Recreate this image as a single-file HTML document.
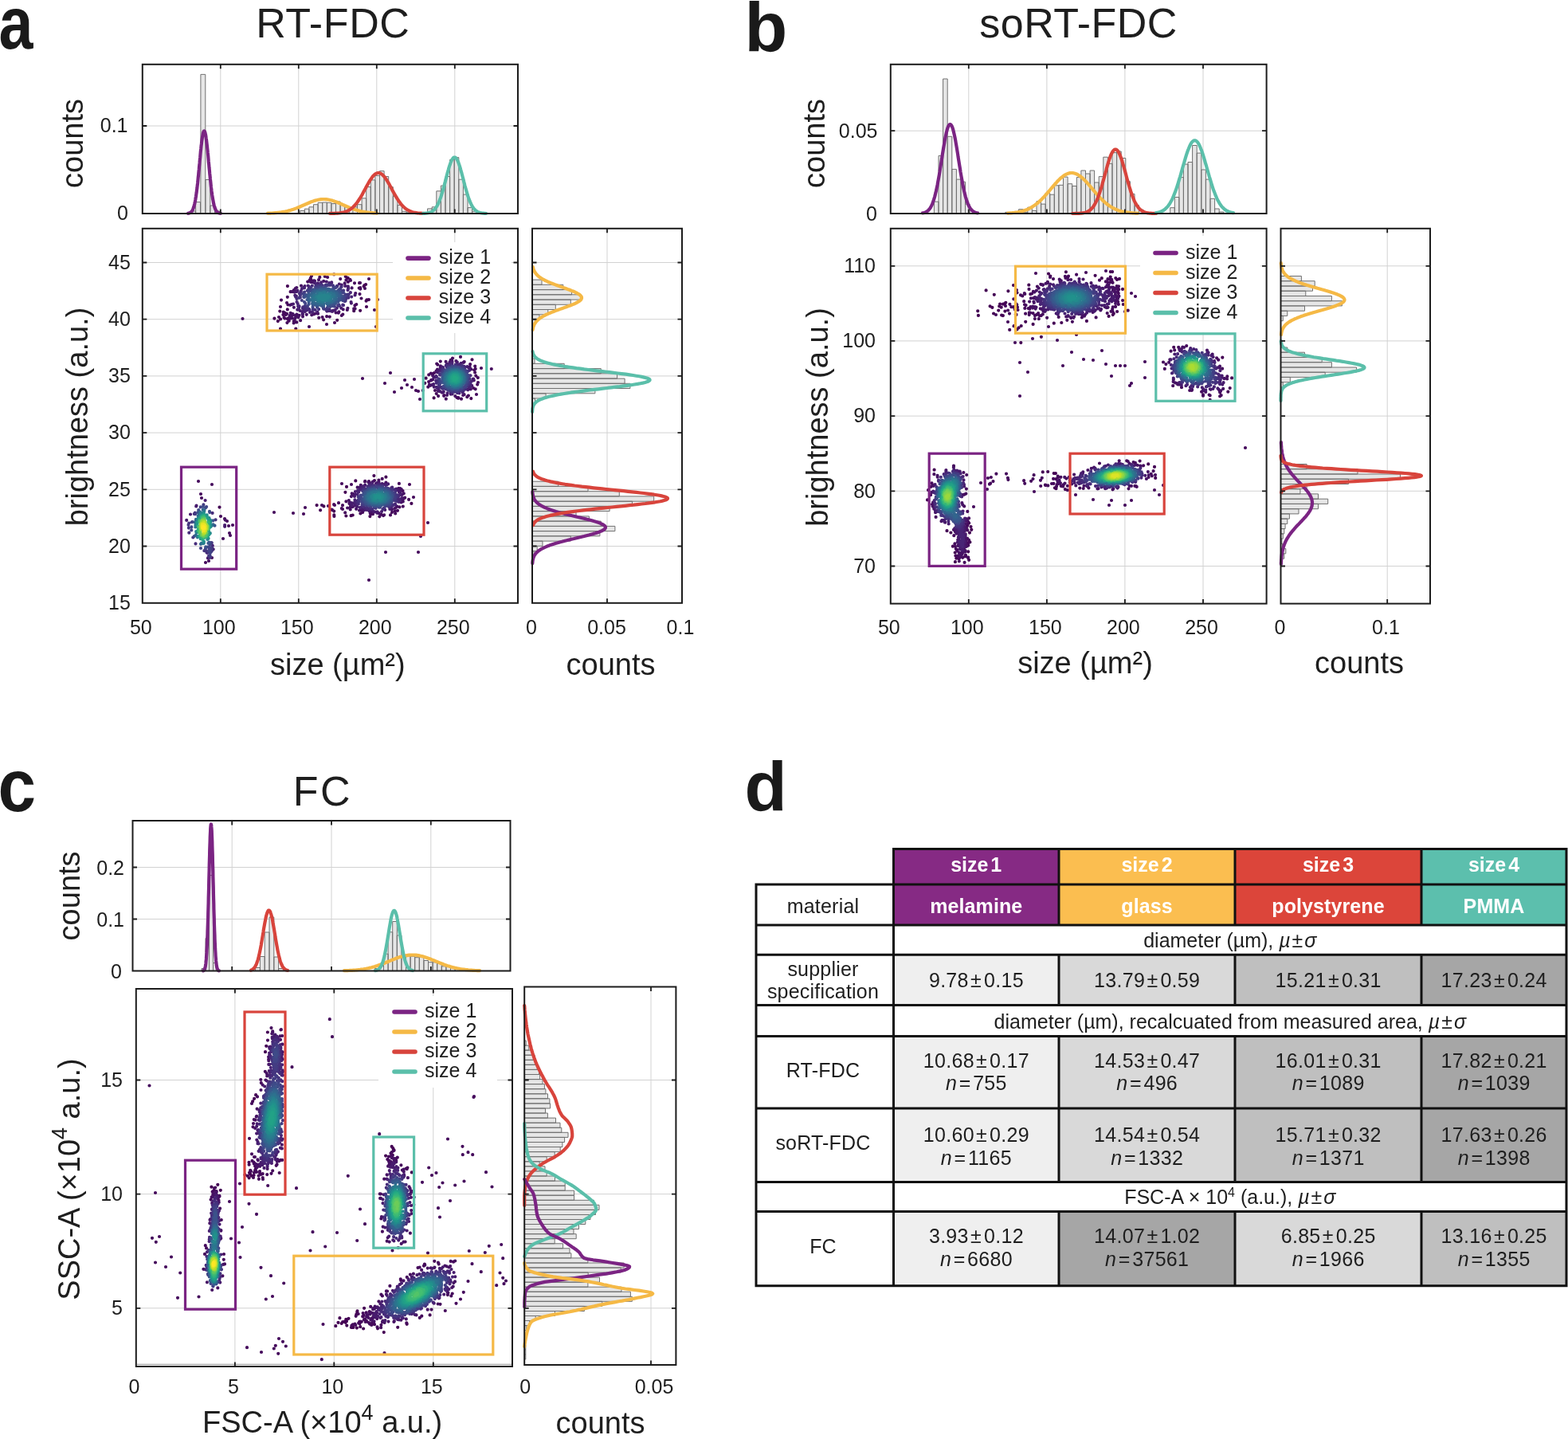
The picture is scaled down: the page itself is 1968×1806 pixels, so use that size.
<!DOCTYPE html>
<html><head><meta charset="utf-8"><title>Figure</title>
<style>html,body{margin:0;padding:0;background:#fff;width:1968px;height:1806px;overflow:hidden}svg{display:block}</style>
</head><body>
<svg width="1968" height="1806" viewBox="0 0 1968 1806" font-family="'Liberation Sans', Arial, Helvetica, sans-serif"><defs><clipPath id="ca1"><rect x="178.8" y="78.8" width="471.2" height="191.8"/></clipPath><clipPath id="ca3"><rect x="665.5" y="286.8" width="190.5" height="470"/></clipPath><clipPath id="ca2"><rect x="178.8" y="286.8" width="471.2" height="470"/></clipPath><clipPath id="cb1"><rect x="1117.8" y="78.8" width="471.8" height="191.8"/></clipPath><clipPath id="cb3"><rect x="1605" y="286.8" width="190" height="470.8"/></clipPath><clipPath id="cb2"><rect x="1117.8" y="286.8" width="471.8" height="470.8"/></clipPath><clipPath id="cc1"><rect x="166.5" y="1028" width="474" height="193"/></clipPath><clipPath id="cc3"><rect x="655.8" y="1238.5" width="192.8" height="474.5"/></clipPath><clipPath id="cc2"><rect x="170.8" y="1241" width="472.2" height="474"/></clipPath></defs><rect width="1968" height="1806" fill="#fff"/><text x="0" y="0" font-size="92" font-weight="bold" fill="#1a1a1a" transform="translate(-1.6 61) scale(0.84 1)">a</text><text x="417.8" y="47.3" font-size="52" text-anchor="middle" fill="#1e1e1e" letter-spacing="0.6">RT-FDC</text><path d="M276.8 80.8V268M374.8 80.8V268M472.8 80.8V268M570.8 80.8V268M178.8 158H650" stroke="#d2d2d2" stroke-width="1.0" fill="none"/><path d="M376.7 268V264.5H382.3V268M382.3 268V262.2H387.9V268M387.9 268V259.8H393.5V268M393.5 268V256.7H399.1V268M399.1 268V254.3H404.7V268M404.7 268V254H410.3V268M410.3 268V254.3H415.9V268M415.9 268V255.6H421.5V268M421.5 268V253H427.1V268M427.1 268V256.7H432.7V268M432.7 268V259.8H438.3V268M438.3 268V261.9H443.9V268" fill="#e6e6e6" stroke="#707070" stroke-width="1"/><path d="M442.9 268V259.8H448.5V268M448.5 268V256.7H454.1V268M454.1 268V248.8H459.7V268M459.7 268V234.6H465.3V268M465.3 268V225.9H470.9V268M470.9 268V220.4H476.5V268M476.5 268V214.6H482.1V268M482.1 268V221.5H487.7V268M487.7 268V234.6H493.3V268M493.3 268V246.4H498.9V268M498.9 268V257.4H504.5V268M504.5 268V265.3H510.1V268M510.1 268V266.8H515.7V268M515.7 268V267H521.3V268M521.3 268V266.5H526.9V268" fill="#e6e6e6" stroke="#707070" stroke-width="1"/><path d="M536.6 268V261.9H542.2V268M542.2 268V259.8H547.8V268M547.8 268V239.8H553.4V268M553.4 268V233H559V268M559 268V221.5H564.6V268M564.6 268V200.4H570.2V268M570.2 268V197.6H575.8V268M575.8 268V225.2H581.4V268M581.4 268V244.1H587V268M587 268V260.6H592.6V268M592.6 268V265.3H598.2V268" fill="#e6e6e6" stroke="#707070" stroke-width="1"/><path d="M239.7 268V265H245.6V268M245.6 268V253.6H251.5V268M251.9 268V93.4H257.8V268M257.9 268V225.5H263.8V268M263.8 268V258H269.7V268M269.6 268V265H275.5V268" fill="#e6e6e6" stroke="#707070" stroke-width="1"/><path d="M236 267.8 236.3 267.7 236.7 267.6 237 267.6 237.4 267.5 237.7 267.4 238.1 267.2 238.4 267.1 238.8 266.9 239.1 266.7 239.4 266.4 239.8 266.2 240.1 265.8 240.5 265.4 240.8 265 241.2 264.5 241.5 263.9 241.9 263.2 242.2 262.5 242.5 261.6 242.9 260.7 243.2 259.6 243.6 258.5 243.9 257.2 244.3 255.7 244.6 254.2 245 252.4 245.3 250.6 245.6 248.5 246 246.3 246.3 244 246.7 241.4 247 238.8 247.4 235.9 247.7 232.9 248.1 229.8 248.4 226.5 248.7 223.1 249.1 219.6 249.4 216 249.8 212.4 250.1 208.7 250.5 204.9 250.8 201.2 251.2 197.5 251.5 193.9 251.8 190.3 252.2 186.9 252.5 183.6 252.9 180.5 253.2 177.6 253.6 174.9 253.9 172.5 254.3 170.3 254.6 168.5 254.9 167 255.3 165.8 255.6 165 256 164.5 256.3 164.4 256.7 164.7 257 165.3 257.4 166.3 257.7 167.6 258.1 169.3 258.4 171.2 258.7 173.5 259.1 176.1 259.4 178.8 259.8 181.9 260.1 185.1 260.5 188.4 260.8 191.9 261.2 195.5 261.5 199.2 261.8 202.9 262.2 206.6 262.5 210.3 262.9 214 263.2 217.7 263.6 221.2 263.9 224.7 264.3 228 264.6 231.2 264.9 234.3 265.3 237.2 265.6 240 266 242.6 266.3 245 266.7 247.3 267 249.5 267.4 251.4 267.7 253.2 268 254.9 268.4 256.4 268.7 257.8 269.1 259 269.4 260.1 269.8 261.1 270.1 262 270.5 262.8 270.8 263.5 271.1 264.2 271.5 264.7 271.8 265.2 272.2 265.6 272.5 266 272.9 266.3 273.2 266.6 273.6 266.8 273.9 267 274.2 267.2 274.6 267.3 274.9 267.4 275.3 267.5 275.6 267.6 276 267.7 276.3 267.7 276.7 267.8 277 267.8" stroke="#7b2483" stroke-width="4.2" fill="none" stroke-linejoin="round" stroke-linecap="round" clip-path="url(#ca1)"/><path d="M336 267.7 337.2 267.7 338.3 267.6 339.5 267.6 340.6 267.5 341.8 267.5 342.9 267.4 344.1 267.3 345.2 267.2 346.4 267.1 347.5 267 348.7 266.9 349.8 266.8 351 266.6 352.1 266.5 353.3 266.3 354.4 266.1 355.6 265.9 356.7 265.7 357.9 265.5 359 265.2 360.2 265 361.3 264.7 362.5 264.4 363.6 264.1 364.8 263.8 365.9 263.4 367.1 263 368.2 262.7 369.4 262.3 370.5 261.8 371.7 261.4 372.8 261 374 260.5 375.1 260 376.3 259.5 377.4 259 378.6 258.5 379.7 258 380.9 257.5 382.1 257 383.2 256.5 384.4 256 385.5 255.5 386.7 255 387.8 254.5 389 254 390.1 253.5 391.3 253.1 392.4 252.7 393.6 252.3 394.7 251.9 395.9 251.6 397 251.2 398.2 251 399.3 250.7 400.5 250.5 401.6 250.3 402.8 250.2 403.9 250.1 405.1 250 406.2 250 407.4 250 408.5 250.1 409.7 250.2 410.8 250.3 412 250.5 413.1 250.7 414.3 251 415.4 251.2 416.6 251.5 417.7 251.9 418.9 252.3 420 252.7 421.2 253.1 422.3 253.5 423.5 254 424.6 254.5 425.8 254.9 426.9 255.4 428.1 255.9 429.3 256.5 430.4 257 431.6 257.5 432.7 258 433.9 258.5 435 259 436.2 259.5 437.3 260 438.5 260.5 439.6 260.9 440.8 261.4 441.9 261.8 443.1 262.2 444.2 262.6 445.4 263 446.5 263.4 447.7 263.7 448.8 264.1 450 264.4 451.1 264.7 452.3 265 453.4 265.2 454.6 265.5 455.7 265.7 456.9 265.9 458 266.1 459.2 266.3 460.3 266.5 461.5 266.6 462.6 266.8 463.8 266.9 464.9 267 466.1 267.1 467.2 267.2 468.4 267.3 469.5 267.4 470.7 267.4 471.8 267.5 473 267.6" stroke="#f5b946" stroke-width="4.2" fill="none" stroke-linejoin="round" stroke-linecap="round" clip-path="url(#ca1)"/><path d="M414 267.9 415 267.9 416 267.9 417 267.9 418 267.9 419 267.8 419.9 267.8 420.9 267.7 421.9 267.7 422.9 267.6 423.9 267.6 424.9 267.5 425.9 267.4 426.9 267.2 427.9 267.1 428.9 266.9 429.9 266.7 430.9 266.5 431.8 266.3 432.8 266 433.8 265.6 434.8 265.3 435.8 264.9 436.8 264.4 437.8 263.9 438.8 263.3 439.8 262.6 440.8 261.9 441.8 261.1 442.8 260.3 443.7 259.3 444.7 258.3 445.7 257.2 446.7 256 447.7 254.8 448.7 253.5 449.7 252 450.7 250.5 451.7 249 452.7 247.4 453.7 245.7 454.7 243.9 455.6 242.2 456.6 240.3 457.6 238.5 458.6 236.7 459.6 234.8 460.6 233 461.6 231.2 462.6 229.4 463.6 227.7 464.6 226.1 465.6 224.6 466.6 223.2 467.5 221.9 468.5 220.7 469.5 219.7 470.5 218.8 471.5 218.1 472.5 217.6 473.5 217.2 474.5 217 475.5 217 476.5 217.2 477.5 217.6 478.5 218.1 479.4 218.8 480.4 219.7 481.4 220.7 482.4 221.8 483.4 223.1 484.4 224.6 485.4 226.1 486.4 227.7 487.4 229.4 488.4 231.1 489.4 232.9 490.4 234.7 491.3 236.6 492.3 238.4 493.3 240.3 494.3 242.1 495.3 243.9 496.3 245.6 497.3 247.3 498.3 248.9 499.3 250.5 500.3 252 501.3 253.4 502.3 254.7 503.2 256 504.2 257.2 505.2 258.3 506.2 259.3 507.2 260.2 508.2 261.1 509.2 261.9 510.2 262.6 511.2 263.3 512.2 263.8 513.2 264.4 514.2 264.8 515.1 265.3 516.1 265.6 517.1 266 518.1 266.3 519.1 266.5 520.1 266.7 521.1 266.9 522.1 267.1 523.1 267.2 524.1 267.4 525.1 267.5 526.1 267.5 527 267.6 528 267.7 529 267.7 530 267.8 531 267.8 532 267.9" stroke="#d8443c" stroke-width="4.2" fill="none" stroke-linejoin="round" stroke-linecap="round" clip-path="url(#ca1)"/><path d="M531 267.9 531.7 267.9 532.3 267.8 533 267.8 533.7 267.7 534.3 267.7 535 267.6 535.6 267.5 536.3 267.4 537 267.3 537.6 267.2 538.3 267 539 266.8 539.6 266.6 540.3 266.4 541 266.1 541.6 265.8 542.3 265.4 542.9 264.9 543.6 264.4 544.3 263.9 544.9 263.3 545.6 262.6 546.3 261.8 546.9 260.9 547.6 259.9 548.3 258.9 548.9 257.7 549.6 256.4 550.3 255 550.9 253.5 551.6 251.9 552.2 250.2 552.9 248.4 553.6 246.4 554.2 244.4 554.9 242.2 555.6 240 556.2 237.6 556.9 235.2 557.6 232.7 558.2 230.2 558.9 227.6 559.5 225.1 560.2 222.5 560.9 219.9 561.5 217.4 562.2 215 562.9 212.6 563.5 210.3 564.2 208.2 564.9 206.2 565.5 204.4 566.2 202.7 566.8 201.3 567.5 200.1 568.2 199.1 568.8 198.3 569.5 197.8 570.2 197.5 570.8 197.5 571.5 197.8 572.2 198.3 572.8 199.1 573.5 200.1 574.2 201.3 574.8 202.7 575.5 204.4 576.1 206.2 576.8 208.2 577.5 210.3 578.1 212.6 578.8 215 579.5 217.4 580.1 219.9 580.8 222.5 581.5 225.1 582.1 227.6 582.8 230.2 583.4 232.7 584.1 235.2 584.8 237.6 585.4 240 586.1 242.2 586.8 244.4 587.4 246.4 588.1 248.4 588.8 250.2 589.4 251.9 590.1 253.5 590.7 255 591.4 256.4 592.1 257.7 592.7 258.9 593.4 259.9 594.1 260.9 594.7 261.8 595.4 262.6 596.1 263.3 596.7 263.9 597.4 264.4 598.1 264.9 598.7 265.4 599.4 265.8 600 266.1 600.7 266.4 601.4 266.6 602 266.8 602.7 267 603.4 267.2 604 267.3 604.7 267.4 605.4 267.5 606 267.6 606.7 267.7 607.3 267.7 608 267.8 608.7 267.8 609.3 267.9 610 267.9" stroke="#5bbfaa" stroke-width="4.2" fill="none" stroke-linejoin="round" stroke-linecap="round" clip-path="url(#ca1)"/><path d="M276.8 268v-5.5M276.8 80.8v5.5M374.8 268v-5.5M374.8 80.8v5.5M472.8 268v-5.5M472.8 80.8v5.5M570.8 268v-5.5M570.8 80.8v5.5M178.8 158h5.5M650 158h-5.5" stroke="#1c1c1c" stroke-width="1.8" fill="none"/><rect x="178.8" y="80.8" width="471.2" height="187.2" fill="none" stroke="#1c1c1c" stroke-width="2"/><text x="160.5" y="166.3" font-size="25" text-anchor="end" fill="#1e1e1e">0.1</text><text x="161" y="276.3" font-size="25" text-anchor="end" fill="#1e1e1e">0</text><text x="0" y="0" font-size="38" text-anchor="middle" fill="#1e1e1e" transform="translate(103.8 180) rotate(-90)">counts</text><path d="M276.8 286.8V756.8M374.8 286.8V756.8M472.8 286.8V756.8M570.8 286.8V756.8M178.8 685.5H650M178.8 614.3H650M178.8 543.1H650M178.8 471.9H650M178.8 400.7H650M178.8 329.5H650" stroke="#d2d2d2" stroke-width="1.0" fill="none"/><g clip-path="url(#ca2)"><path d="M397.6 634.1h0M402.1 640.3h0M419.4 648.0h0M419.3 646.4h0M352.0 412.5h0M344.4 399.7h0M406.4 635.4h0M530.7 490.0h0M371.3 412.5h0M460.0 385.0h0M423.2 401.8h0M591.3 500.1h0M434.4 647.5h0M452.1 389.8h0M592.5 451.3h0M469.4 597.1h0M459.1 357.0h0M435.0 610.9h0M348.8 403.1h0M516.4 631.9h0M462.9 376.1h0M440.6 647.2h0M446.3 603.4h0M544.6 499.4h0M351.3 390.6h0M484.4 598.7h0M419.2 344.4h0M391.0 346.2h0M457.4 358.1h0M419.2 641.6h0M406.1 401.3h0M416.4 639.7h0M442.7 646.5h0M433.7 347.0h0M460.4 376.4h0M459.6 377.7h0M360.9 359.1h0M275.5 636.6h0M456.6 359.4h0M433.4 617.8h0M352.1 400.5h0M451.1 355.2h0M436.7 348.9h0M444.2 390.2h0M436.0 348.9h0M464.4 648.1h0M533.3 480.8h0M534.6 474.7h0" stroke="#440154" stroke-width="4.2" stroke-linecap="round" fill="none"/><path d="M496.2 644.5h0M578.0 447.9h0M490.0 646.4h0M596.2 459.5h0M476.3 648.3h0M548.2 456.5h0M428.8 396.0h0M353.0 376.6h0M439.3 350.8h0M559.8 500.7h0M355.7 391.7h0M390.0 348.8h0M433.2 643.4h0M419.1 633.2h0M552.8 453.6h0M586.3 498.2h0M513.1 626.9h0M596.7 488.3h0M538.2 470.3h0M407.8 347.0h0M355.4 395.1h0M500.9 606.9h0M481.1 647.1h0M430.3 394.5h0M599.2 482.6h0M445.6 387.4h0M579.0 500.7h0M479.7 600.9h0M587.9 496.5h0M550.1 497.1h0M400.2 398.8h0M401.3 347.9h0M596.7 462.9h0M413.8 397.6h0M599.8 474.1h0M360.4 405.1h0M444.2 387.4h0M549.2 457.7h0M357.7 392.9h0M482.1 646.3h0M356.5 398.6h0M304.5 400.0h0M472.0 410.0h0M474.0 376.0h0M470.0 389.0h0M455.0 475.0h0M490.0 468.0h0M483.0 481.0h0M495.0 492.0h0M504.0 487.0h0M508.0 477.0h0M511.0 483.0h0M517.0 486.0h0M522.0 490.0h0M520.0 476.0h0M525.0 491.0h0M527.0 501.0h0M616.8 463.0h0M344.0 643.0h0M368.0 644.0h0M381.0 645.0h0M383.0 637.0h0M404.0 634.0h0M412.0 635.0h0M417.0 640.0h0M420.0 634.0h0M430.0 639.0h0M429.0 607.0h0M441.0 608.0h0M514.0 608.0h0M519.0 624.0h0M537.0 656.0h0M528.0 673.0h0M484.0 693.0h0M525.0 693.0h0M463.0 728.0h0M249.0 604.0h0M266.0 608.0h0M252.0 620.0h0M253.0 625.0h0M277.0 648.0h0M282.0 651.0h0M285.0 654.0h0M287.0 660.0h0M289.0 672.0h0M280.0 676.0h0M288.0 669.0h0M292.0 659.0h0M262.0 704.0h0M258.0 706.0h0M266.0 700.0h0M350.0 398.0h0M356.0 392.0h0M360.0 380.0h0M352.0 385.0h0M452.0 355.0h0M458.0 362.0h0M463.0 350.0h0M440.0 352.0h0M545.0 468.0h0M548.0 480.0h0M546.0 490.0h0M600.0 480.0h0M604.0 462.0h0M598.0 495.0h0M388.0 410.0h0M410.0 407.0h0M420.0 405.0h0M445.0 355.3h0M452.1 361.2h0M404.6 398.0h0M452.4 644.5h0M411.1 348.0h0M540.9 468.6h0M425.0 631.2h0M499.0 640.8h0M357.4 399.6h0M452.4 362.6h0M434.4 351.4h0M368.7 405.4h0M568.0 449.6h0M358.2 394.8h0M458.2 603.8h0M505.8 635.6h0M410.1 397.2h0M427.2 350.1h0M450.7 361.6h0M358.9 394.9h0M537.3 485.7h0M372.3 404.4h0M453.5 374.5h0M495.8 641.7h0M388.8 351.4h0M360.8 388.4h0M575.1 499.8h0M478.4 645.7h0M492.0 642.9h0M590.1 457.2h0M458.0 604.6h0M360.0 393.9h0M428.8 638.0h0M362.7 402.7h0M377.1 402.2h0M465.5 645.1h0M447.3 382.0h0M475.4 602.6h0M360.6 400.1h0M436.9 353.8h0M362.1 401.7h0M390.5 351.7h0M547.7 494.0h0M595.1 464.3h0M468.0 645.2h0M557.1 496.8h0M445.4 383.3h0M575.3 499.0h0M361.4 382.5h0M368.8 403.0h0M470.0 603.1h0M435.8 389.0h0M538.1 479.1h0M594.1 487.0h0M573.5 499.0h0M597.3 471.6h0M542.9 469.4h0M463.0 604.1h0M596.1 467.4h0M451.5 369.1h0M360.8 372.8h0M369.7 402.4h0M386.2 353.6h0M362.5 399.0h0M424.8 392.7h0M430.0 634.2h0M455.2 642.9h0M364.6 366.2h0M557.3 496.1h0M434.4 629.3h0M464.7 644.2h0M501.4 636.4h0M363.9 400.0h0M508.2 624.7h0M565.7 451.9h0M582.7 454.0h0M505.5 616.1h0" stroke="#450a5c" stroke-width="4.2" stroke-linecap="round" fill="none"/><path d="M559.6 453.9h0M538.9 482.8h0M503.8 614.2h0M400.0 351.2h0M439.7 639.4h0M363.6 396.0h0M393.1 352.5h0M506.8 619.3h0M462.3 605.1h0M502.3 613.1h0M364.5 398.2h0M475.6 644.2h0M394.1 352.4h0M364.7 392.8h0M436.1 637.5h0M372.2 361.0h0M364.1 382.8h0M366.3 366.1h0M370.7 362.0h0M540.0 483.9h0M421.6 392.5h0M366.7 399.4h0M581.2 496.0h0M505.8 629.5h0M365.3 397.2h0M441.7 619.3h0M452.8 608.8h0M436.4 386.8h0M543.2 471.6h0M437.9 628.0h0M391.2 395.3h0M425.4 391.3h0M582.6 495.2h0M567.1 452.5h0M395.0 352.7h0M368.9 364.1h0M370.4 399.6h0M467.8 604.7h0M552.9 459.4h0M473.2 643.7h0M549.0 463.6h0M547.5 465.6h0M390.0 354.0h0M366.1 394.2h0M448.6 611.7h0M380.0 397.3h0M561.0 496.0h0M366.4 396.1h0M366.4 393.8h0M451.0 640.6h0M541.0 477.0h0M506.3 625.9h0M500.4 612.8h0M590.7 488.4h0M505.5 628.5h0M581.8 454.9h0M378.0 358.6h0M366.8 395.6h0M567.3 452.9h0M541.0 477.6h0M440.9 623.1h0M484.4 605.7h0M367.1 393.9h0M453.2 640.8h0M541.3 477.2h0M374.4 398.2h0M432.7 355.4h0M589.6 460.7h0M463.9 605.8h0M367.6 394.2h0M393.9 394.3h0M571.3 497.1h0M439.7 636.5h0M366.0 382.2h0M391.7 354.2h0M495.5 638.0h0M505.7 625.3h0M572.5 453.1h0M438.4 631.3h0M430.7 388.3h0M282.7 652.6h0M447.1 638.8h0M371.8 396.9h0M497.2 636.8h0M384.8 394.8h0M442.5 621.3h0M475.5 605.2h0M370.4 396.1h0M491.9 639.5h0M438.5 632.1h0M503.5 630.4h0M594.8 477.3h0M370.4 364.8h0M501.8 615.4h0M591.2 463.4h0M399.0 393.7h0M549.3 465.0h0M439.5 630.8h0M498.3 635.7h0M446.2 368.0h0M441.6 361.4h0M443.4 620.1h0M440.1 635.0h0M564.5 454.3h0M395.5 393.6h0M375.6 395.8h0M450.6 611.8h0M550.0 490.8h0M504.5 620.9h0M368.9 385.8h0M552.7 461.3h0M592.3 484.1h0M442.2 636.1h0M555.0 492.7h0M464.8 642.0h0M542.3 483.1h0M369.4 366.6h0M372.4 394.6h0M594.4 477.1h0M406.2 352.9h0M456.4 640.4h0M379.9 394.6h0M466.8 642.1h0M442.9 636.0h0M543.1 476.4h0" stroke="#461264" stroke-width="4.2" stroke-linecap="round" fill="none"/><path d="M487.1 607.4h0M239.0 645.5h0M473.7 642.4h0M440.7 631.0h0M470.3 642.3h0M440.9 380.6h0M552.6 491.4h0M445.9 617.0h0M441.3 633.9h0M479.0 642.0h0M544.6 473.7h0M445.5 370.5h0M504.2 625.0h0M594.2 475.6h0M542.9 483.0h0M368.0 381.5h0M467.1 606.3h0M473.9 605.9h0M463.6 641.4h0M502.2 617.9h0M545.1 473.2h0M370.6 366.5h0M436.8 359.3h0M379.6 393.4h0M502.5 618.7h0M458.2 608.8h0M544.8 485.7h0M593.8 475.5h0M567.5 454.5h0M549.7 466.1h0M548.9 467.3h0M453.2 611.2h0M588.1 461.3h0M544.9 485.6h0M453.2 611.3h0M457.3 639.9h0M409.8 353.5h0M573.9 454.5h0M416.9 391.0h0M588.2 461.5h0M502.0 629.6h0M452.7 611.7h0M499.9 615.6h0M587.2 489.3h0M442.6 631.5h0M554.9 460.5h0M394.9 355.2h0M564.7 455.3h0M382.6 359.1h0M373.3 388.7h0M578.8 455.8h0M437.0 360.2h0M489.3 639.0h0M440.6 379.1h0M586.4 460.2h0M246.5 634.6h0M550.5 489.4h0M502.7 621.0h0M373.4 364.9h0M590.0 485.8h0M497.4 613.6h0M544.1 482.2h0M257.6 628.0h0M590.8 484.3h0M501.0 617.7h0M468.0 641.3h0M560.9 457.0h0M565.7 494.7h0M456.0 610.4h0M479.7 607.0h0M445.4 634.5h0M372.6 366.0h0M502.4 626.9h0M403.1 354.4h0M551.4 464.9h0M556.8 491.8h0M389.0 391.9h0M416.2 354.4h0M246.2 635.5h0M472.0 606.8h0M374.6 388.5h0M553.1 463.0h0M460.3 639.9h0M392.0 391.8h0M449.2 615.5h0M380.0 391.2h0M573.5 455.1h0M376.8 390.1h0M381.5 360.3h0M417.4 390.1h0M448.4 636.0h0M260.9 700.4h0M445.0 623.0h0M433.2 358.9h0M282.1 659.1h0M587.4 488.3h0M475.4 606.9h0M561.6 493.3h0M419.3 389.6h0M446.0 620.6h0M428.2 386.7h0M482.9 607.8h0M453.9 638.0h0M267.7 689.3h0M282.1 660.8h0M561.5 457.1h0M448.0 635.5h0M437.1 361.5h0M547.3 472.1h0M382.8 391.1h0M425.8 356.5h0M370.3 370.8h0M497.3 614.5h0M420.8 389.0h0M567.6 494.5h0M234.2 652.9h0M399.0 355.4h0M398.3 391.5h0M445.0 631.3h0M483.2 639.9h0M428.8 357.5h0M546.8 473.7h0M548.7 486.9h0" stroke="#471b6d" stroke-width="4.2" stroke-linecap="round" fill="none"/><path d="M501.0 628.4h0M391.7 391.3h0M500.2 629.8h0M463.4 608.5h0M379.0 362.2h0M590.0 484.2h0M451.9 636.9h0M466.3 607.9h0M414.6 390.2h0M580.7 492.4h0M386.7 358.6h0M456.4 611.0h0M547.9 485.9h0M485.2 608.7h0M450.0 615.5h0M588.9 485.7h0M437.2 362.3h0M501.3 621.0h0M375.1 386.3h0M492.2 611.5h0M461.5 639.4h0M445.5 630.1h0M381.0 389.8h0M410.3 390.6h0M445.4 627.4h0M591.9 478.6h0M556.1 461.2h0M501.2 626.6h0M374.2 384.6h0M589.0 464.9h0M453.1 636.8h0M547.9 472.8h0M559.8 458.7h0M413.2 355.2h0M412.6 390.1h0M396.7 356.4h0M441.2 372.5h0M547.9 473.1h0M374.3 384.1h0M371.1 372.6h0M590.5 481.9h0M491.5 636.4h0M576.4 493.4h0M415.9 355.6h0M382.0 361.5h0M496.2 633.2h0M449.3 617.4h0M495.7 614.4h0M550.8 487.0h0M382.4 389.2h0M452.2 614.6h0M439.9 367.2h0M484.3 609.1h0M567.3 456.4h0M447.5 632.0h0M453.9 613.4h0M371.9 371.7h0M446.5 628.7h0M565.1 457.0h0M375.6 384.6h0M456.8 611.8h0M371.7 372.6h0M477.5 608.2h0M459.2 638.1h0M375.4 384.0h0M565.7 457.0h0M454.8 613.1h0M385.3 389.3h0M591.1 478.4h0M457.7 637.6h0M372.5 379.0h0M454.1 613.6h0M590.0 482.0h0M266.8 684.9h0M373.7 381.1h0M547.2 477.9h0M583.6 460.5h0M431.0 383.1h0M436.5 364.1h0M496.0 632.5h0M450.2 617.6h0M387.8 359.7h0M500.0 623.0h0M499.7 626.7h0M381.9 388.0h0M489.3 636.7h0M582.4 459.8h0M422.9 386.7h0M377.9 365.1h0M576.8 457.4h0M474.9 608.4h0M553.6 465.2h0M448.6 620.5h0M574.0 493.1h0M379.9 386.9h0M491.2 612.4h0" stroke="#482475" stroke-width="4.2" stroke-linecap="round" fill="none"/><path d="M372.4 375.1h0M560.9 459.2h0M480.4 639.1h0M547.8 480.8h0M498.3 629.1h0M493.7 633.9h0M590.5 471.3h0M461.3 610.6h0M496.5 616.6h0M391.8 358.7h0M581.7 490.2h0M383.0 387.7h0M449.9 632.5h0M555.2 463.9h0M467.2 639.0h0M580.3 459.1h0M584.2 488.4h0M428.6 359.9h0M499.4 623.6h0M388.5 388.7h0M377.1 366.9h0M409.5 389.1h0M574.6 492.6h0M448.9 630.2h0M498.9 621.5h0M430.2 382.7h0M375.9 368.3h0M474.2 608.9h0M561.7 459.3h0M492.8 614.0h0M259.5 693.6h0M555.5 463.9h0M464.9 610.0h0M551.9 469.0h0M413.3 388.4h0M266.4 688.6h0M456.5 636.0h0M548.6 477.9h0M589.3 481.1h0M567.5 492.4h0M469.3 609.4h0M402.7 357.2h0M263.0 699.9h0M548.8 478.2h0M490.9 634.9h0M565.1 458.2h0M380.4 385.4h0M551.4 484.7h0M437.7 369.7h0M395.7 389.0h0M454.9 635.1h0M589.8 471.3h0M428.1 360.3h0M555.9 487.9h0M460.3 637.1h0M554.6 487.1h0M260.2 694.0h0M409.5 388.6h0M463.7 637.8h0M237.3 668.7h0M384.9 387.1h0M387.3 387.7h0M583.4 461.7h0M437.2 373.7h0M464.7 638.0h0M243.8 645.0h0M245.5 682.4h0M582.2 489.0h0M488.1 635.9h0M467.9 609.9h0M574.4 458.0h0M423.0 358.9h0M266.6 643.9h0M552.0 469.8h0M553.2 485.7h0M560.7 460.5h0M553.5 485.9h0M426.0 384.0h0M491.6 634.0h0M498.2 623.6h0M393.5 388.3h0M449.7 628.5h0M555.1 486.9h0M565.4 491.5h0" stroke="#462c7a" stroke-width="4.2" stroke-linecap="round" fill="none"/><path d="M437.0 370.6h0M571.5 457.9h0M237.2 656.5h0M481.9 637.6h0M581.7 489.1h0M550.9 483.0h0M409.1 388.3h0M411.8 357.5h0M497.5 621.0h0M400.9 358.0h0M449.7 623.4h0M588.5 481.2h0M495.8 618.0h0M496.8 628.4h0M397.6 358.6h0M587.7 482.7h0M492.3 614.8h0M456.3 614.4h0M423.3 359.3h0M263.9 699.3h0M412.5 357.6h0M436.5 369.6h0M409.5 357.5h0M497.4 621.3h0M587.0 466.2h0M497.8 623.4h0M579.4 459.8h0M480.3 610.2h0M477.5 609.9h0M375.4 373.8h0M236.5 658.8h0M244.8 643.7h0M574.8 491.6h0M409.1 357.6h0M265.6 687.5h0M266.1 690.9h0M552.2 470.5h0M555.8 486.9h0M589.6 475.3h0M262.1 697.5h0M450.5 628.9h0M414.2 357.9h0M450.0 626.4h0M575.8 491.3h0M450.7 629.4h0M418.0 358.4h0M392.8 387.8h0M433.6 377.7h0M488.8 635.0h0M259.0 691.4h0M454.5 633.5h0M410.4 387.7h0M496.1 628.6h0M568.7 491.6h0M550.6 475.4h0M450.2 624.3h0M376.9 370.9h0M581.6 488.6h0M432.9 378.2h0M404.3 358.1h0M389.9 361.2h0M450.5 627.7h0M570.7 491.7h0M578.1 490.3h0M555.7 465.5h0M400.1 388.1h0M408.3 358.0h0M385.4 385.8h0M265.8 681.3h0M396.2 359.4h0M256.4 691.2h0M585.6 484.9h0M418.0 358.8h0M575.9 490.9h0M236.9 662.6h0M468.1 610.6h0M270.6 652.3h0M490.4 614.4h0M550.9 479.7h0M242.3 674.5h0M458.6 613.8h0M382.8 384.2h0M584.7 485.7h0M455.2 616.2h0M552.7 470.7h0M550.8 478.5h0M471.6 637.8h0M496.5 621.7h0M406.4 387.7h0M558.8 488.0h0M435.0 373.2h0M376.8 373.4h0M434.2 375.2h0M464.2 611.7h0M387.3 362.8h0M410.4 358.3h0M553.5 469.5h0M491.6 632.6h0M557.5 464.2h0M551.2 479.1h0M486.6 612.8h0M496.2 626.4h0M562.7 489.6h0M424.2 383.3h0M431.1 364.5h0" stroke="#44347e" stroke-width="4.2" stroke-linecap="round" fill="none"/><path d="M379.7 368.5h0M455.9 633.3h0M451.3 623.6h0M585.2 465.3h0M255.4 633.4h0M263.6 697.6h0M581.1 461.8h0M469.1 610.9h0M489.0 633.9h0M410.2 358.5h0M552.0 481.1h0M451.3 626.0h0M264.8 687.7h0M566.7 490.7h0M487.0 613.1h0M551.5 476.1h0M461.6 612.9h0M552.3 481.5h0M555.3 467.1h0M427.2 362.4h0M489.9 633.3h0M567.1 459.4h0M561.0 488.7h0M472.7 610.7h0M470.0 610.9h0M580.7 461.7h0M563.7 489.7h0M419.9 384.7h0M584.2 485.4h0M382.1 366.6h0M479.9 611.2h0M469.6 637.2h0M456.6 633.4h0M466.5 611.6h0M425.2 382.3h0M573.4 490.7h0M488.5 633.9h0M588.1 472.2h0M489.4 633.4h0M406.0 387.1h0M467.1 611.5h0M399.7 359.6h0M494.6 619.6h0M487.5 634.4h0M245.0 645.2h0M495.8 623.8h0M474.6 610.9h0M433.6 369.6h0M563.3 460.9h0M495.6 625.5h0M420.8 360.5h0M484.2 612.5h0M456.2 616.6h0M578.2 489.2h0M460.1 634.7h0M477.8 611.2h0M483.7 635.6h0M483.7 635.6h0M468.8 611.4h0M465.2 636.2h0M431.6 376.6h0M261.9 692.2h0M378.9 377.0h0M469.4 611.4h0M560.1 487.7h0M586.8 480.8h0M452.8 621.6h0M491.8 616.8h0M583.7 485.3h0M555.0 468.6h0M385.8 364.8h0M421.5 360.9h0M471.4 611.3h0M386.0 384.0h0M263.9 687.5h0M265.0 681.0h0M431.0 377.1h0M265.0 692.6h0M477.0 636.7h0M495.2 624.6h0M556.8 485.4h0M486.3 634.4h0M567.4 490.1h0M410.9 386.1h0M485.3 613.2h0M457.7 633.2h0M495.0 625.9h0M432.5 374.3h0M454.6 630.7h0M587.0 479.8h0M429.3 365.0h0M495.2 623.8h0M587.8 475.9h0M587.3 471.2h0M488.7 633.1h0M467.4 612.0h0M399.5 360.2h0M494.8 621.7h0M240.8 655.3h0M564.7 489.4h0M419.6 383.9h0M493.9 628.0h0M470.2 611.6h0M494.5 626.8h0M585.8 482.1h0M432.8 371.5h0M462.9 613.3h0" stroke="#433c82" stroke-width="4.2" stroke-linecap="round" fill="none"/><path d="M452.9 622.9h0M263.9 683.7h0M430.4 377.2h0M454.3 629.8h0M488.8 632.9h0M475.4 636.6h0M583.4 485.1h0M487.6 614.5h0M462.9 613.4h0M584.8 483.5h0M485.0 613.4h0M552.9 478.6h0M572.0 490.1h0M479.9 612.0h0M492.7 618.5h0M431.1 367.5h0M252.0 688.0h0M556.8 484.8h0M567.9 460.2h0M420.4 361.1h0M576.6 460.8h0M262.4 688.1h0M486.1 613.9h0M392.5 385.4h0M262.7 691.2h0M419.4 360.9h0M263.7 694.3h0M259.1 636.1h0M263.9 690.8h0M583.1 464.7h0M396.1 361.3h0M586.8 470.8h0M414.6 385.0h0M488.0 615.0h0M553.5 479.9h0M431.5 374.5h0M430.5 376.2h0M493.6 620.3h0M251.7 636.4h0M585.8 468.4h0M431.0 375.5h0M381.6 369.7h0M429.8 366.4h0M432.0 372.6h0M403.2 360.2h0M458.3 632.8h0M453.4 626.6h0M553.7 480.0h0M240.2 665.4h0M491.4 630.4h0M587.0 478.2h0M425.5 363.4h0M580.5 487.1h0M383.3 380.9h0M473.2 611.8h0M558.3 465.5h0M579.4 487.7h0M562.3 462.4h0M476.5 611.9h0M491.3 630.4h0M570.0 460.2h0M553.7 479.7h0M483.8 634.7h0M454.0 627.7h0M581.5 486.3h0M417.5 383.9h0M429.4 366.5h0M400.3 360.8h0M583.6 465.7h0M483.1 613.2h0M569.1 460.4h0M396.4 361.6h0M457.6 617.0h0M474.2 611.9h0M382.0 379.0h0M558.9 485.8h0M398.1 385.7h0M584.4 466.7h0M241.7 655.0h0M587.1 473.7h0M587.0 473.0h0M258.0 688.2h0M563.0 488.0h0M575.9 488.9h0M456.3 630.7h0M464.3 613.5h0M586.6 478.4h0M581.9 464.3h0M481.0 612.8h0M429.5 367.1h0M405.5 385.7h0M561.3 463.3h0M458.2 616.7h0M580.3 463.2h0M453.9 625.4h0M571.6 489.6h0M418.5 361.4h0M425.3 363.9h0M570.6 460.5h0M555.7 469.6h0M240.3 661.4h0M261.4 686.3h0M428.8 366.6h0M459.1 632.6h0M585.0 468.1h0M567.4 460.9h0M469.4 612.5h0M381.2 372.6h0M388.3 365.2h0M493.2 621.7h0" stroke="#414487" stroke-width="4.2" stroke-linecap="round" fill="none"/><path d="M572.6 460.7h0M564.3 462.0h0M462.9 634.1h0M586.3 471.6h0M491.0 618.3h0M249.2 640.0h0M555.7 470.2h0M558.8 465.9h0M263.0 641.9h0M489.0 631.4h0M567.6 461.1h0M458.4 617.1h0M463.6 634.2h0M393.0 363.3h0M457.0 618.5h0M571.5 460.8h0M418.4 382.9h0M461.5 615.2h0M243.8 673.0h0M407.2 360.8h0M471.3 635.6h0M254.8 636.0h0M563.0 487.5h0M381.9 372.9h0M390.4 364.5h0M454.8 626.2h0M459.7 632.4h0M581.2 464.4h0M457.6 618.1h0M469.9 612.8h0M405.9 385.1h0M407.0 360.9h0M489.0 616.9h0M463.2 614.6h0M430.0 372.1h0M573.5 461.2h0M566.8 488.6h0M478.6 612.9h0M573.9 488.8h0M456.4 619.7h0M570.0 461.0h0M486.0 632.8h0M455.6 621.1h0M466.4 613.6h0M561.6 463.9h0M488.5 616.8h0M390.3 364.9h0M489.4 617.5h0M585.3 480.0h0M383.8 370.0h0M561.9 463.8h0M492.8 623.8h0M457.0 619.1h0M492.7 623.1h0M398.3 384.7h0M387.7 381.8h0M457.0 619.3h0M458.0 618.2h0M569.1 488.8h0M428.9 374.5h0M585.6 478.8h0M483.0 614.2h0M491.7 620.6h0M555.1 479.0h0M263.2 643.1h0M455.7 627.3h0M462.4 633.1h0M424.7 365.1h0M456.5 628.6h0M405.3 361.4h0M476.0 635.1h0M486.1 615.7h0M474.4 635.1h0M559.8 465.8h0M490.6 628.7h0M258.1 637.3h0M477.7 613.2h0M489.5 618.1h0M490.9 619.8h0" stroke="#3e4b88" stroke-width="4.2" stroke-linecap="round" fill="none"/><path d="M484.4 615.0h0M427.1 376.5h0M402.6 361.8h0M421.0 380.9h0M384.1 370.8h0M491.9 622.1h0M584.9 470.0h0M579.3 486.3h0M581.3 465.2h0M491.5 627.1h0M490.8 628.1h0M481.0 613.9h0M490.3 628.8h0M555.4 473.5h0M478.1 634.7h0M467.8 634.5h0M556.8 470.0h0M424.4 378.7h0M411.8 383.7h0M555.2 475.4h0M383.7 371.9h0M464.1 614.9h0M565.8 462.4h0M458.4 630.3h0M456.3 627.2h0M415.5 382.8h0M426.4 367.0h0M428.6 371.2h0M491.4 621.3h0M563.1 486.7h0M555.4 474.1h0M557.5 469.0h0M488.1 617.3h0M579.9 464.3h0M555.4 474.7h0M557.9 468.5h0M488.5 617.7h0M470.5 634.7h0M561.2 485.5h0M393.1 383.1h0M258.3 686.3h0M456.6 627.4h0M269.5 659.7h0M561.9 464.5h0M488.7 618.0h0M461.8 632.3h0M458.0 619.2h0M474.2 634.8h0M424.3 365.7h0M387.4 367.9h0M490.2 628.3h0M423.8 365.4h0M426.9 368.1h0M560.6 485.0h0M488.0 617.5h0M585.6 474.2h0M467.1 614.2h0M267.5 653.3h0M392.8 382.8h0M556.4 480.4h0M475.6 613.5h0M486.9 631.2h0M426.2 367.6h0M560.4 465.8h0M561.4 485.4h0M419.4 381.1h0M459.9 617.7h0M471.1 634.5h0M577.5 463.2h0M457.3 620.7h0M486.3 616.5h0M489.5 619.1h0M559.6 484.0h0M569.4 488.1h0M489.6 628.7h0M478.6 634.1h0M398.1 363.3h0M579.3 485.7h0M490.0 628.1h0M585.2 476.9h0M248.4 643.2h0M459.7 618.1h0M385.5 370.7h0M477.7 634.2h0M385.7 370.5h0M489.0 618.8h0M585.2 473.4h0M574.7 462.4h0M461.9 631.9h0M408.9 362.2h0M585.0 472.7h0M460.9 631.3h0M490.9 622.0h0M574.8 487.5h0M487.7 617.9h0M488.4 629.6h0M566.7 487.4h0M477.6 613.9h0M387.6 379.6h0M412.5 362.5h0M481.8 633.1h0M488.9 619.0h0M556.5 479.4h0" stroke="#3b528a" stroke-width="4.2" stroke-linecap="round" fill="none"/><path d="M556.0 475.0h0M405.9 383.6h0M426.4 369.2h0M477.8 614.1h0M561.3 484.8h0M403.1 383.6h0M568.4 487.6h0M393.4 365.2h0M562.2 465.0h0M566.0 487.0h0M467.6 633.6h0M426.9 371.7h0M558.7 468.6h0M404.0 362.7h0M490.7 625.1h0M392.5 381.9h0M395.6 364.5h0M478.2 614.3h0M475.1 634.1h0M556.4 474.0h0M462.9 632.0h0M385.5 376.1h0M488.9 619.4h0M396.7 382.9h0M570.2 462.3h0M426.3 373.9h0M476.1 614.1h0M469.2 614.4h0M486.5 617.4h0M558.7 468.8h0M479.6 633.4h0M467.6 614.8h0M457.4 625.9h0M426.3 370.2h0M478.3 633.7h0M486.7 630.4h0M419.8 380.0h0M557.1 471.7h0M404.7 383.4h0M457.3 623.1h0M582.3 467.7h0M405.2 383.4h0M479.1 633.5h0M460.6 618.2h0M482.7 632.4h0M415.3 363.4h0M481.0 615.1h0M459.3 629.1h0M463.2 631.8h0M468.7 633.5h0M570.1 462.5h0M262.4 680.7h0M457.5 624.0h0M566.2 486.8h0M489.9 626.3h0M490.2 622.9h0M461.6 617.6h0M481.7 632.6h0M459.0 620.1h0M418.7 364.5h0M479.1 633.3h0M461.4 617.8h0M467.2 633.1h0M462.8 631.5h0M561.6 484.5h0M386.5 376.4h0M564.9 486.2h0M579.1 484.9h0M469.5 633.5h0M407.1 363.0h0M571.9 487.3h0M386.5 371.9h0M425.7 373.1h0M425.7 370.8h0M392.2 381.0h0M399.5 382.8h0M581.0 466.8h0M584.5 474.8h0M412.8 363.4h0M261.4 681.8h0M386.6 372.5h0M556.8 476.1h0M407.8 363.1h0M485.7 630.5h0M413.7 363.6h0M485.9 630.3h0M463.4 616.9h0M469.9 614.8h0M423.9 368.1h0M420.5 365.7h0M386.6 375.5h0M405.9 382.8h0M558.4 470.2h0M582.3 468.5h0M584.2 476.9h0M484.9 617.1h0M558.9 481.7h0M424.2 375.5h0M465.1 616.2h0M458.4 626.6h0M422.3 377.4h0" stroke="#38588c" stroke-width="4.2" stroke-linecap="round" fill="none"/><path d="M402.4 363.6h0M425.3 371.7h0M388.0 377.6h0M561.6 484.1h0M412.0 363.5h0M466.6 632.6h0M392.5 380.7h0M425.0 370.6h0M388.3 370.2h0M560.0 482.7h0M396.1 365.3h0M410.5 363.4h0M422.0 366.9h0M575.2 486.4h0M395.6 365.5h0M583.0 480.1h0M574.2 463.4h0M566.4 463.8h0M488.6 627.1h0M558.4 470.6h0M477.3 614.9h0M406.4 363.5h0M463.9 617.0h0M557.8 479.1h0M414.7 364.1h0M414.4 364.1h0M410.5 363.6h0M388.1 377.1h0M486.9 629.1h0M570.7 486.9h0M582.7 469.6h0M423.0 368.1h0M564.3 464.8h0M579.3 465.8h0M470.9 615.0h0M583.8 477.1h0M489.3 624.0h0M402.5 382.4h0M391.8 367.7h0M488.2 627.4h0M569.4 463.3h0M465.1 616.6h0M469.9 633.0h0M462.4 618.1h0M387.4 373.2h0M458.8 622.8h0M486.8 619.1h0M558.8 480.7h0M458.7 623.8h0M470.8 615.1h0M573.4 486.6h0M469.8 615.3h0M412.2 381.4h0M400.7 382.2h0M458.7 624.4h0M570.9 463.2h0M463.4 617.5h0M581.4 481.9h0M487.5 628.1h0M558.4 471.2h0M577.6 485.1h0M557.4 475.7h0M583.5 477.9h0M400.8 364.5h0M483.7 617.1h0M461.8 618.7h0M421.0 366.9h0M565.0 464.7h0M416.5 365.0h0M410.9 381.5h0M464.4 631.2h0M462.2 629.9h0M407.0 363.9h0M488.8 623.2h0M483.7 630.7h0M267.5 658.4h0M419.7 378.1h0M583.4 472.3h0M466.5 616.4h0M488.7 623.6h0M565.8 485.7h0M404.4 364.1h0M459.2 624.9h0M560.0 481.8h0M390.7 369.2h0M583.5 473.0h0M403.8 364.3h0M398.0 365.5h0M396.8 381.2h0M417.8 379.0h0M406.2 381.9h0M572.0 463.6h0M396.7 381.1h0M393.6 380.1h0M471.3 632.7h0M477.4 615.5h0M575.8 464.4h0" stroke="#355f8d" stroke-width="4.2" stroke-linecap="round" fill="none"/><path d="M466.3 616.6h0M560.9 468.0h0M479.4 615.9h0M560.3 468.8h0M406.2 381.8h0M415.7 379.8h0M414.9 380.0h0M389.1 376.2h0M418.6 366.3h0M462.2 619.0h0M561.1 482.6h0M479.7 632.0h0M479.1 615.9h0M421.9 368.7h0M573.8 486.0h0M402.5 364.7h0M459.7 622.7h0M398.5 365.6h0M578.2 484.2h0M422.1 375.4h0M485.8 619.1h0M459.6 623.6h0M459.5 624.6h0M565.8 464.7h0M399.9 381.5h0M576.2 485.2h0M460.0 626.5h0M566.9 464.4h0M410.3 381.1h0M583.4 474.6h0M394.4 380.1h0M479.4 631.9h0M473.8 632.6h0M418.2 366.3h0M392.3 368.7h0M484.1 618.0h0M487.7 622.0h0M563.1 483.9h0M401.6 365.0h0M398.0 381.0h0M466.2 631.3h0M580.5 467.9h0M390.2 370.7h0M393.1 379.3h0M250.8 642.3h0M574.8 485.6h0M488.0 624.7h0M465.5 617.3h0M420.6 368.0h0M488.0 623.5h0M558.7 478.7h0M579.5 483.0h0M579.1 483.4h0M484.8 618.7h0M412.6 380.4h0M419.0 367.0h0M580.7 468.2h0M254.7 639.8h0M403.1 381.5h0M579.8 467.3h0M565.9 464.9h0M417.7 366.4h0M252.0 682.8h0M244.7 655.5h0M475.3 615.7h0M559.2 471.4h0M422.6 371.4h0M582.8 477.4h0M558.3 476.2h0M558.3 475.6h0M420.6 368.3h0M572.4 485.9h0M583.1 474.8h0M474.4 615.8h0M473.1 632.3h0M414.6 379.6h0M564.1 466.0h0M391.0 370.5h0M246.0 651.8h0M394.8 367.6h0M484.7 629.1h0M412.9 365.2h0M392.2 369.4h0M421.8 374.1h0M421.6 374.5h0M465.0 630.4h0M582.2 471.0h0M471.0 616.0h0M391.0 370.7h0M467.4 631.3h0M471.5 616.0h0M558.5 474.8h0M461.7 627.9h0M402.6 381.1h0M245.9 671.8h0M392.4 378.2h0M465.1 630.4h0M420.8 369.0h0M393.6 368.5h0M245.8 671.6h0M466.4 617.3h0M481.6 630.7h0M467.6 616.9h0M573.9 485.5h0M400.9 380.9h0M460.6 625.4h0M479.4 616.7h0M578.7 483.2h0M415.5 378.9h0M472.1 632.0h0M486.8 626.2h0M410.1 380.4h0" stroke="#32658d" stroke-width="4.2" stroke-linecap="round" fill="none"/><path d="M577.1 484.2h0M487.2 625.1h0M476.2 631.9h0M417.1 378.0h0M412.0 380.0h0M462.0 620.6h0M483.2 629.8h0M574.0 464.7h0M256.4 640.3h0M558.9 473.7h0M569.8 485.7h0M486.2 621.0h0M569.1 485.6h0M391.1 376.3h0M461.1 626.2h0M461.0 622.5h0M391.2 376.3h0M560.7 469.6h0M487.0 624.9h0M405.4 380.8h0M416.6 378.1h0M462.7 620.0h0M560.9 481.1h0M561.6 468.6h0M419.0 376.4h0M580.3 468.7h0M398.3 366.8h0M485.4 620.3h0M578.4 466.9h0M419.4 368.6h0M582.4 473.3h0M567.3 485.0h0M486.4 626.2h0M484.7 628.3h0M570.3 464.5h0M401.5 380.5h0M581.0 480.2h0M576.1 465.6h0M571.6 485.4h0M420.9 373.2h0M581.9 478.2h0M484.6 619.8h0M577.4 466.3h0M465.4 618.3h0M391.6 371.8h0M483.2 629.3h0M562.4 482.3h0M468.3 617.2h0M560.6 470.3h0M393.3 377.6h0M573.4 464.9h0M574.5 465.1h0M578.6 482.8h0M559.2 474.0h0M420.6 371.3h0M462.6 620.7h0M559.3 477.4h0M468.2 617.3h0M566.9 465.3h0M245.8 653.5h0M570.8 464.7h0M405.4 380.4h0M402.1 380.3h0M393.4 377.4h0M391.8 372.1h0M468.0 630.7h0M559.8 478.4h0M483.9 628.6h0M403.7 366.0h0M574.1 465.1h0M474.7 616.6h0M463.7 628.4h0M580.7 480.2h0M570.8 485.2h0M405.5 365.9h0M572.8 464.9h0M406.7 365.8h0M413.5 378.7h0M393.6 377.2h0M469.7 631.0h0M419.8 370.9h0M470.1 617.1h0M484.8 620.6h0M418.1 368.8h0M580.9 479.6h0M392.8 371.3h0M419.4 374.3h0M464.4 619.5h0M569.1 485.0h0M476.1 631.2h0M559.5 476.1h0M409.3 366.0h0M483.0 628.9h0M582.1 475.2h0M419.6 371.0h0M462.3 622.0h0M485.7 625.6h0M393.7 370.4h0M570.0 485.0h0M570.4 465.0h0" stroke="#306c8e" stroke-width="4.2" stroke-linecap="round" fill="none"/><path d="M559.8 473.1h0M465.8 618.7h0M392.6 375.5h0M581.2 478.9h0M484.2 627.8h0M559.6 476.7h0M581.8 476.7h0M485.1 626.6h0M392.3 374.2h0M415.5 367.6h0M481.9 629.4h0M470.6 631.0h0M577.7 467.1h0M479.0 617.5h0M572.4 465.1h0M563.0 482.2h0M419.1 370.7h0M462.2 623.5h0M568.8 465.3h0M463.3 621.1h0M485.5 625.4h0M580.7 470.7h0M462.5 625.7h0M475.7 617.1h0M570.9 484.9h0M576.1 466.3h0M581.7 473.5h0M581.1 478.6h0M472.6 617.1h0M468.8 617.8h0M465.4 628.9h0M481.0 629.5h0M462.5 624.9h0M266.2 659.4h0M463.7 620.9h0M407.4 366.5h0M395.2 370.1h0M468.4 618.0h0M394.0 371.3h0M563.4 482.2h0M479.3 630.0h0M462.7 623.1h0M580.4 479.6h0M572.9 465.5h0M485.2 624.7h0M249.4 646.2h0M570.4 484.7h0M417.5 369.7h0M418.6 372.5h0M572.2 484.6h0M462.7 624.9h0M248.6 647.6h0M575.0 483.9h0M571.3 484.6h0M462.7 623.8h0M479.3 618.1h0M413.7 377.5h0M398.7 368.4h0M569.0 484.4h0M468.9 630.0h0M400.2 367.9h0M484.4 621.9h0M561.6 470.5h0M570.3 484.5h0M484.9 623.4h0M562.3 480.8h0M253.0 681.7h0M561.8 480.1h0M482.4 628.2h0M570.6 484.4h0M577.5 467.7h0M394.0 373.7h0M466.5 619.3h0M264.6 653.3h0M560.8 478.1h0M567.6 483.9h0M475.9 617.6h0M577.8 468.0h0M484.6 622.9h0M571.8 484.4h0M481.9 628.4h0M401.4 367.8h0M475.2 617.6h0M395.2 376.0h0" stroke="#2d728e" stroke-width="4.2" stroke-linecap="round" fill="none"/><path d="M479.6 618.5h0M251.9 643.3h0M571.4 465.7h0M472.4 630.4h0M577.7 482.0h0M563.8 481.9h0M401.6 378.6h0M401.5 367.9h0M247.9 674.3h0M404.5 378.9h0M463.5 625.4h0M398.7 377.9h0M483.0 620.7h0M578.5 468.7h0M405.2 378.8h0M572.0 484.2h0M414.6 376.3h0M564.7 467.7h0M414.1 376.5h0M404.6 378.7h0M406.2 367.3h0M477.2 629.9h0M471.4 618.0h0M580.7 472.5h0M563.7 481.7h0M403.9 378.6h0M579.9 470.7h0M467.2 619.4h0M484.2 623.3h0M464.9 627.0h0M572.1 484.1h0M574.4 483.6h0M245.4 658.9h0M479.8 619.0h0M483.1 626.7h0M254.1 681.8h0M256.2 642.0h0M567.5 466.5h0M395.2 373.4h0M575.6 467.0h0M416.7 372.7h0M580.6 472.6h0M463.9 625.0h0M479.9 628.9h0M405.0 367.7h0M561.6 471.6h0M479.0 618.8h0M466.9 628.4h0M397.5 376.7h0M413.4 376.4h0M475.7 618.1h0M395.4 373.4h0M562.8 480.6h0M561.6 471.7h0M407.3 367.7h0M478.3 629.4h0M579.0 469.7h0M415.4 374.8h0M245.3 661.4h0M415.5 374.6h0M400.1 377.6h0M478.1 629.4h0M481.8 620.4h0M561.1 473.2h0M255.5 681.9h0M407.0 378.0h0M413.7 369.4h0M482.2 620.9h0M482.3 626.9h0M481.6 627.6h0M567.8 466.7h0M405.8 378.0h0M412.0 368.7h0M396.2 374.4h0M580.2 472.3h0M576.5 482.2h0M483.2 622.7h0M407.1 377.8h0M411.0 376.9h0M467.7 628.4h0M575.5 482.7h0M396.3 373.4h0M576.6 468.0h0M474.9 618.4h0M483.4 623.8h0M472.9 629.7h0M411.9 376.4h0M482.2 621.3h0M401.7 369.0h0M402.4 377.6h0M413.9 370.0h0M578.0 480.9h0M561.2 474.5h0M408.0 368.3h0" stroke="#2a788e" stroke-width="4.2" stroke-linecap="round" fill="none"/><path d="M563.1 480.3h0M571.6 483.6h0M578.6 469.8h0M264.2 653.6h0M482.8 622.4h0M408.3 377.4h0M568.4 483.4h0M402.9 368.8h0M468.8 628.7h0M412.9 375.6h0M480.6 627.8h0M572.5 466.6h0M483.0 624.5h0M409.9 376.8h0M397.9 371.6h0M467.4 627.9h0M397.3 372.8h0M569.9 483.5h0M399.5 376.3h0M411.7 369.4h0M482.3 626.0h0M401.1 369.7h0M573.4 483.2h0M562.1 472.1h0M572.4 466.6h0M579.0 479.3h0M474.5 618.7h0M473.8 629.3h0M476.5 619.0h0M482.7 624.4h0M563.5 470.0h0M482.7 623.4h0M246.5 668.6h0M563.2 479.9h0M578.1 480.3h0M561.6 476.4h0M414.0 373.5h0M465.5 622.9h0M573.4 467.0h0M412.0 375.4h0M572.1 466.7h0M399.4 375.7h0M413.5 371.3h0M569.2 466.9h0M401.4 370.0h0M561.8 477.0h0M576.3 468.3h0M255.7 681.2h0M578.2 480.0h0M465.8 622.9h0M577.9 480.3h0M246.2 667.0h0M413.2 373.6h0M481.5 622.0h0M578.4 479.6h0M465.9 623.2h0M413.1 373.1h0M579.8 476.5h0M407.2 369.4h0M577.6 480.5h0M572.1 467.0h0M472.7 628.8h0M411.3 370.5h0M561.9 475.0h0M261.6 675.8h0M574.6 482.3h0M252.2 644.4h0M404.5 376.4h0M247.9 651.5h0M575.7 481.7h0M403.2 370.1h0M575.0 482.1h0M401.0 375.4h0M562.5 472.4h0M466.2 623.3h0M466.2 624.7h0M467.5 626.7h0" stroke="#287e8e" stroke-width="4.2" stroke-linecap="round" fill="none"/><path d="M399.7 372.7h0M412.4 372.6h0M470.6 628.3h0M411.9 371.5h0M477.6 628.1h0M262.5 650.2h0M405.1 376.2h0M579.3 472.8h0M263.4 652.3h0M468.6 627.3h0M400.3 374.3h0M574.8 482.1h0M400.5 374.6h0M479.2 620.7h0M476.3 619.7h0M466.5 623.5h0M411.5 373.8h0M255.4 643.2h0M401.0 371.7h0M562.1 475.7h0M401.6 375.0h0M468.5 627.1h0M476.3 619.8h0M410.8 374.1h0M467.9 621.5h0M567.3 468.0h0M471.4 628.2h0M579.5 475.2h0M408.8 375.0h0M572.4 482.6h0M478.1 620.5h0M468.2 621.5h0M478.6 627.3h0M564.3 470.2h0M403.3 375.3h0M480.5 622.3h0M264.2 655.2h0M566.6 481.7h0M479.8 621.6h0M579.0 472.6h0M408.8 370.9h0M401.8 374.3h0M480.9 624.4h0M407.4 375.1h0M403.8 371.1h0M467.1 623.5h0M479.9 621.8h0M406.4 370.8h0M568.2 482.2h0M480.8 624.5h0M403.2 374.7h0M403.5 371.5h0M567.2 481.8h0M402.6 372.1h0M407.8 374.6h0M579.1 476.6h0M479.6 621.8h0M574.6 481.7h0M479.2 626.5h0M562.7 473.6h0M470.4 627.5h0M565.1 480.4h0M469.5 627.0h0M476.9 627.6h0M566.1 469.0h0M476.3 627.8h0M467.8 625.5h0M405.2 371.3h0M576.9 469.8h0M568.4 467.9h0M402.8 372.7h0M409.0 373.5h0M478.5 626.8h0M577.9 479.0h0M577.2 470.2h0M473.2 627.9h0M404.9 371.8h0M573.1 467.9h0M263.4 653.2h0M406.9 371.8h0M568.2 468.1h0M470.2 627.2h0M480.1 625.0h0M574.9 468.5h0M404.8 374.0h0M406.4 374.1h0M248.2 651.7h0M568.5 468.0h0M567.3 481.6h0M249.1 649.8h0M404.8 372.4h0M474.5 620.3h0M407.3 373.4h0M470.7 627.2h0M404.8 373.0h0M479.4 622.4h0M260.4 676.9h0M565.7 480.6h0M470.5 621.0h0M476.0 627.4h0M570.3 482.2h0M263.8 669.2h0M248.6 673.2h0" stroke="#26848d" stroke-width="4.2" stroke-linecap="round" fill="none"/><path d="M252.1 645.4h0M469.9 626.7h0M479.8 623.8h0M573.7 468.2h0M566.8 481.2h0M476.5 627.1h0M566.7 481.1h0M568.3 468.3h0M478.1 621.8h0M578.8 474.9h0M478.5 625.8h0M469.8 621.9h0M474.1 620.8h0M247.1 655.8h0M571.9 482.0h0M564.0 478.5h0M475.0 620.9h0M477.3 621.5h0M565.2 470.3h0M259.7 646.4h0M569.7 468.1h0M470.2 621.9h0M478.8 623.2h0M577.9 477.8h0M578.6 475.5h0M563.4 473.6h0M477.7 622.1h0M478.3 622.6h0M469.4 625.1h0M477.5 626.0h0M471.1 626.4h0M578.1 477.3h0M469.5 625.1h0M471.7 621.5h0M478.4 625.0h0M571.1 468.2h0M477.9 625.6h0M469.6 623.0h0M566.5 469.5h0M563.5 476.7h0M469.6 624.7h0M576.9 479.1h0M476.6 621.9h0M566.3 480.3h0M569.9 468.4h0M477.4 625.5h0M577.9 477.1h0M578.2 475.8h0M578.1 473.5h0M576.3 470.5h0M576.9 478.8h0M477.9 624.1h0M473.3 621.8h0M470.2 624.6h0M566.2 470.1h0M246.7 658.9h0M564.0 477.1h0M470.4 623.4h0M476.1 622.3h0M571.2 481.5h0M573.1 468.8h0M264.5 661.1h0M473.0 622.1h0" stroke="#238b8c" stroke-width="4.2" stroke-linecap="round" fill="none"/><path d="M576.4 479.2h0M471.3 622.8h0M565.1 478.9h0M564.2 472.8h0M247.5 655.3h0M475.2 622.3h0M475.7 622.6h0M475.5 622.5h0M472.1 622.7h0M576.4 471.0h0M575.2 480.0h0M471.2 624.0h0M476.6 624.3h0M474.1 622.4h0M476.6 624.1h0M565.5 479.1h0M471.6 624.8h0M476.1 623.1h0M570.4 468.8h0M576.4 478.8h0M476.3 624.4h0M575.0 469.9h0M564.3 473.2h0M255.8 679.4h0M577.7 476.0h0M576.9 471.9h0M569.8 481.1h0M475.7 624.2h0M472.6 623.4h0M577.7 475.2h0M568.1 480.6h0M566.3 479.6h0M472.7 624.0h0M566.0 479.2h0M570.2 481.1h0M564.4 473.4h0M571.8 469.0h0M475.0 624.0h0M565.6 478.8h0M474.3 624.1h0M573.6 480.5h0M255.5 644.8h0M572.9 469.4h0M564.7 473.3h0M263.9 657.9h0M566.9 470.5h0M576.9 472.8h0M564.5 475.4h0M568.4 469.8h0M577.2 474.7h0M568.8 480.4h0M262.9 669.8h0M565.7 471.9h0" stroke="#21918c" stroke-width="4.2" stroke-linecap="round" fill="none"/><path d="M572.8 480.4h0M569.9 469.5h0M564.7 475.5h0M567.7 479.7h0M566.0 478.3h0M566.7 479.0h0M262.4 671.0h0M571.8 469.6h0M574.1 470.4h0M574.4 479.3h0M565.4 473.5h0M576.6 474.1h0M574.9 478.7h0M576.4 476.5h0M575.5 478.1h0M576.6 475.1h0M260.8 649.8h0M565.8 472.9h0M566.8 478.4h0M566.6 471.9h0M568.1 470.7h0M565.9 477.2h0M575.8 477.3h0M566.3 472.5h0M567.7 479.0h0M576.3 474.8h0M251.7 676.2h0M250.0 650.5h0M260.8 673.9h0M565.9 473.7h0" stroke="#21978a" stroke-width="4.2" stroke-linecap="round" fill="none"/><path d="M571.6 479.7h0M260.0 648.8h0M568.6 470.8h0M575.0 477.9h0M262.8 655.4h0M567.2 478.2h0M573.4 471.0h0M572.2 479.5h0M569.6 470.6h0M571.7 479.5h0M569.3 470.8h0M572.1 470.7h0M575.8 475.8h0M575.8 475.6h0M248.1 656.1h0M571.0 479.4h0M574.5 472.0h0M569.9 470.7h0M261.3 651.5h0M262.1 653.3h0M574.3 478.1h0M575.6 475.2h0M573.1 478.7h0M262.0 670.8h0M570.2 470.9h0M570.5 470.9h0M566.6 473.6h0M256.7 646.2h0M570.6 479.1h0M573.2 471.6h0M575.1 473.9h0M567.7 472.5h0M574.9 476.5h0M566.9 473.7h0M574.4 477.0h0M566.8 475.2h0" stroke="#229c88" stroke-width="4.2" stroke-linecap="round" fill="none"/><path d="M261.9 670.5h0M572.1 478.4h0M569.8 471.6h0M567.0 475.1h0M262.9 657.0h0M567.8 473.0h0M573.9 477.2h0M568.6 477.7h0M252.0 648.4h0M256.2 646.6h0M568.9 472.4h0M573.5 477.1h0M571.6 471.9h0M250.1 651.5h0M567.5 475.0h0M571.7 478.0h0M572.0 472.2h0M253.9 677.0h0M574.0 473.9h0M568.2 476.6h0M260.1 674.0h0M568.5 476.9h0M571.1 477.9h0M568.7 476.9h0M573.8 474.5h0M572.5 472.8h0M571.3 472.5h0M250.8 673.5h0M568.5 476.3h0M570.3 472.7h0M568.7 476.2h0M254.5 647.0h0" stroke="#22a286" stroke-width="4.2" stroke-linecap="round" fill="none"/><path d="M570.0 476.9h0M253.9 647.4h0M570.1 473.1h0M248.4 666.5h0M256.1 647.0h0M250.4 672.5h0M573.0 474.7h0M253.6 647.6h0M570.9 476.7h0M569.2 475.3h0M571.0 473.5h0M572.5 475.6h0M569.8 474.0h0M571.6 476.2h0M570.4 476.2h0M569.5 475.1h0M571.8 476.0h0M571.0 476.1h0M571.2 474.2h0M571.0 475.6h0M571.3 475.2h0M570.8 475.4h0M254.4 647.5h0M262.8 662.6h0M248.5 665.5h0" stroke="#22a884" stroke-width="4.2" stroke-linecap="round" fill="none"/><path d="M253.6 675.7h0M261.5 654.9h0M250.1 653.4h0M248.5 660.2h0M253.4 675.4h0M250.8 672.1h0M256.0 648.0h0M253.0 649.1h0M262.4 660.0h0M262.0 666.3h0" stroke="#2bae7f" stroke-width="4.2" stroke-linecap="round" fill="none"/><path d="M255.7 648.3h0M261.5 655.8h0M248.8 663.0h0M249.8 668.6h0M249.3 666.7h0M260.2 671.2h0M256.7 675.0h0" stroke="#33b47a" stroke-width="4.2" stroke-linecap="round" fill="none"/><path d="M250.8 653.2h0M249.1 661.3h0M255.5 649.1h0M254.6 649.3h0M254.6 649.4h0M258.2 673.4h0M261.7 664.0h0" stroke="#3cb975" stroke-width="4.2" stroke-linecap="round" fill="none"/><path d="M249.7 666.4h0M250.9 653.9h0M249.8 666.1h0M253.8 650.3h0M256.1 649.9h0M254.0 650.4h0" stroke="#44bf70" stroke-width="4.2" stroke-linecap="round" fill="none"/><path d="M258.5 672.2h0M250.8 655.4h0M255.5 673.6h0M256.9 650.8h0M251.3 669.5h0M255.3 673.5h0M249.8 661.0h0M255.1 673.4h0M253.0 672.0h0" stroke="#52c468" stroke-width="4.2" stroke-linecap="round" fill="none"/><path d="M253.0 671.7h0M260.8 664.5h0M255.4 672.9h0M260.8 660.2h0" stroke="#5fc860" stroke-width="4.2" stroke-linecap="round" fill="none"/><path d="M260.8 662.2h0M255.7 672.5h0M256.7 651.9h0M256.6 651.8h0M259.4 668.8h0M251.4 667.9h0M255.2 651.7h0M250.5 661.7h0" stroke="#6ccc59" stroke-width="4.2" stroke-linecap="round" fill="none"/><path d="M260.4 660.8h0M252.8 653.9h0M253.5 653.2h0M260.2 663.6h0M255.2 652.6h0" stroke="#7ad151" stroke-width="4.2" stroke-linecap="round" fill="none"/><path d="M254.5 670.9h0M259.9 659.5h0M255.3 671.0h0M251.7 657.8h0M255.1 670.7h0M255.4 670.7h0" stroke="#8bd446" stroke-width="4.2" stroke-linecap="round" fill="none"/><path d="M254.4 653.8h0M257.6 654.7h0M253.1 655.4h0M259.5 660.4h0M252.4 656.9h0M259.0 658.1h0" stroke="#9bd83c" stroke-width="4.2" stroke-linecap="round" fill="none"/><path d="M259.4 661.7h0M256.9 669.2h0M256.0 654.3h0M252.7 657.1h0M255.5 669.6h0M255.2 654.5h0M259.3 662.0h0M255.9 669.5h0M259.2 663.4h0M252.2 664.5h0M258.2 666.6h0" stroke="#acdc31" stroke-width="4.2" stroke-linecap="round" fill="none"/><path d="M252.3 659.4h0M256.6 668.4h0M258.5 664.8h0M252.3 660.5h0M258.8 662.7h0M256.6 656.0h0M252.5 660.1h0M252.4 662.1h0M253.1 658.1h0M253.4 657.6h0" stroke="#bddf26" stroke-width="4.2" stroke-linecap="round" fill="none"/><path d="M253.7 657.2h0M258.3 660.3h0M257.5 666.4h0M255.4 656.2h0M253.4 658.1h0M258.3 662.9h0M258.2 662.4h0M256.5 667.1h0M255.2 667.3h0M253.0 660.7h0M253.3 659.0h0" stroke="#cde126" stroke-width="4.2" stroke-linecap="round" fill="none"/><path d="M253.8 658.2h0M256.7 665.9h0M257.4 660.4h0M257.1 659.3h0" stroke="#dde326" stroke-width="4.2" stroke-linecap="round" fill="none"/><path d="M256.7 658.7h0M254.1 659.4h0M255.5 665.9h0M257.3 663.4h0M254.0 659.7h0M255.1 658.4h0M253.9 661.5h0M254.5 659.3h0M257.1 661.6h0M256.4 659.6h0M256.9 662.6h0M254.3 663.4h0M256.9 661.2h0M254.1 662.5h0M256.6 660.9h0" stroke="#ede525" stroke-width="4.2" stroke-linecap="round" fill="none"/><path d="M254.4 662.7h0M254.7 662.3h0M254.8 661.2h0M255.2 663.5h0M256.1 662.8h0M255.0 663.1h0M255.4 662.9h0M255.8 661.3h0" stroke="#fde725" stroke-width="4.2" stroke-linecap="round" fill="none"/></g><rect x="227.5" y="586.2" width="69.2" height="128" fill="none" stroke="#7b2483" stroke-width="3.2"/><rect x="413.8" y="586.2" width="118.2" height="85" fill="none" stroke="#d8443c" stroke-width="3.2"/><rect x="531.2" y="443.8" width="79.5" height="72" fill="none" stroke="#5bbfaa" stroke-width="3.2"/><rect x="335" y="344.2" width="138.2" height="70.8" fill="none" stroke="#f5b946" stroke-width="3.2"/><rect x="493" y="304" width="149" height="114" fill="#fff"/><path d="M512 324.1H538" stroke="#7b2483" stroke-width="5.6" stroke-linecap="round"/><text x="550.8" y="331.4" font-size="25" text-anchor="start" fill="#1e1e1e">size 1</text><path d="M512 349H538" stroke="#f5b946" stroke-width="5.6" stroke-linecap="round"/><text x="550.8" y="356.3" font-size="25" text-anchor="start" fill="#1e1e1e">size 2</text><path d="M512 374H538" stroke="#d8443c" stroke-width="5.6" stroke-linecap="round"/><text x="550.8" y="381.3" font-size="25" text-anchor="start" fill="#1e1e1e">size 3</text><path d="M512 399H538" stroke="#5bbfaa" stroke-width="5.6" stroke-linecap="round"/><text x="550.8" y="406.3" font-size="25" text-anchor="start" fill="#1e1e1e">size 4</text><path d="M276.8 756.8v-5.5M276.8 286.8v5.5M374.8 756.8v-5.5M374.8 286.8v5.5M472.8 756.8v-5.5M472.8 286.8v5.5M570.8 756.8v-5.5M570.8 286.8v5.5M178.8 685.5h5.5M650 685.5h-5.5M178.8 614.3h5.5M650 614.3h-5.5M178.8 543.1h5.5M650 543.1h-5.5M178.8 471.9h5.5M650 471.9h-5.5M178.8 400.7h5.5M650 400.7h-5.5M178.8 329.5h5.5M650 329.5h-5.5" stroke="#1c1c1c" stroke-width="1.8" fill="none"/><rect x="178.8" y="286.8" width="471.2" height="470" fill="none" stroke="#1c1c1c" stroke-width="2"/><text x="163.8" y="765" font-size="25" text-anchor="end" fill="#1e1e1e">15</text><text x="163.8" y="693.8" font-size="25" text-anchor="end" fill="#1e1e1e">20</text><text x="163.8" y="622.6" font-size="25" text-anchor="end" fill="#1e1e1e">25</text><text x="163.8" y="551.4" font-size="25" text-anchor="end" fill="#1e1e1e">30</text><text x="163.8" y="480.2" font-size="25" text-anchor="end" fill="#1e1e1e">35</text><text x="163.8" y="409" font-size="25" text-anchor="end" fill="#1e1e1e">40</text><text x="163.8" y="337.8" font-size="25" text-anchor="end" fill="#1e1e1e">45</text><text x="176.8" y="796.3" font-size="25" text-anchor="middle" fill="#1e1e1e">50</text><text x="274.8" y="796.3" font-size="25" text-anchor="middle" fill="#1e1e1e">100</text><text x="372.8" y="796.3" font-size="25" text-anchor="middle" fill="#1e1e1e">150</text><text x="470.8" y="796.3" font-size="25" text-anchor="middle" fill="#1e1e1e">200</text><text x="568.8" y="796.3" font-size="25" text-anchor="middle" fill="#1e1e1e">250</text><text x="0" y="0" font-size="38" text-anchor="middle" fill="#1e1e1e" transform="translate(109.8 523) rotate(-90)">brightness (a.u.)</text><text x="423.8" y="846.5" font-size="38" text-anchor="middle" fill="#1e1e1e">size (µm²)</text><path d="M762 286.8V756.8M668 685.5H856M668 614.3H856M668 543.1H856M668 471.9H856M668 400.7H856M668 329.5H856" stroke="#d2d2d2" stroke-width="1.0" fill="none"/><path d="M668 351.1H680V357.3H668M668 357.3H706.8V363.6H668M668 363.6H717.6V369.8H668M668 369.8H729V376.1H668M668 376.1H716.3V382.3H668M668 382.3H697.3V388.5H668M668 388.5H687.8V394.8H668M668 394.8H677V401H668M668 401H671.5V407.3H668" fill="#e6e6e6" stroke="#707070" stroke-width="1"/><path d="M668 450.1H671V456.3H668M668 456.3H708.2V462.6H668M668 462.6H754.3V468.8H668M668 468.8H774.6V475.1H668M668 475.1H784.1V481.3H668M668 481.3H790.9V487.5H668M668 487.5H746.9V493.8H668M668 493.8H685.1V500H668M668 500H671.5V506.3H668" fill="#e6e6e6" stroke="#707070" stroke-width="1"/><path d="M668 604.2H700.8V610.4H668M668 610.4H738V616.7H668M668 616.7H777.3V622.9H668M668 622.9H820.7V629.2H668M668 629.2H793.6V635.4H668M668 635.4H765.1V641.6H668M668 641.6H723V647.9H668M668 647.9H739.4V654.1H668M668 654.1H754.3V660.4H668M668 660.4H771.9V666.6H668M668 666.6H752.9V672.8H668M668 672.8H716.3V679.1H668M668 679.1H681V685.3H668M668 685.3H674.2V691.6H668M668 691.6H670.2V697.8H668" fill="#e6e6e6" stroke="#707070" stroke-width="1"/><path d="M668.9 335 669 335.7 669.2 336.3 669.4 337 669.6 337.7 669.8 338.3 670 339 670.3 339.6 670.6 340.3 671 341 671.4 341.6 671.8 342.3 672.3 343 672.8 343.6 673.3 344.3 674 345 674.6 345.6 675.4 346.3 676.1 346.9 677 347.6 677.9 348.3 678.9 348.9 679.9 349.6 681 350.3 682.2 350.9 683.5 351.6 684.8 352.3 686.2 352.9 687.7 353.6 689.2 354.3 690.7 354.9 692.4 355.6 694.1 356.2 695.8 356.9 697.6 357.6 699.4 358.2 701.2 358.9 703.1 359.6 705 360.2 706.9 360.9 708.7 361.6 710.6 362.2 712.4 362.9 714.2 363.5 715.9 364.2 717.6 364.9 719.2 365.5 720.8 366.2 722.2 366.9 723.6 367.5 724.8 368.2 725.9 368.9 726.9 369.5 727.8 370.2 728.5 370.8 729.1 371.5 729.6 372.2 729.9 372.8 730 373.5 730 374.2 729.8 374.8 729.5 375.5 729 376.2 728.4 376.8 727.6 377.5 726.7 378.2 725.7 378.8 724.5 379.5 723.2 380.1 721.9 380.8 720.4 381.5 718.8 382.1 717.2 382.8 715.5 383.5 713.7 384.1 711.9 384.8 710.1 385.5 708.2 386.1 706.4 386.8 704.5 387.4 702.6 388.1 700.8 388.8 698.9 389.4 697.1 390.1 695.4 390.8 693.6 391.4 692 392.1 690.3 392.8 688.8 393.4 687.3 394.1 685.8 394.7 684.5 395.4 683.2 396.1 681.9 396.7 680.8 397.4 679.7 398.1 678.6 398.7 677.7 399.4 676.8 400.1 675.9 400.7 675.2 401.4 674.4 402.1 673.8 402.7 673.2 403.4 672.6 404 672.1 404.7 671.7 405.4 671.3 406 670.9 406.7 670.5 407.4 670.2 408 670 408.7 669.7 409.4 669.5 410 669.3 410.7 669.1 411.3 669 412 668.9 412.7 668.7 413.3 668.6 414" stroke="#f5b946" stroke-width="4.2" fill="none" stroke-linejoin="round" stroke-linecap="round" clip-path="url(#ca3)"/><path d="M668.5 441 668.6 441.6 668.7 442.3 668.9 442.9 669 443.6 669.3 444.2 669.5 444.8 669.8 445.5 670.2 446.1 670.6 446.7 671.1 447.4 671.6 448 672.2 448.7 673 449.3 673.8 449.9 674.8 450.6 675.8 451.2 677.1 451.9 678.4 452.5 680 453.1 681.7 453.8 683.5 454.4 685.6 455.1 687.9 455.7 690.4 456.3 693.2 457 696.2 457.6 699.4 458.2 702.8 458.9 706.5 459.5 710.4 460.2 714.6 460.8 718.9 461.4 723.5 462.1 728.3 462.7 733.2 463.4 738.3 464 743.5 464.6 748.8 465.3 754.2 465.9 759.6 466.5 765 467.2 770.3 467.8 775.5 468.5 780.6 469.1 785.5 469.7 790.1 470.4 794.5 471 798.6 471.7 802.3 472.3 805.6 472.9 808.5 473.6 810.9 474.2 812.9 474.8 814.3 475.5 815.2 476.1 815.6 476.8 815.4 477.4 814.7 478 813.5 478.7 811.8 479.3 809.6 480 806.9 480.6 803.8 481.2 800.2 481.9 796.3 482.5 792 483.2 787.5 483.8 782.7 484.4 777.7 485.1 772.5 485.7 767.2 486.3 761.9 487 756.5 487.6 751.1 488.3 745.8 488.9 740.5 489.5 735.4 490.2 730.4 490.8 725.5 491.5 720.8 492.1 716.4 492.7 712.1 493.4 708.1 494 704.3 494.6 700.8 495.3 697.5 495.9 694.4 496.6 691.6 497.2 689 497.8 686.6 498.5 684.4 499.1 682.4 499.8 680.7 500.4 679.1 501 677.6 501.7 676.3 502.3 675.2 502.9 674.2 503.6 673.3 504.2 672.5 504.9 671.9 505.5 671.3 506.1 670.8 506.8 670.3 507.4 670 508.1 669.6 508.7 669.4 509.3 669.1 510 668.9 510.6 668.8 511.3 668.6 511.9 668.5 512.5 668.4 513.2 668.3 513.8 668.3 514.4 668.2 515.1 668.2 515.7 668.1 516.4 668.1 517" stroke="#5bbfaa" stroke-width="4.2" fill="none" stroke-linejoin="round" stroke-linecap="round" clip-path="url(#ca3)"/><path d="M668.3 617 668.4 617.8 668.4 618.5 668.5 619.3 668.6 620 668.8 620.8 668.9 621.5 669.1 622.3 669.3 623.1 669.5 623.8 669.8 624.6 670.1 625.3 670.4 626.1 670.8 626.8 671.3 627.6 671.8 628.3 672.4 629.1 673.1 629.9 673.8 630.6 674.6 631.4 675.5 632.1 676.5 632.9 677.6 633.6 678.8 634.4 680.2 635.2 681.6 635.9 683.2 636.7 684.9 637.4 686.7 638.2 688.7 638.9 690.8 639.7 693 640.4 695.4 641.2 697.9 642 700.5 642.7 703.2 643.5 706.1 644.2 709 645 712 645.7 715 646.5 718.2 647.3 721.3 648 724.5 648.8 727.7 649.5 730.8 650.3 733.9 651 736.9 651.8 739.8 652.5 742.7 653.3 745.3 654.1 747.8 654.8 750.2 655.6 752.3 656.3 754.2 657.1 755.8 657.8 757.2 658.6 758.3 659.4 759.2 660.1 759.7 660.9 760 661.6 759.9 662.4 759.6 663.1 759 663.9 758.1 664.6 756.9 665.4 755.4 666.2 753.7 666.9 751.7 667.7 749.6 668.4 747.2 669.2 744.6 669.9 741.9 670.7 739.1 671.5 736.1 672.2 733.1 673 730 673.7 726.8 674.5 723.7 675.2 720.5 676 717.3 676.7 714.2 677.5 711.2 678.3 708.2 679 705.3 679.8 702.5 680.5 699.8 681.3 697.2 682 694.8 682.8 692.4 683.6 690.2 684.3 688.2 685.1 686.2 685.8 684.4 686.6 682.8 687.3 681.2 688.1 679.8 688.8 678.5 689.6 677.3 690.4 676.2 691.1 675.3 691.9 674.4 692.6 673.6 693.4 672.9 694.1 672.2 694.9 671.7 695.7 671.2 696.4 670.7 697.2 670.3 697.9 670 698.7 669.7 699.4 669.5 700.2 669.2 700.9 669 701.7 668.9 702.5 668.7 703.2 668.6 704 668.5 704.7 668.4 705.5 668.4 706.2 668.3 707" stroke="#7b2483" stroke-width="4.2" fill="none" stroke-linejoin="round" stroke-linecap="round" clip-path="url(#ca3)"/><path d="M669.1 592 669.3 592.6 669.6 593.1 669.8 593.7 670.1 594.3 670.5 594.8 670.9 595.4 671.4 595.9 671.9 596.5 672.5 597.1 673.2 597.6 674 598.2 674.9 598.8 675.9 599.3 677 599.9 678.2 600.4 679.5 601 681 601.6 682.7 602.1 684.5 602.7 686.4 603.3 688.6 603.8 690.9 604.4 693.5 604.9 696.2 605.5 699.2 606.1 702.3 606.6 705.7 607.2 709.3 607.8 713.1 608.3 717.1 608.9 721.3 609.5 725.7 610 730.3 610.6 735.1 611.1 740 611.7 745.1 612.3 750.3 612.8 755.6 613.4 761 614 766.5 614.5 771.9 615.1 777.4 615.6 782.8 616.2 788.2 616.8 793.4 617.3 798.6 617.9 803.5 618.5 808.3 619 812.7 619.6 817 620.2 820.9 620.7 824.4 621.3 827.6 621.8 830.4 622.4 832.8 623 834.8 623.5 836.3 624.1 837.3 624.7 837.9 625.2 838 625.8 837.6 626.3 836.7 626.9 835.4 627.5 833.6 628 831.3 628.6 828.7 629.2 825.6 629.7 822.2 630.3 818.4 630.8 814.3 631.4 809.9 632 805.2 632.5 800.3 633.1 795.3 633.7 790.1 634.2 784.7 634.8 779.3 635.4 773.9 635.9 768.4 636.5 762.9 637 757.5 637.6 752.2 638.2 746.9 638.7 741.8 639.3 736.8 639.9 732 640.4 727.3 641 722.8 641.5 718.5 642.1 714.5 642.7 710.6 643.2 706.9 643.8 703.5 644.4 700.3 644.9 697.2 645.5 694.4 646.1 691.8 646.6 689.4 647.2 687.2 647.7 685.2 648.3 683.3 648.9 681.6 649.4 680 650 678.6 650.6 677.4 651.1 676.2 651.7 675.2 652.2 674.3 652.8 673.5 653.4 672.8 653.9 672.1 654.5 671.6 655.1 671.1 655.6 670.6 656.2 670.3 656.7 669.9 657.3 669.6 657.9 669.4 658.4 669.2 659" stroke="#d8443c" stroke-width="4.2" fill="none" stroke-linejoin="round" stroke-linecap="round" clip-path="url(#ca3)"/><path d="M762 756.8v-5.5M762 286.8v5.5M668 685.5h5.5M856 685.5h-5.5M668 614.3h5.5M856 614.3h-5.5M668 543.1h5.5M856 543.1h-5.5M668 471.9h5.5M856 471.9h-5.5M668 400.7h5.5M856 400.7h-5.5M668 329.5h5.5M856 329.5h-5.5" stroke="#1c1c1c" stroke-width="1.8" fill="none"/><rect x="668" y="286.8" width="188" height="470" fill="none" stroke="#1c1c1c" stroke-width="2"/><text x="667" y="796.3" font-size="25" text-anchor="middle" fill="#1e1e1e">0</text><text x="761.5" y="796.3" font-size="25" text-anchor="middle" fill="#1e1e1e">0.05</text><text x="854" y="796.3" font-size="25" text-anchor="middle" fill="#1e1e1e">0.1</text><text x="766.5" y="846.5" font-size="38" text-anchor="middle" fill="#1e1e1e">counts</text><text x="0" y="0" font-size="88" font-weight="bold" fill="#1a1a1a" transform="translate(934.4 64) scale(1 1)">b</text><text x="1353.6" y="47.3" font-size="52" text-anchor="middle" fill="#1e1e1e" letter-spacing="0.5">soRT-FDC</text><path d="M1215.8 80.8V268M1313.9 80.8V268M1411.9 80.8V268M1510 80.8V268M1117.8 164.2H1589.5" stroke="#d2d2d2" stroke-width="1.0" fill="none"/><path d="M1172.4 268V253.1H1178V268M1178 268V195.4H1183.6V268M1183.6 268V99H1189.2V268M1189.2 268V171.3H1194.8V268M1194.8 268V212.4H1200.4V268M1200.4 268V225.1H1205.9V268M1205.9 268V228.2H1211.5V268M1211.5 268V256.1H1217.1V268M1261.8 268V266.3H1267.4V268M1267.4 268V266.5H1273V268M1278.6 268V262.7H1284.2V268M1284.2 268V266.3H1289.8V268M1289.8 268V260.2H1295.4V268M1295.4 268V264.5H1301V268M1301 268V252.6H1306.6V268M1306.6 268V256.1H1312.2V268M1312.2 268V242.4H1317.7V268M1317.7 268V244.2H1323.3V268M1323.3 268V232.8H1328.9V268M1328.9 268V232.3H1334.5V268M1334.5 268V222.1H1340.1V268M1340.1 268V230.7H1345.7V268M1345.7 268V233.5H1351.3V268M1351.3 268V222.6H1356.9V268M1356.9 268V214H1362.5V268M1362.5 268V218H1368.1V268M1368.1 268V214H1373.6V268M1373.6 268V229H1379.2V268M1379.2 268V221.6H1384.8V268M1384.8 268V197.2H1390.4V268M1390.4 268V205.3H1396V268M1396 268V191.6H1401.6V268M1401.6 268V190H1407.2V268M1407.2 268V198.5H1412.8V268M1412.8 268V227.7H1418.4V268M1418.4 268V243.4H1424V268M1424 268V257.7H1429.5V268M1429.5 268V263.3H1435.1V268M1435.1 268V267H1440.7V268M1468.7 268V260.7H1474.3V268M1474.3 268V247.5H1479.9V268M1479.9 268V222.6H1485.4V268M1485.4 268V206.1H1491V268M1491 268V203.5H1496.6V268M1496.6 268V182.5H1502.2V268M1502.2 268V192.1H1507.8V268M1507.8 268V213H1513.4V268M1513.4 268V225.1H1519V268M1519 268V249.3H1524.6V268M1524.6 268V262H1530.2V268M1530.2 268V266H1535.8V268" fill="#e6e6e6" stroke="#707070" stroke-width="1"/><path d="M1158 267.4 1158.6 267.3 1159.2 267.2 1159.7 267.1 1160.3 266.9 1160.9 266.7 1161.5 266.5 1162.1 266.2 1162.6 265.9 1163.2 265.5 1163.8 265.1 1164.4 264.7 1165 264.2 1165.5 263.6 1166.1 262.9 1166.7 262.2 1167.3 261.4 1167.9 260.5 1168.4 259.5 1169 258.4 1169.6 257.1 1170.2 255.8 1170.8 254.3 1171.3 252.7 1171.9 251 1172.5 249.1 1173.1 247.1 1173.7 244.9 1174.2 242.6 1174.8 240.2 1175.4 237.5 1176 234.8 1176.6 231.9 1177.1 228.8 1177.7 225.7 1178.3 222.4 1178.9 219 1179.5 215.5 1180 211.9 1180.6 208.3 1181.2 204.6 1181.8 200.9 1182.4 197.2 1182.9 193.5 1183.5 189.8 1184.1 186.2 1184.7 182.7 1185.3 179.3 1185.8 176.1 1186.4 173 1187 170.1 1187.6 167.5 1188.2 165 1188.7 162.9 1189.3 161 1189.9 159.3 1190.5 158 1191.1 157 1191.6 156.4 1192.2 156 1192.8 156 1193.4 156.4 1193.9 157 1194.5 158 1195.1 159.3 1195.7 161 1196.3 162.9 1196.8 165 1197.4 167.5 1198 170.1 1198.6 173 1199.2 176.1 1199.7 179.3 1200.3 182.7 1200.9 186.2 1201.5 189.8 1202.1 193.5 1202.6 197.2 1203.2 200.9 1203.8 204.6 1204.4 208.3 1205 211.9 1205.5 215.5 1206.1 219 1206.7 222.4 1207.3 225.7 1207.9 228.8 1208.4 231.9 1209 234.8 1209.6 237.5 1210.2 240.2 1210.8 242.6 1211.3 244.9 1211.9 247.1 1212.5 249.1 1213.1 251 1213.7 252.7 1214.2 254.3 1214.8 255.8 1215.4 257.1 1216 258.4 1216.6 259.5 1217.1 260.5 1217.7 261.4 1218.3 262.2 1218.9 262.9 1219.5 263.6 1220 264.2 1220.6 264.7 1221.2 265.1 1221.8 265.5 1222.4 265.9 1222.9 266.2 1223.5 266.5 1224.1 266.7 1224.7 266.9 1225.3 267.1 1225.8 267.2 1226.4 267.3 1227 267.4" stroke="#7b2483" stroke-width="4.2" fill="none" stroke-linejoin="round" stroke-linecap="round" clip-path="url(#cb1)"/><path d="M1265 267.6 1266.4 267.5 1267.7 267.4 1269.1 267.3 1270.5 267.2 1271.8 267 1273.2 266.9 1274.6 266.7 1276 266.5 1277.3 266.3 1278.7 266 1280.1 265.7 1281.4 265.4 1282.8 265.1 1284.2 264.7 1285.5 264.3 1286.9 263.8 1288.3 263.3 1289.7 262.7 1291 262.1 1292.4 261.4 1293.8 260.7 1295.1 259.9 1296.5 259 1297.9 258.1 1299.2 257.2 1300.6 256.1 1302 255 1303.4 253.9 1304.7 252.6 1306.1 251.4 1307.5 250 1308.8 248.6 1310.2 247.2 1311.6 245.7 1312.9 244.2 1314.3 242.6 1315.7 241 1317.1 239.4 1318.4 237.8 1319.8 236.1 1321.2 234.5 1322.5 232.9 1323.9 231.3 1325.3 229.8 1326.6 228.3 1328 226.8 1329.4 225.4 1330.7 224.1 1332.1 222.9 1333.5 221.8 1334.9 220.7 1336.2 219.8 1337.6 219 1339 218.4 1340.3 217.8 1341.7 217.4 1343.1 217.1 1344.4 217 1345.8 217 1347.2 217.2 1348.6 217.5 1349.9 217.9 1351.3 218.5 1352.7 219.2 1354 220 1355.4 220.9 1356.8 222 1358.1 223.1 1359.5 224.4 1360.9 225.7 1362.3 227.1 1363.6 228.5 1365 230.1 1366.4 231.6 1367.7 233.2 1369.1 234.8 1370.5 236.4 1371.8 238.1 1373.2 239.7 1374.6 241.3 1375.9 242.9 1377.3 244.4 1378.7 246 1380.1 247.5 1381.4 248.9 1382.8 250.3 1384.2 251.6 1385.5 252.9 1386.9 254.1 1388.3 255.2 1389.6 256.3 1391 257.3 1392.4 258.3 1393.8 259.2 1395.1 260 1396.5 260.8 1397.9 261.5 1399.2 262.2 1400.6 262.8 1402 263.4 1403.3 263.9 1404.7 264.4 1406.1 264.8 1407.5 265.2 1408.8 265.5 1410.2 265.8 1411.6 266.1 1412.9 266.3 1414.3 266.5 1415.7 266.7 1417 266.9 1418.4 267.1 1419.8 267.2 1421.2 267.3 1422.5 267.4 1423.9 267.5 1425.3 267.6 1426.6 267.6 1428 267.7" stroke="#f5b946" stroke-width="4.2" fill="none" stroke-linejoin="round" stroke-linecap="round" clip-path="url(#cb1)"/><path d="M1346 268 1346.9 268 1347.8 268 1348.6 268 1349.5 267.9 1350.4 267.9 1351.3 267.9 1352.2 267.9 1353.1 267.9 1353.9 267.8 1354.8 267.8 1355.7 267.7 1356.6 267.6 1357.5 267.6 1358.4 267.4 1359.2 267.3 1360.1 267.2 1361 267 1361.9 266.8 1362.8 266.5 1363.6 266.2 1364.5 265.8 1365.4 265.4 1366.3 264.9 1367.2 264.3 1368.1 263.7 1368.9 262.9 1369.8 262.1 1370.7 261.1 1371.6 260.1 1372.5 258.9 1373.4 257.5 1374.2 256 1375.1 254.4 1376 252.6 1376.9 250.6 1377.8 248.5 1378.6 246.2 1379.5 243.8 1380.4 241.2 1381.3 238.5 1382.2 235.6 1383.1 232.7 1383.9 229.6 1384.8 226.4 1385.7 223.2 1386.6 220 1387.5 216.7 1388.4 213.5 1389.2 210.3 1390.1 207.2 1391 204.2 1391.9 201.4 1392.8 198.7 1393.6 196.3 1394.5 194.1 1395.4 192.2 1396.3 190.6 1397.2 189.3 1398.1 188.4 1398.9 187.8 1399.8 187.5 1400.7 187.6 1401.6 188.1 1402.5 188.9 1403.4 190.1 1404.2 191.5 1405.1 193.3 1406 195.4 1406.9 197.7 1407.8 200.3 1408.6 203 1409.5 206 1410.4 209 1411.3 212.2 1412.2 215.4 1413.1 218.7 1413.9 221.9 1414.8 225.2 1415.7 228.3 1416.6 231.5 1417.5 234.5 1418.4 237.4 1419.2 240.2 1420.1 242.8 1421 245.3 1421.9 247.6 1422.8 249.8 1423.6 251.8 1424.5 253.7 1425.4 255.4 1426.3 256.9 1427.2 258.3 1428.1 259.6 1428.9 260.7 1429.8 261.7 1430.7 262.6 1431.6 263.4 1432.5 264.1 1433.4 264.7 1434.2 265.2 1435.1 265.7 1436 266 1436.9 266.4 1437.8 266.7 1438.6 266.9 1439.5 267.1 1440.4 267.3 1441.3 267.4 1442.2 267.5 1443.1 267.6 1443.9 267.7 1444.8 267.7 1445.7 267.8 1446.6 267.8 1447.5 267.9 1448.4 267.9 1449.2 267.9 1450.1 267.9 1451 268" stroke="#d8443c" stroke-width="4.2" fill="none" stroke-linejoin="round" stroke-linecap="round" clip-path="url(#cb1)"/><path d="M1451 267.2 1451.8 267.1 1452.6 266.9 1453.4 266.8 1454.3 266.6 1455.1 266.3 1455.9 266.1 1456.7 265.8 1457.5 265.4 1458.3 265 1459.2 264.6 1460 264.1 1460.8 263.6 1461.6 263 1462.4 262.4 1463.2 261.6 1464 260.8 1464.9 260 1465.7 259 1466.5 257.9 1467.3 256.8 1468.1 255.6 1468.9 254.2 1469.7 252.8 1470.6 251.2 1471.4 249.6 1472.2 247.8 1473 245.9 1473.8 243.9 1474.6 241.8 1475.5 239.6 1476.3 237.3 1477.1 234.9 1477.9 232.4 1478.7 229.8 1479.5 227.1 1480.3 224.4 1481.2 221.6 1482 218.8 1482.8 215.9 1483.6 213 1484.4 210.2 1485.2 207.3 1486.1 204.4 1486.9 201.6 1487.7 198.9 1488.5 196.2 1489.3 193.7 1490.1 191.2 1490.9 188.9 1491.8 186.8 1492.6 184.8 1493.4 182.9 1494.2 181.3 1495 179.9 1495.8 178.7 1496.6 177.8 1497.5 177 1498.3 176.5 1499.1 176.3 1499.9 176.3 1500.7 176.5 1501.5 177 1502.4 177.8 1503.2 178.7 1504 179.9 1504.8 181.3 1505.6 182.9 1506.4 184.8 1507.2 186.8 1508.1 188.9 1508.9 191.2 1509.7 193.7 1510.5 196.2 1511.3 198.9 1512.1 201.6 1512.9 204.4 1513.8 207.3 1514.6 210.2 1515.4 213 1516.2 215.9 1517 218.8 1517.8 221.6 1518.7 224.4 1519.5 227.1 1520.3 229.8 1521.1 232.4 1521.9 234.9 1522.7 237.3 1523.5 239.6 1524.4 241.8 1525.2 243.9 1526 245.9 1526.8 247.8 1527.6 249.6 1528.4 251.2 1529.3 252.8 1530.1 254.2 1530.9 255.6 1531.7 256.8 1532.5 257.9 1533.3 259 1534.1 260 1535 260.8 1535.8 261.6 1536.6 262.4 1537.4 263 1538.2 263.6 1539 264.1 1539.8 264.6 1540.7 265 1541.5 265.4 1542.3 265.8 1543.1 266.1 1543.9 266.3 1544.7 266.6 1545.6 266.8 1546.4 266.9 1547.2 267.1 1548 267.2" stroke="#5bbfaa" stroke-width="4.2" fill="none" stroke-linejoin="round" stroke-linecap="round" clip-path="url(#cb1)"/><path d="M1215.8 268v-5.5M1215.8 80.8v5.5M1313.9 268v-5.5M1313.9 80.8v5.5M1411.9 268v-5.5M1411.9 80.8v5.5M1510 268v-5.5M1510 80.8v5.5M1117.8 164.2h5.5M1589.5 164.2h-5.5" stroke="#1c1c1c" stroke-width="1.8" fill="none"/><rect x="1117.8" y="80.8" width="471.8" height="187.2" fill="none" stroke="#1c1c1c" stroke-width="2"/><text x="1101.5" y="173.3" font-size="25" text-anchor="end" fill="#1e1e1e">0.05</text><text x="1101" y="277" font-size="25" text-anchor="end" fill="#1e1e1e">0</text><text x="0" y="0" font-size="38" text-anchor="middle" fill="#1e1e1e" transform="translate(1035.3 180) rotate(-90)">counts</text><path d="M1215.8 286.8V757.5M1313.9 286.8V757.5M1411.9 286.8V757.5M1510 286.8V757.5M1117.8 710.5H1589.5M1117.8 616.3H1589.5M1117.8 522.1H1589.5M1117.8 427.9H1589.5M1117.8 333.8H1589.5" stroke="#d2d2d2" stroke-width="1.0" fill="none"/><g clip-path="url(#cb2)"><path d="M1281.3 430.1h0M1227.9 395.9h0M1227.2 390.3h0M1237.6 364.4h0M1306.9 422.8h0M1415.7 389.7h0M1308.8 592.4h0M1412.0 391.1h0M1219.3 664.8h0M1247.8 369.8h0M1315.2 592.0h0M1242.6 384.3h0M1267.2 413.9h0M1272.0 358.0h0M1396.1 341.1h0M1393.8 341.1h0M1216.1 702.8h0M1218.5 661.0h0M1245.4 385.9h0M1247.1 393.5h0M1276.5 413.4h0M1198.9 705.2h0M1316.0 343.5h0M1195.9 685.7h0M1265.4 365.3h0M1278.6 411.3h0M1337.9 341.3h0M1272.5 409.2h0M1172.6 589.7h0M1164.0 627.4h0M1322.8 405.7h0M1405.0 349.9h0M1215.2 699.7h0M1253.2 389.6h0M1450.2 599.9h0M1217.4 680.4h0M1374.6 345.8h0M1281.7 409.0h0M1275.9 364.0h0M1449.0 585.9h0M1518.7 501.9h0M1254.2 384.3h0M1217.0 668.6h0M1255.1 381.5h0M1257.1 395.6h0M1165.0 615.0h0M1322.7 594.0h0M1296.6 406.9h0M1430.6 578.6h0M1332.3 405.0h0M1391.6 396.9h0M1534.3 448.7h0M1258.9 396.1h0M1409.8 382.0h0M1291.3 357.7h0M1256.7 385.7h0M1396.8 395.1h0M1324.9 594.1h0M1400.3 349.1h0M1259.0 381.7h0M1441.2 582.4h0M1318.3 346.6h0M1325.5 613.2h0M1276.5 367.3h0M1363.9 402.9h0M1393.7 347.6h0M1199.4 697.5h0M1198.7 693.5h0M1200.3 700.7h0M1260.4 381.4h0M1188.5 666.2h0M1401.9 350.9h0M1402.1 391.0h0M1541.3 491.7h0M1311.9 608.7h0M1382.8 349.2h0M1261.1 381.2h0M1397.8 393.4h0M1336.9 614.1h0M1546.1 474.4h0M1262.3 379.8h0M1216.2 656.6h0M1473.2 435.8h0M1323.9 612.3h0M1409.0 362.9h0M1261.4 390.6h0M1193.4 668.5h0M1215.2 692.3h0M1287.2 403.8h0M1543.7 487.1h0" stroke="#440154" stroke-width="4.2" stroke-linecap="round" fill="none"/><path d="M1345.9 403.8h0M1460.0 454.5h0M1210.6 705.9h0M1409.1 377.1h0M1216.0 677.7h0M1172.4 595.2h0M1216.1 650.4h0M1426.7 610.9h0M1351.1 344.7h0M1197.3 672.2h0M1303.8 400.2h0M1531.1 497.3h0M1213.2 596.0h0M1375.6 398.4h0M1267.0 393.6h0M1265.1 389.5h0M1472.2 484.2h0M1298.9 400.1h0M1510.0 496.7h0M1390.4 350.2h0M1380.0 581.5h0M1272.3 375.3h0M1198.4 682.4h0M1393.0 350.2h0M1416.5 613.3h0M1267.4 381.8h0M1532.7 496.1h0M1281.0 370.3h0M1214.3 641.9h0M1215.3 684.5h0M1414.2 578.3h0M1395.2 350.8h0M1447.6 591.2h0M1203.8 704.3h0M1404.7 578.3h0M1291.5 362.9h0M1469.6 440.7h0M1215.4 681.3h0M1201.0 697.6h0M1396.6 391.1h0M1199.0 685.8h0M1389.7 393.0h0M1285.8 368.1h0M1380.0 351.7h0M1215.2 655.0h0M1269.3 385.2h0M1314.1 398.8h0M1275.5 394.9h0M1274.8 394.4h0M1212.4 698.2h0M1212.4 619.6h0M1283.3 371.4h0M1286.3 369.0h0M1274.0 430.0h0M1290.0 467.0h0M1280.0 455.0h0M1327.0 427.0h0M1334.0 459.0h0M1345.0 442.0h0M1360.0 451.0h0M1372.0 452.0h0M1383.0 440.0h0M1388.0 457.0h0M1395.0 472.0h0M1400.0 459.0h0M1406.0 459.0h0M1412.0 459.0h0M1420.0 481.0h0M1437.0 454.0h0M1437.0 474.0h0M1418.0 484.0h0M1563.0 562.0h0M1280.0 497.0h0M1296.0 425.0h0M1351.0 420.0h0M1316.0 410.0h0M1265.0 404.0h0M1250.0 395.0h0M1262.0 384.0h0M1420.0 368.0h0M1425.0 372.0h0M1300.0 343.0h0M1318.0 348.0h0M1388.0 340.0h0M1363.0 342.0h0M1412.0 634.0h0M1420.0 628.0h0M1395.0 628.0h0M1392.0 634.0h0M1372.0 627.0h0M1350.0 621.0h0M1460.0 609.0h0M1450.0 596.0h0M1449.0 615.0h0M1455.0 621.0h0M1213.0 681.0h0M1215.0 700.0h0M1170.0 633.0h0M1243.0 607.0h0M1231.0 606.0h0M1239.0 614.0h0M1222.0 636.0h0M1168.2 610.9h0M1339.3 401.8h0M1510.0 495.3h0M1271.6 385.3h0M1445.8 597.3h0M1394.5 390.8h0M1272.3 385.1h0M1169.5 606.4h0M1425.8 610.0h0M1341.0 346.5h0M1199.8 688.8h0M1415.7 579.0h0M1274.9 381.1h0M1298.9 396.1h0M1404.0 359.3h0M1336.9 346.8h0M1203.5 701.5h0M1273.9 388.5h0M1461.8 462.9h0M1320.0 607.0h0M1168.7 610.7h0M1304.6 396.1h0M1291.7 395.1h0M1395.7 353.2h0M1276.3 382.4h0M1214.2 665.4h0M1214.3 659.6h0M1387.9 353.4h0M1306.8 396.1h0M1422.6 580.0h0M1212.9 613.6h0M1277.5 389.0h0M1403.8 381.9h0M1287.1 393.7h0M1277.0 385.5h0M1359.7 613.0h0M1214.2 685.1h0M1301.2 394.8h0M1327.7 597.7h0M1355.3 612.6h0M1479.2 435.8h0M1518.7 496.3h0M1203.9 700.7h0M1211.9 696.6h0M1322.0 350.1h0M1424.4 609.9h0M1322.3 606.9h0M1322.1 600.9h0M1202.7 698.0h0M1334.2 610.5h0M1332.3 610.1h0M1331.7 610.0h0M1296.6 393.2h0M1291.8 392.4h0M1390.1 354.1h0M1293.1 392.6h0M1211.0 698.5h0M1396.6 354.8h0M1168.1 621.2h0M1393.6 354.2h0M1396.2 387.9h0M1474.2 439.4h0M1404.2 363.2h0M1301.9 359.6h0M1517.6 495.5h0M1444.7 594.8h0M1306.3 356.8h0M1493.2 490.0h0M1285.2 378.2h0M1401.7 359.1h0M1400.1 384.9h0M1424.9 580.9h0M1201.0 690.4h0M1402.0 359.9h0M1463.4 457.1h0M1214.1 675.9h0M1174.6 648.9h0M1197.0 584.7h0M1401.8 359.9h0M1348.2 604.2h0M1286.2 606.8h0M1326.5 608.0h0M1326.0 610.4h0M1334.7 608.4h0M1344.2 604.5h0M1264.9 599.8h0M1338.3 600.6h0M1306.0 602.8h0M1241.9 607.7h0M1312.6 609.0h0M1296.5 601.1h0M1265.4 602.1h0M1250.4 594.7h0M1263.0 594.6h0M1243.1 606.7h0M1298.0 617.0h0M1240.0 600.0h0M1307.8 599.8h0M1331.4 598.8h0M1246.5 604.1h0M1297.6 596.2h0M1339.9 615.2h0M1285.1 603.2h0M1306.2 610.0h0M1243.9 599.0h0M1294.1 603.8h0M1315.3 609.4h0M1286.3 386.9h0M1214.0 653.7h0M1540.3 472.4h0M1340.3 348.1h0M1303.1 393.0h0M1328.1 599.0h0M1495.7 490.0h0M1308.8 394.4h0M1286.0 382.3h0M1396.5 614.3h0M1201.4 691.3h0M1213.7 683.4h0M1213.5 658.5h0M1201.2 689.8h0M1529.2 451.7h0M1293.3 369.2h0M1287.6 383.1h0M1403.2 378.8h0M1531.2 492.6h0M1435.1 584.3h0M1290.6 387.0h0M1325.6 601.2h0M1210.2 635.4h0M1292.4 387.7h0M1213.1 662.0h0M1209.4 593.0h0M1404.4 371.7h0M1208.2 699.8h0M1296.9 365.8h0M1314.9 353.9h0M1441.6 599.0h0M1540.1 475.4h0M1328.1 607.1h0M1337.4 348.9h0M1357.9 398.5h0M1212.9 662.6h0M1170.6 608.8h0M1404.1 372.3h0M1403.8 368.2h0M1396.8 385.3h0M1210.4 620.6h0M1295.2 368.5h0M1339.9 609.8h0M1483.0 486.2h0M1401.8 362.5h0M1213.1 685.2h0M1508.1 491.7h0M1527.1 449.3h0M1366.4 612.4h0M1328.7 397.9h0M1344.4 399.1h0M1534.1 462.7h0M1403.0 366.2h0M1308.7 357.4h0M1293.4 385.0h0M1489.2 434.1h0" stroke="#450a5c" stroke-width="4.2" stroke-linecap="round" fill="none"/><path d="M1484.3 435.6h0M1211.6 692.4h0M1206.1 698.8h0M1438.9 601.0h0M1403.1 374.9h0M1400.9 362.1h0M1296.1 386.6h0M1292.1 378.6h0M1329.7 350.5h0M1347.6 398.8h0M1472.6 479.1h0M1312.6 355.8h0M1212.7 686.0h0M1330.6 606.9h0M1327.5 604.5h0M1327.4 603.7h0M1391.6 357.3h0M1213.2 653.7h0M1400.1 381.0h0M1403.2 372.1h0M1211.7 691.1h0M1211.7 691.0h0M1535.2 487.9h0M1377.4 613.3h0M1309.0 357.8h0M1496.1 488.9h0M1170.6 635.6h0M1532.2 490.4h0M1359.5 350.5h0M1169.5 617.9h0M1293.9 374.3h0M1199.0 667.5h0M1212.4 662.7h0M1298.4 366.6h0M1212.7 684.4h0M1204.2 695.7h0M1419.9 609.9h0M1299.7 387.6h0M1303.7 361.7h0M1296.2 384.7h0M1315.0 355.2h0M1331.0 606.3h0M1354.5 350.1h0M1441.7 596.3h0M1378.5 613.2h0M1389.5 358.1h0M1347.1 398.4h0M1200.4 669.7h0M1513.3 492.0h0M1530.8 490.7h0M1300.9 364.7h0M1329.5 602.7h0M1344.1 398.3h0M1196.9 586.5h0M1400.6 378.7h0M1361.0 396.7h0M1329.6 604.1h0M1474.9 480.3h0M1170.9 635.2h0M1401.6 376.0h0M1176.6 596.9h0M1390.6 385.8h0M1397.3 613.4h0M1203.6 693.3h0M1388.8 386.2h0M1381.3 389.4h0M1398.6 361.6h0M1478.2 482.5h0M1397.0 360.5h0M1531.0 459.7h0M1206.8 696.7h0M1212.6 676.1h0M1336.2 598.9h0M1181.5 654.2h0M1298.9 385.0h0M1480.3 438.4h0M1486.1 436.0h0M1197.0 664.9h0M1199.3 666.9h0M1205.9 696.0h0M1373.1 586.7h0M1440.9 592.1h0M1401.5 372.1h0M1509.9 490.4h0M1521.7 444.7h0M1348.1 595.6h0M1369.8 587.9h0M1212.6 651.0h0M1401.4 372.1h0M1200.9 669.4h0M1300.5 385.5h0M1206.5 695.8h0M1309.4 390.6h0M1350.3 609.4h0M1395.7 360.7h0M1359.3 592.3h0M1400.5 366.6h0M1515.0 439.5h0M1338.2 397.4h0M1297.1 374.1h0M1348.1 397.5h0M1387.2 613.2h0M1431.2 584.5h0M1172.3 638.7h0M1397.2 362.0h0M1382.1 388.0h0M1417.7 609.9h0M1401.0 372.8h0M1212.1 657.6h0M1336.5 606.6h0M1330.2 351.8h0M1402.6 612.6h0M1211.5 665.0h0M1399.4 377.6h0M1207.3 695.3h0M1211.8 670.4h0M1477.0 481.0h0M1311.4 391.0h0M1365.4 590.0h0M1171.7 609.8h0M1468.3 451.3h0M1297.4 378.6h0M1174.1 643.2h0M1207.8 695.0h0M1212.0 681.5h0M1297.8 379.9h0M1387.9 360.3h0M1417.5 581.6h0M1207.2 695.1h0M1201.9 680.6h0M1537.0 474.9h0M1208.2 633.6h0M1212.3 654.0h0M1467.1 454.8h0M1205.9 694.6h0M1206.8 694.9h0M1212.1 678.7h0M1211.7 684.2h0M1211.6 685.2h0M1202.4 685.0h0M1392.9 360.9h0M1209.2 693.0h0M1209.4 692.6h0M1391.5 360.8h0M1399.0 365.7h0M1386.6 385.1h0M1398.8 365.3h0M1309.6 389.6h0M1344.1 351.0h0M1211.7 672.7h0M1211.8 674.2h0M1298.8 373.2h0M1305.7 387.3h0M1399.9 369.4h0M1482.8 438.2h0M1530.5 461.5h0M1536.5 475.2h0M1358.5 395.8h0M1340.4 351.2h0M1212.0 654.0h0M1176.7 598.7h0M1427.6 583.8h0M1171.0 630.7h0M1340.6 396.8h0M1472.8 476.5h0M1425.5 583.3h0M1208.1 693.4h0M1202.2 677.5h0M1307.6 388.1h0M1211.6 674.3h0M1202.7 684.5h0M1207.3 693.6h0M1371.6 392.0h0M1331.8 352.3h0M1341.7 598.9h0M1360.5 609.8h0M1369.5 355.2h0M1187.4 590.1h0M1398.1 366.0h0M1529.6 488.8h0M1208.9 692.1h0M1208.7 620.9h0M1210.9 666.2h0M1345.2 607.5h0M1364.5 610.3h0M1396.8 364.4h0M1362.1 394.8h0M1210.1 689.1h0M1186.2 655.7h0M1211.3 672.7h0M1480.9 482.4h0M1299.7 374.6h0M1207.4 631.2h0M1431.7 585.6h0" stroke="#461264" stroke-width="4.2" stroke-linecap="round" fill="none"/><path d="M1474.3 444.5h0M1357.1 594.2h0M1174.0 641.1h0M1535.6 480.2h0M1318.2 356.5h0M1513.3 489.5h0M1398.6 372.5h0M1482.8 483.2h0M1397.8 375.5h0M1373.4 390.7h0M1384.7 362.0h0M1397.3 376.3h0M1397.0 376.8h0M1469.5 451.4h0M1327.7 394.6h0M1391.6 381.2h0M1211.1 673.1h0M1182.5 652.9h0M1202.0 668.1h0M1185.5 654.9h0M1383.6 361.8h0M1201.3 666.7h0M1389.1 612.6h0M1379.6 360.3h0M1389.7 381.9h0M1300.5 373.6h0M1340.6 396.2h0M1395.4 378.5h0M1531.4 465.2h0M1210.8 670.8h0M1522.6 448.1h0M1392.1 363.3h0M1312.3 389.4h0M1211.2 679.9h0M1171.3 616.7h0M1534.3 482.6h0M1202.8 674.2h0M1202.0 667.7h0M1404.0 581.8h0M1208.6 690.8h0M1210.4 662.8h0M1379.6 387.1h0M1493.9 486.1h0M1521.3 446.7h0M1210.3 666.4h0M1211.6 652.3h0M1480.9 440.1h0M1300.9 374.7h0M1386.0 383.1h0M1510.2 488.3h0M1374.1 389.9h0M1203.0 680.9h0M1210.3 685.9h0M1516.2 442.1h0M1204.8 689.1h0M1342.9 605.6h0M1342.9 600.0h0M1301.1 375.9h0M1304.8 366.5h0M1210.1 610.5h0M1210.7 672.8h0M1516.6 442.6h0M1312.3 388.8h0M1342.6 600.4h0M1203.2 681.0h0M1328.0 394.1h0M1374.8 389.2h0M1375.7 359.1h0M1210.0 664.0h0M1301.7 374.1h0M1381.5 362.1h0M1394.4 377.4h0M1210.1 662.2h0M1203.2 678.9h0M1377.9 387.4h0M1396.4 373.9h0M1325.7 393.4h0M1472.8 474.7h0M1309.1 386.7h0M1533.7 471.7h0M1391.4 364.8h0M1387.3 612.2h0M1358.4 594.4h0M1204.7 591.7h0M1520.3 446.2h0M1391.1 364.9h0M1396.5 371.8h0M1209.7 666.2h0M1365.1 609.6h0M1207.5 689.8h0M1205.2 688.3h0M1302.5 378.2h0M1354.5 353.1h0M1210.0 608.3h0M1206.6 689.8h0M1528.4 487.4h0M1406.3 582.1h0M1394.1 367.0h0M1203.6 681.2h0M1210.3 681.8h0M1395.8 372.0h0M1533.9 473.7h0M1515.4 442.2h0M1207.8 689.2h0M1395.0 368.6h0M1395.4 373.8h0M1342.8 602.9h0M1173.6 608.1h0M1390.9 583.5h0M1202.8 667.0h0M1208.6 598.1h0M1437.3 596.8h0M1392.3 377.5h0M1211.1 650.6h0M1358.9 594.5h0M1394.9 369.0h0M1210.0 660.4h0M1393.2 367.1h0M1374.5 587.8h0M1198.3 663.0h0M1190.7 657.5h0M1488.4 484.2h0M1205.5 687.9h0M1210.2 681.5h0M1382.9 383.3h0M1389.1 365.7h0M1203.7 671.6h0M1392.5 366.8h0M1302.8 374.2h0M1393.7 375.8h0M1394.0 368.1h0M1364.3 609.2h0M1210.1 673.1h0M1203.7 670.2h0M1330.6 354.1h0M1400.4 582.4h0M1364.0 392.7h0M1420.2 583.2h0M1348.7 606.0h0M1482.6 440.1h0M1200.9 664.5h0M1209.5 602.4h0M1394.3 369.8h0M1390.8 366.9h0M1354.5 607.1h0M1528.0 461.4h0M1207.2 623.3h0M1388.3 366.2h0M1309.7 363.5h0M1519.6 488.8h0M1393.1 368.5h0M1305.8 382.1h0M1376.1 360.5h0M1303.4 376.6h0M1390.7 367.3h0M1205.1 685.7h0M1197.3 589.6h0M1310.3 363.2h0M1209.5 672.1h0M1209.2 684.2h0M1494.2 437.2h0M1356.5 394.0h0M1317.2 358.9h0M1403.5 611.2h0M1304.3 371.4h0M1515.6 442.9h0M1204.1 677.9h0M1209.0 668.9h0M1204.1 674.7h0M1208.9 664.3h0M1204.8 683.8h0M1209.4 672.3h0M1199.3 663.2h0M1187.3 592.2h0M1209.8 679.1h0M1185.2 652.9h0M1371.9 358.7h0M1204.3 678.9h0M1524.1 453.2h0M1204.5 681.3h0M1423.4 584.2h0M1209.0 670.6h0M1518.8 488.3h0M1203.3 591.5h0M1315.3 388.5h0M1209.7 678.1h0M1370.5 389.8h0M1209.2 682.8h0M1480.2 480.0h0M1382.4 611.4h0M1201.0 590.5h0M1346.6 602.9h0M1522.4 488.0h0M1353.6 394.1h0M1317.2 359.3h0M1363.4 355.8h0M1347.4 601.1h0M1310.0 385.1h0M1208.4 666.0h0M1175.8 641.9h0M1358.0 393.4h0M1387.0 378.2h0M1354.6 354.1h0M1349.5 599.8h0M1322.0 357.3h0M1391.3 371.3h0M1508.8 486.3h0" stroke="#471b6d" stroke-width="4.2" stroke-linecap="round" fill="none"/><path d="M1306.5 381.3h0M1208.2 684.9h0M1304.6 372.9h0M1207.6 685.7h0M1367.9 390.6h0M1497.2 485.1h0M1420.1 583.6h0M1306.0 369.5h0M1306.4 368.7h0M1204.7 680.2h0M1207.7 685.4h0M1207.1 685.7h0M1347.4 603.0h0M1208.6 641.6h0M1327.8 392.5h0M1386.7 368.0h0M1174.0 636.9h0M1208.9 673.4h0M1348.8 353.7h0M1379.3 363.5h0M1209.2 677.1h0M1310.9 363.8h0M1503.2 485.4h0M1205.2 669.8h0M1531.1 482.2h0M1524.5 455.1h0M1356.1 596.9h0M1208.4 671.2h0M1364.7 608.5h0M1352.9 605.6h0M1386.3 377.6h0M1388.9 374.1h0M1208.1 670.6h0M1209.0 676.1h0M1348.5 601.8h0M1205.2 673.0h0M1310.5 384.7h0M1209.3 606.5h0M1208.9 679.1h0M1207.6 666.1h0M1205.5 670.6h0M1203.5 665.2h0M1208.3 682.6h0M1305.7 378.4h0M1408.8 582.8h0M1531.1 471.3h0M1172.4 618.2h0M1350.4 600.2h0M1307.4 368.1h0M1388.3 371.6h0M1208.1 663.3h0M1388.4 372.2h0M1350.1 394.0h0M1206.6 683.8h0M1388.0 374.4h0M1208.1 682.8h0M1205.7 667.5h0M1208.8 677.1h0M1207.5 665.1h0M1374.2 360.8h0M1205.4 680.4h0M1356.5 606.4h0M1206.1 682.9h0M1205.8 667.2h0M1401.6 582.9h0M1205.6 594.4h0M1206.3 669.9h0M1172.9 630.8h0M1469.8 457.9h0M1471.0 468.4h0M1531.4 480.2h0M1207.7 663.8h0M1207.9 682.5h0M1381.1 365.5h0M1392.4 611.4h0M1305.7 377.0h0M1207.4 671.0h0M1478.1 444.2h0M1387.3 371.5h0M1206.2 671.3h0M1364.5 608.2h0M1207.1 683.1h0M1207.4 664.6h0M1431.3 587.7h0M1207.1 665.1h0M1206.3 666.3h0M1364.1 356.7h0M1401.0 611.0h0M1481.8 480.3h0M1208.2 674.9h0M1531.8 476.7h0M1208.1 681.0h0M1375.0 610.1h0M1336.5 393.5h0M1206.1 673.6h0M1207.2 682.1h0M1208.2 679.3h0M1172.7 628.2h0M1388.0 584.8h0M1207.8 680.8h0M1208.0 680.0h0M1352.5 599.7h0M1345.2 393.9h0M1380.9 365.8h0M1206.8 673.1h0M1335.6 354.8h0M1386.3 373.6h0M1206.9 681.2h0M1207.8 680.0h0M1385.1 376.4h0M1355.0 393.1h0M1207.5 674.9h0M1358.8 392.4h0M1207.8 678.0h0M1308.9 381.8h0M1206.6 679.9h0M1200.8 591.3h0M1207.2 680.2h0M1205.5 664.9h0M1379.5 382.6h0M1311.2 384.0h0M1425.1 605.0h0M1173.5 633.1h0M1209.3 657.0h0M1385.0 370.8h0M1306.6 377.3h0M1205.7 664.7h0M1205.4 664.7h0M1354.3 393.1h0M1385.6 372.9h0M1373.5 361.1h0M1208.9 606.2h0M1206.7 678.4h0M1335.6 355.0h0M1523.4 454.5h0M1386.1 585.4h0M1498.2 438.2h0M1308.3 380.7h0M1351.3 393.3h0M1351.8 601.1h0M1531.0 478.4h0M1314.8 362.3h0M1365.4 390.4h0M1384.5 371.1h0M1376.7 384.5h0M1206.2 623.1h0M1385.0 373.9h0M1383.7 377.0h0M1353.8 599.6h0M1530.3 480.2h0M1384.3 370.8h0M1495.4 484.0h0M1384.3 371.6h0M1473.4 450.3h0M1530.3 472.7h0M1471.6 468.1h0M1369.8 359.6h0M1355.6 604.9h0M1357.6 605.7h0M1334.5 355.4h0M1332.7 355.7h0M1207.9 660.7h0M1206.8 662.7h0M1529.0 469.6h0M1355.9 598.6h0M1307.1 374.8h0M1184.7 595.2h0M1317.4 361.1h0M1372.1 387.1h0M1202.6 662.9h0M1523.9 485.4h0M1314.5 363.1h0M1483.5 441.6h0M1356.3 598.6h0M1526.1 462.7h0M1530.0 473.0h0M1514.0 485.4h0M1190.4 654.6h0M1375.0 589.0h0M1386.8 610.9h0M1202.0 662.5h0M1176.5 640.9h0M1382.0 369.4h0M1432.4 599.7h0M1516.4 445.7h0M1318.7 387.8h0M1470.6 462.3h0M1374.7 589.2h0M1322.9 358.8h0M1470.6 462.4h0M1490.0 482.7h0M1380.9 368.2h0M1501.4 439.0h0M1385.2 610.7h0M1206.1 662.4h0M1198.0 591.4h0" stroke="#482475" stroke-width="4.2" stroke-linecap="round" fill="none"/><path d="M1204.4 662.9h0M1358.4 597.6h0M1347.9 355.1h0M1311.1 366.7h0M1369.2 591.7h0M1355.5 392.2h0M1310.1 381.0h0M1196.0 591.6h0M1199.9 661.4h0M1380.5 368.2h0M1209.1 654.9h0M1358.9 605.4h0M1173.9 632.1h0M1336.4 355.7h0M1180.9 598.8h0M1209.2 654.4h0M1178.0 602.7h0M1312.4 365.8h0M1208.2 658.2h0M1354.9 602.2h0M1524.5 459.6h0M1529.5 475.2h0M1389.4 610.7h0M1313.6 364.8h0M1350.2 355.5h0M1372.2 361.9h0M1206.0 661.7h0M1315.5 385.2h0M1321.0 388.2h0M1372.6 385.8h0M1515.3 484.8h0M1313.5 365.0h0M1209.0 654.2h0M1208.2 644.4h0M1204.7 662.2h0M1189.8 593.6h0M1486.8 440.8h0M1207.6 659.1h0M1196.2 591.9h0M1367.6 388.4h0M1374.7 589.5h0M1393.7 610.7h0M1374.5 589.6h0M1316.5 385.7h0M1329.6 390.9h0M1196.0 592.0h0M1342.4 355.5h0M1393.3 610.6h0M1206.9 599.1h0M1327.0 358.0h0M1358.7 604.6h0M1524.0 459.1h0M1177.6 641.9h0M1367.8 388.0h0M1381.0 375.8h0M1203.8 661.8h0M1484.0 479.8h0M1323.2 388.7h0M1378.0 609.6h0M1367.6 388.0h0M1205.7 661.1h0M1379.2 379.2h0M1360.9 605.3h0M1332.1 357.0h0M1433.6 596.4h0M1181.3 646.9h0M1514.4 445.0h0M1402.1 610.0h0M1330.3 357.5h0M1345.5 355.8h0M1177.9 603.8h0M1311.9 381.0h0M1415.5 607.5h0M1312.6 381.8h0M1309.7 375.9h0M1313.8 365.8h0M1360.0 357.7h0M1396.6 610.3h0M1364.6 359.1h0M1367.0 388.0h0M1425.4 603.7h0M1401.1 584.0h0M1322.8 388.1h0M1518.0 484.0h0M1318.2 385.9h0M1524.2 461.2h0M1208.7 653.1h0M1348.7 356.1h0M1520.4 452.1h0M1493.5 439.7h0M1310.5 378.0h0M1527.1 479.9h0M1311.1 369.6h0M1379.2 369.9h0M1208.3 655.5h0M1357.9 602.7h0M1187.4 651.0h0M1311.6 369.0h0M1186.7 595.6h0M1327.9 389.7h0M1207.9 656.3h0M1367.4 607.1h0M1476.7 448.2h0M1527.9 475.2h0M1208.5 653.6h0M1368.6 607.4h0M1207.8 607.5h0M1411.6 608.3h0M1433.4 594.6h0M1356.3 357.1h0M1379.6 375.8h0M1395.0 610.3h0M1335.7 356.9h0M1379.5 375.8h0M1495.5 439.7h0M1525.4 481.1h0M1363.3 389.0h0M1314.9 383.1h0M1357.8 390.5h0M1519.4 483.5h0M1424.2 604.0h0M1374.0 383.2h0M1175.3 611.1h0M1526.0 468.4h0M1208.2 654.6h0" stroke="#462c7a" stroke-width="4.2" stroke-linecap="round" fill="none"/><path d="M1349.1 391.5h0M1375.7 381.5h0M1364.9 359.8h0M1312.7 380.3h0M1204.0 660.6h0M1483.7 479.0h0M1519.2 450.9h0M1355.3 390.8h0M1401.3 584.2h0M1311.8 369.9h0M1375.7 366.5h0M1315.6 383.3h0M1320.3 386.3h0M1362.7 596.8h0M1432.6 592.4h0M1207.3 644.2h0M1175.9 636.4h0M1415.3 607.2h0M1356.7 390.4h0M1398.4 584.4h0M1202.9 660.5h0M1430.0 589.6h0M1421.4 605.1h0M1420.9 585.7h0M1373.0 364.4h0M1347.0 391.4h0M1191.8 594.1h0M1364.7 360.0h0M1472.3 459.1h0M1377.5 369.4h0M1432.7 595.8h0M1525.9 479.0h0M1312.0 370.4h0M1415.6 584.7h0M1504.8 482.5h0M1311.5 376.8h0M1526.6 474.2h0M1517.6 482.7h0M1472.4 462.7h0M1207.0 611.8h0M1377.1 369.2h0M1340.7 391.2h0M1378.1 376.6h0M1333.8 357.7h0M1318.2 363.8h0M1316.4 383.2h0M1394.0 585.1h0M1378.0 371.6h0M1355.4 390.3h0M1334.0 390.2h0M1202.6 594.9h0M1377.7 376.8h0M1375.5 367.4h0M1318.3 384.5h0M1312.7 370.2h0M1331.6 389.7h0M1512.7 445.1h0M1508.7 442.8h0M1203.8 635.7h0M1498.3 482.1h0M1329.1 389.0h0M1390.5 609.9h0M1381.8 609.3h0M1201.3 659.7h0M1382.0 609.3h0M1206.8 656.9h0M1384.9 587.0h0M1377.9 374.5h0M1487.3 442.0h0M1206.6 657.3h0M1174.5 617.3h0M1182.6 646.5h0M1361.3 359.3h0M1375.3 367.6h0M1179.2 642.4h0M1493.2 440.6h0M1320.7 362.7h0M1402.3 584.5h0M1389.6 609.8h0M1205.2 619.6h0M1174.4 619.4h0M1363.1 604.3h0M1525.7 473.8h0M1396.9 609.7h0M1362.0 603.5h0M1186.2 649.0h0M1344.9 357.1h0M1352.5 357.6h0M1524.5 467.9h0M1377.5 375.1h0M1425.2 602.8h0M1525.5 476.0h0M1207.8 652.6h0M1341.4 357.3h0M1377.3 375.7h0M1428.5 600.6h0M1204.6 622.2h0M1360.1 359.2h0M1366.0 386.7h0M1432.0 594.2h0M1363.2 360.2h0M1329.0 388.6h0M1204.1 659.3h0M1376.5 370.3h0M1324.7 361.0h0M1361.3 600.1h0M1315.8 381.6h0M1367.7 594.5h0M1206.1 643.0h0M1352.1 390.3h0M1183.9 647.3h0M1181.6 645.2h0M1356.4 389.6h0M1319.1 384.1h0M1313.1 371.5h0M1327.1 387.9h0M1363.5 597.7h0M1373.5 381.4h0M1520.3 454.9h0M1203.3 633.1h0M1391.6 609.7h0M1473.5 465.0h0M1333.4 358.5h0M1190.7 651.5h0M1205.7 642.4h0M1328.5 388.3h0M1331.4 359.0h0M1516.7 481.4h0M1203.1 659.2h0M1187.9 649.6h0M1199.3 594.0h0M1522.1 479.8h0M1356.0 358.5h0M1207.4 653.7h0" stroke="#44347e" stroke-width="4.2" stroke-linecap="round" fill="none"/><path d="M1201.5 594.8h0M1374.8 379.6h0M1502.2 481.7h0M1376.5 372.3h0M1373.1 366.6h0M1376.5 372.2h0M1178.9 641.2h0M1317.5 382.5h0M1174.6 625.3h0M1328.3 388.0h0M1365.7 361.7h0M1336.0 358.3h0M1313.2 374.5h0M1197.3 594.0h0M1357.0 389.1h0M1362.1 601.7h0M1318.9 383.4h0M1501.9 481.6h0M1185.8 597.8h0M1376.2 376.0h0M1412.4 607.3h0M1326.2 361.0h0M1523.1 465.0h0M1508.3 481.3h0M1521.6 459.3h0M1430.2 591.5h0M1416.1 606.3h0M1488.9 442.2h0M1498.8 481.5h0M1413.2 585.1h0M1421.1 604.4h0M1524.1 475.4h0M1518.5 480.5h0M1361.7 387.7h0M1349.3 358.0h0M1375.9 372.1h0M1315.5 379.7h0M1323.5 385.8h0M1371.1 382.6h0M1347.3 357.9h0M1331.5 359.5h0M1424.9 602.5h0M1473.5 459.2h0M1428.0 600.2h0M1477.8 472.5h0M1359.4 388.2h0M1361.9 387.4h0M1206.9 653.8h0M1176.1 612.4h0M1474.8 454.7h0M1473.8 458.1h0M1315.0 378.6h0M1378.6 589.6h0M1188.7 649.4h0M1371.9 381.7h0M1364.2 361.6h0M1174.9 626.4h0M1522.8 466.0h0M1200.0 658.2h0M1330.1 388.0h0M1196.7 594.4h0M1368.9 383.8h0M1322.8 385.1h0M1523.6 473.4h0M1407.9 584.9h0M1317.1 381.0h0M1205.6 643.5h0M1366.0 385.4h0M1389.5 609.3h0M1349.0 389.7h0M1317.2 380.9h0M1410.8 585.1h0M1383.3 588.1h0M1314.3 374.5h0M1315.0 371.1h0M1357.4 359.6h0M1174.9 623.6h0M1181.1 643.5h0M1494.2 441.5h0M1374.1 378.2h0M1205.7 601.7h0M1371.2 366.3h0M1315.9 379.0h0M1522.7 467.3h0M1490.0 479.7h0M1203.0 629.4h0M1202.2 596.2h0M1363.9 602.1h0M1318.8 382.1h0M1315.5 378.0h0M1430.6 595.7h0M1518.9 479.1h0M1348.2 358.4h0M1315.8 370.0h0M1315.1 371.7h0M1518.3 453.0h0M1188.6 648.8h0M1430.5 595.5h0M1201.4 595.7h0M1329.7 360.6h0M1367.6 363.9h0M1372.7 368.2h0M1503.3 442.3h0M1364.7 602.8h0M1522.8 470.1h0M1206.2 609.1h0M1475.7 453.6h0M1344.3 389.6h0M1516.4 479.6h0M1366.0 384.9h0M1371.3 381.2h0M1501.1 480.9h0M1478.0 471.9h0M1412.0 585.3h0M1520.0 456.9h0M1518.4 478.9h0M1344.0 389.5h0M1501.7 442.0h0M1315.1 375.2h0M1175.8 615.5h0M1180.3 641.9h0M1188.6 648.7h0M1335.3 388.6h0" stroke="#433c82" stroke-width="4.2" stroke-linecap="round" fill="none"/><path d="M1355.8 388.3h0M1315.8 377.2h0M1358.7 387.6h0M1357.5 360.1h0M1374.3 372.2h0M1369.2 594.9h0M1339.9 389.2h0M1317.4 368.5h0M1496.8 480.6h0M1334.4 359.7h0M1205.4 644.2h0M1329.5 361.0h0M1178.2 638.2h0M1504.1 480.6h0M1374.0 376.3h0M1427.2 589.9h0M1353.1 388.7h0M1352.9 388.7h0M1374.2 373.6h0M1370.5 366.7h0M1506.7 480.3h0M1347.9 389.1h0M1334.7 388.3h0M1372.2 379.4h0M1421.6 587.3h0M1343.3 358.8h0M1365.3 384.8h0M1359.5 387.1h0M1187.7 647.8h0M1367.8 364.7h0M1370.0 594.6h0M1475.6 467.2h0M1397.3 608.9h0M1476.1 468.3h0M1324.8 385.0h0M1384.6 608.6h0M1203.0 657.2h0M1203.3 598.0h0M1361.5 361.6h0M1339.7 359.2h0M1188.3 648.1h0M1315.9 373.9h0M1323.3 384.1h0M1181.4 603.0h0M1486.1 444.3h0M1475.6 466.9h0M1366.7 383.8h0M1357.9 387.4h0M1363.9 362.7h0M1483.1 476.0h0M1366.9 383.6h0M1380.4 608.0h0M1521.4 464.7h0M1429.8 594.4h0M1502.2 442.5h0M1409.4 607.3h0M1353.0 388.3h0M1359.2 387.0h0M1339.7 388.7h0M1326.6 385.5h0M1192.7 596.3h0M1520.3 475.5h0M1349.0 359.3h0M1330.5 386.9h0M1510.3 445.8h0M1351.6 359.6h0M1519.9 475.9h0M1486.7 444.3h0M1205.3 645.3h0M1358.0 360.8h0M1318.6 379.9h0M1366.0 364.1h0M1205.8 606.4h0M1370.7 380.2h0M1474.8 459.0h0M1344.2 388.8h0M1366.9 364.7h0M1367.3 364.9h0M1355.2 360.2h0M1478.8 471.9h0M1474.7 460.9h0M1193.3 596.3h0M1342.8 359.3h0M1368.9 595.8h0M1355.0 360.2h0M1479.0 472.1h0M1316.6 373.2h0M1413.5 585.9h0M1372.8 376.3h0M1317.0 376.7h0M1517.0 477.6h0M1319.5 367.8h0M1509.9 479.3h0M1521.2 469.9h0M1429.3 593.9h0M1482.3 447.0h0M1366.3 383.4h0M1521.0 472.1h0M1475.1 463.6h0M1189.4 597.9h0M1198.6 656.0h0M1475.1 458.6h0M1367.2 597.7h0M1329.9 361.8h0M1186.8 599.2h0M1513.8 448.9h0M1318.4 378.6h0M1204.9 644.8h0M1518.8 456.3h0M1368.1 381.9h0M1319.2 379.7h0M1181.7 642.5h0M1424.8 589.2h0M1518.0 476.6h0M1190.2 648.4h0M1504.5 443.5h0M1482.7 475.2h0M1323.3 383.2h0M1321.6 381.9h0M1338.3 388.0h0M1513.1 478.4h0M1319.7 368.0h0M1335.2 387.5h0M1404.6 585.6h0M1204.9 602.3h0M1382.9 589.0h0M1475.1 459.8h0M1320.9 381.3h0" stroke="#414487" stroke-width="4.2" stroke-linecap="round" fill="none"/><path d="M1372.5 374.6h0M1409.1 585.7h0M1343.1 388.3h0M1327.1 385.0h0M1429.0 594.3h0M1424.1 589.0h0M1189.2 647.6h0M1335.9 360.5h0M1196.9 596.0h0M1486.0 477.0h0M1361.3 362.6h0M1495.5 479.6h0M1350.1 388.0h0M1415.8 605.3h0M1362.0 385.1h0M1406.2 585.6h0M1202.5 640.4h0M1196.6 654.2h0M1393.2 586.6h0M1177.1 613.0h0M1318.6 370.2h0M1193.7 650.9h0M1475.2 461.7h0M1323.0 382.6h0M1367.7 597.7h0M1372.0 375.2h0M1320.7 367.6h0M1488.4 477.9h0M1193.5 650.6h0M1193.5 596.8h0M1198.7 655.5h0M1195.4 596.3h0M1477.6 452.7h0M1519.1 474.3h0M1492.7 443.0h0M1187.8 599.1h0M1340.2 360.1h0M1204.7 645.5h0M1355.6 387.0h0M1366.1 382.8h0M1356.4 386.7h0M1476.0 465.4h0M1480.4 449.2h0M1365.1 383.3h0M1329.6 362.5h0M1395.8 586.4h0M1340.0 360.2h0M1514.2 449.9h0M1201.4 636.5h0M1519.5 473.1h0M1204.4 654.3h0M1419.3 587.4h0M1204.9 611.3h0M1396.6 586.3h0M1368.2 367.1h0M1346.1 360.1h0M1195.0 652.0h0M1398.5 586.1h0M1360.4 362.6h0M1352.7 387.3h0M1204.6 612.9h0M1196.8 653.9h0M1204.0 654.6h0M1318.3 372.9h0M1512.5 448.4h0M1179.5 607.3h0M1362.4 384.4h0M1341.7 387.8h0M1203.6 617.9h0M1484.6 475.8h0M1367.3 599.3h0M1477.6 468.6h0M1191.6 597.8h0M1203.9 600.9h0M1205.3 650.5h0M1384.5 607.9h0M1176.6 616.4h0M1367.5 601.6h0M1428.5 594.7h0M1425.3 590.1h0M1183.0 602.8h0M1321.9 380.8h0M1333.9 361.5h0M1500.4 443.2h0M1176.3 619.0h0M1419.3 603.6h0M1352.8 360.9h0M1365.6 382.5h0M1176.1 624.8h0M1516.5 475.7h0M1348.0 387.6h0M1319.7 370.2h0M1497.7 443.0h0M1370.9 376.0h0M1496.6 479.3h0M1369.3 379.0h0M1426.8 591.5h0M1322.5 367.0h0M1322.2 380.9h0M1363.2 383.7h0M1476.6 465.8h0M1348.5 387.5h0M1476.5 456.5h0M1201.0 635.4h0M1420.0 603.2h0M1180.0 606.9h0M1519.2 471.3h0M1370.1 596.2h0M1325.5 365.1h0M1319.0 375.7h0M1323.7 366.2h0M1341.6 387.4h0M1321.4 379.8h0M1348.6 387.4h0M1516.7 454.1h0M1489.9 477.9h0M1201.1 633.0h0M1368.8 369.0h0M1201.0 637.7h0" stroke="#3e4b88" stroke-width="4.2" stroke-linecap="round" fill="none"/><path d="M1368.1 601.5h0M1179.2 637.2h0M1337.0 361.3h0M1382.4 589.7h0M1497.2 479.1h0M1321.7 368.3h0M1517.6 456.1h0M1204.8 606.0h0M1368.1 368.4h0M1319.6 376.3h0M1370.7 603.8h0M1514.8 476.1h0M1322.9 367.3h0M1480.8 472.3h0M1519.4 464.5h0M1203.0 643.6h0M1422.4 601.8h0M1417.2 587.3h0M1516.6 474.6h0M1515.2 452.0h0M1483.1 447.8h0M1342.3 360.8h0M1204.2 652.8h0M1516.3 453.7h0M1203.5 616.3h0M1201.6 654.9h0M1199.0 597.2h0M1392.5 608.1h0M1337.3 361.4h0M1519.1 469.0h0M1480.4 450.3h0M1348.7 387.1h0M1367.7 379.7h0M1364.4 365.6h0M1505.6 478.5h0M1323.4 367.2h0M1196.6 652.4h0M1328.5 384.0h0M1193.9 649.3h0M1351.4 361.3h0M1347.0 387.1h0M1369.4 371.1h0M1323.4 367.4h0M1321.6 378.9h0M1422.7 601.4h0M1493.6 443.7h0M1200.6 654.7h0M1364.1 365.6h0M1364.9 381.9h0M1327.9 364.5h0M1332.6 385.3h0M1369.2 377.1h0M1482.4 473.4h0M1519.1 467.5h0M1201.5 627.8h0M1334.7 362.2h0M1347.0 361.1h0M1320.1 373.0h0M1326.7 365.2h0M1333.8 385.6h0M1480.1 451.0h0M1518.4 459.8h0M1178.0 612.7h0M1369.6 373.1h0M1182.6 604.2h0M1203.3 653.3h0M1407.7 586.3h0M1203.0 644.5h0M1370.6 603.2h0M1197.4 652.8h0M1202.5 620.8h0M1397.0 607.9h0M1426.9 597.2h0M1358.5 384.8h0M1369.0 601.3h0M1369.3 598.3h0M1489.8 477.3h0M1320.4 375.8h0M1203.0 617.5h0M1321.3 370.4h0M1203.8 613.4h0M1324.7 381.4h0M1398.7 607.8h0M1500.7 443.9h0M1371.7 603.8h0M1362.4 383.0h0M1324.1 367.3h0M1187.1 644.9h0M1362.6 382.8h0M1191.2 646.7h0M1354.3 385.8h0M1411.5 605.8h0M1200.4 637.1h0M1508.0 477.6h0M1355.0 362.4h0M1406.9 606.7h0M1354.6 385.7h0M1200.6 639.5h0M1354.5 362.3h0M1320.7 372.5h0M1325.2 381.5h0M1203.3 652.7h0M1493.6 444.0h0M1324.3 380.8h0M1320.6 373.7h0M1204.1 649.8h0M1479.3 452.4h0M1193.9 598.1h0M1350.9 386.3h0M1324.0 380.5h0M1476.7 462.2h0M1368.7 376.4h0M1369.1 373.4h0M1201.5 626.4h0M1424.9 591.1h0M1336.6 362.2h0M1516.0 454.5h0M1372.7 595.2h0M1201.2 628.1h0M1512.8 450.2h0M1348.7 361.6h0M1324.0 367.9h0" stroke="#3b528a" stroke-width="4.2" stroke-linecap="round" fill="none"/><path d="M1515.7 473.8h0M1503.6 478.1h0M1354.1 385.5h0M1347.0 386.4h0M1480.5 470.9h0M1346.1 361.5h0M1380.9 606.6h0M1365.3 380.5h0M1367.0 378.7h0M1478.5 454.2h0M1346.8 361.6h0M1176.8 622.5h0M1325.2 367.1h0M1340.0 386.1h0M1321.8 371.2h0M1355.6 363.0h0M1203.5 651.2h0M1502.9 444.7h0M1322.6 378.2h0M1355.3 385.1h0M1359.6 364.3h0M1187.2 601.1h0M1200.5 640.9h0M1492.0 477.5h0M1358.3 384.1h0M1325.2 367.3h0M1332.9 363.5h0M1323.4 379.0h0M1201.1 627.7h0M1329.8 364.7h0M1178.0 631.7h0M1372.8 595.4h0M1479.9 452.1h0M1322.1 377.1h0M1333.8 363.3h0M1346.3 361.8h0M1366.4 369.2h0M1345.6 386.2h0M1185.7 643.6h0M1352.4 362.4h0M1358.9 364.2h0M1397.2 587.0h0M1197.1 651.2h0M1369.8 600.5h0M1357.8 384.2h0M1202.7 616.8h0M1493.1 477.6h0M1321.6 373.6h0M1202.0 600.4h0M1491.4 444.8h0M1366.1 369.0h0M1483.8 473.6h0M1425.5 598.0h0M1330.4 364.6h0M1366.9 370.1h0M1326.8 366.5h0M1367.1 377.5h0M1396.7 587.1h0M1340.8 385.9h0M1478.7 467.5h0M1363.5 366.8h0M1375.8 593.5h0M1202.3 618.8h0M1350.0 362.2h0M1425.3 592.1h0M1201.6 652.7h0M1201.5 652.8h0M1376.4 593.2h0M1364.2 367.4h0M1505.2 445.7h0M1322.0 372.7h0M1331.7 383.8h0M1186.6 643.9h0M1322.8 370.8h0M1322.8 377.4h0M1366.8 370.4h0M1414.3 587.4h0M1325.9 367.4h0M1517.9 466.0h0M1185.5 643.2h0M1330.2 364.9h0M1513.1 474.8h0M1323.0 370.7h0M1323.8 378.6h0M1332.9 363.9h0M1190.5 645.3h0M1517.6 468.1h0M1341.1 385.7h0M1500.0 444.5h0M1351.7 385.4h0M1195.0 648.0h0M1367.7 373.6h0M1199.7 652.5h0M1477.6 457.9h0M1202.6 646.9h0M1378.0 592.5h0M1194.3 598.8h0M1322.2 373.6h0M1345.2 362.2h0M1506.5 446.4h0M1367.5 374.8h0M1199.9 599.1h0M1202.9 649.0h0M1392.0 587.9h0M1385.9 607.1h0M1411.3 587.1h0M1404.4 606.7h0M1346.9 385.7h0M1342.6 362.3h0M1484.8 448.0h0M1366.8 376.6h0M1345.6 362.3h0M1323.6 370.3h0M1367.2 375.3h0M1372.9 603.4h0M1323.4 377.3h0M1396.8 587.3h0M1326.1 380.3h0M1328.1 381.7h0M1377.4 605.3h0M1338.8 362.8h0M1340.2 362.6h0M1331.0 365.0h0M1180.5 637.2h0M1199.4 640.1h0M1415.8 587.9h0" stroke="#38588c" stroke-width="4.2" stroke-linecap="round" fill="none"/><path d="M1402.4 586.9h0M1418.9 588.7h0M1334.5 384.2h0M1364.4 379.5h0M1194.6 599.0h0M1517.0 468.8h0M1336.7 384.7h0M1374.1 603.9h0M1203.6 606.9h0M1326.3 367.8h0M1185.6 642.8h0M1334.8 384.2h0M1332.5 383.5h0M1516.1 470.8h0M1374.2 603.9h0M1200.9 626.6h0M1360.6 366.0h0M1330.9 382.9h0M1398.9 607.2h0M1323.0 375.1h0M1335.2 384.3h0M1366.2 376.8h0M1507.9 476.3h0M1357.9 364.8h0M1515.8 456.2h0M1191.3 600.2h0M1379.1 592.2h0M1193.6 645.8h0M1512.0 450.7h0M1179.3 634.2h0M1479.5 467.8h0M1423.2 599.7h0M1502.3 445.3h0M1323.1 374.3h0M1489.7 445.9h0M1517.3 465.8h0M1349.1 385.1h0M1202.3 616.4h0M1326.8 367.8h0M1516.5 469.3h0M1364.4 379.0h0M1197.8 649.9h0M1478.4 456.9h0M1507.4 476.4h0M1360.7 366.3h0M1323.4 375.0h0M1400.4 587.1h0M1359.3 382.4h0M1420.1 601.7h0M1360.8 381.6h0M1516.8 467.9h0M1350.3 363.1h0M1203.4 609.4h0M1514.1 453.5h0M1358.8 365.4h0M1197.3 648.8h0M1335.9 363.9h0M1365.1 377.8h0M1387.2 589.3h0M1195.1 646.3h0M1203.3 609.8h0M1340.8 385.0h0M1199.4 634.4h0M1203.1 604.8h0M1334.2 383.7h0M1363.8 379.2h0M1363.0 368.1h0M1328.0 380.9h0M1488.4 446.6h0M1517.2 465.0h0M1198.8 639.1h0M1324.1 376.5h0M1425.4 596.3h0M1202.3 602.5h0M1340.6 384.9h0M1203.3 607.2h0M1371.3 599.7h0M1504.4 476.9h0M1365.8 372.0h0M1501.2 445.3h0M1201.3 621.8h0M1389.0 607.1h0M1193.9 645.4h0M1201.5 649.2h0M1363.4 379.4h0M1328.7 366.9h0M1349.3 363.2h0M1365.6 376.2h0M1202.8 612.5h0M1179.8 634.9h0M1199.3 650.2h0M1498.3 477.4h0M1196.7 647.3h0M1408.3 605.7h0M1363.1 368.4h0M1361.8 367.4h0M1500.6 445.2h0M1425.3 595.8h0M1491.3 445.7h0M1489.2 446.4h0M1338.7 384.5h0M1328.9 381.1h0M1325.6 378.3h0M1508.8 448.5h0M1178.5 615.2h0M1330.3 381.8h0M1325.3 377.7h0M1365.7 374.9h0M1345.6 363.1h0M1485.9 473.9h0M1363.1 368.7h0M1198.8 636.4h0M1399.5 587.3h0M1357.6 365.4h0M1392.8 588.2h0M1333.1 365.1h0M1351.5 363.7h0M1200.4 646.9h0M1324.8 376.6h0M1509.0 475.4h0M1185.1 603.9h0M1516.6 461.0h0M1324.3 373.5h0M1183.3 640.2h0M1513.7 453.4h0M1198.4 639.6h0M1423.0 599.3h0M1346.6 363.3h0M1199.8 646.2h0M1325.6 370.3h0M1200.3 647.4h0M1348.8 363.5h0M1356.2 365.0h0M1340.4 384.4h0M1359.9 381.3h0M1202.7 604.8h0" stroke="#355f8d" stroke-width="4.2" stroke-linecap="round" fill="none"/><path d="M1424.4 593.0h0M1186.6 642.6h0M1478.3 461.0h0M1199.1 645.8h0M1199.2 648.2h0M1199.6 646.8h0M1415.9 588.4h0M1341.4 384.5h0M1478.5 463.2h0M1178.6 615.4h0M1404.0 606.3h0M1199.7 647.5h0M1177.7 623.1h0M1198.2 647.0h0M1179.3 612.9h0M1198.4 646.9h0M1344.7 384.6h0M1489.8 446.4h0M1177.9 620.2h0M1198.5 645.6h0M1354.4 383.4h0M1346.2 363.4h0M1198.3 646.0h0M1365.1 375.1h0M1336.8 383.7h0M1198.0 640.9h0M1178.2 628.3h0M1199.5 600.3h0M1339.6 384.2h0M1344.1 363.5h0M1351.5 384.0h0M1331.5 366.2h0M1363.3 378.3h0M1330.9 366.5h0M1516.5 461.9h0M1402.8 606.5h0M1201.9 615.7h0M1327.6 379.3h0M1516.4 461.3h0M1197.6 643.4h0M1333.1 382.5h0M1179.7 633.7h0M1337.0 383.6h0M1478.9 457.7h0M1200.1 627.7h0M1514.4 455.1h0M1325.2 372.6h0M1189.9 643.5h0M1334.8 365.1h0M1364.1 376.6h0M1201.9 615.6h0M1337.9 364.3h0M1390.9 606.9h0M1494.3 476.6h0M1507.5 475.5h0M1509.6 449.6h0M1343.3 384.3h0M1328.3 379.6h0M1325.5 375.8h0M1185.4 604.2h0M1501.8 476.7h0M1362.6 378.5h0M1364.6 374.3h0M1516.1 466.2h0M1333.3 365.8h0M1199.5 630.6h0M1177.9 623.1h0M1328.6 368.4h0M1180.8 636.1h0M1358.2 366.5h0M1339.6 383.8h0M1399.3 587.6h0M1356.3 365.7h0M1516.1 460.7h0M1189.3 602.1h0M1350.3 383.8h0M1198.7 634.6h0M1373.0 601.3h0M1383.6 590.9h0M1515.4 468.5h0M1326.6 370.6h0M1327.4 369.7h0M1364.2 375.5h0M1363.5 370.9h0M1327.1 378.1h0M1424.4 596.2h0M1360.4 380.1h0M1336.3 383.1h0M1194.5 600.4h0M1202.4 605.6h0M1420.4 600.7h0M1378.9 604.8h0M1514.2 470.6h0M1334.0 382.3h0M1489.4 475.1h0M1325.9 375.7h0M1410.7 587.7h0M1201.9 614.7h0M1338.5 364.5h0M1361.6 379.0h0M1360.4 368.0h0M1415.2 588.5h0M1378.0 593.6h0M1395.9 606.8h0M1503.7 446.7h0M1337.6 383.2h0M1422.4 591.6h0M1357.6 366.5h0M1197.1 640.9h0M1341.6 383.8h0M1354.4 382.7h0M1373.8 597.1h0M1187.6 603.1h0M1348.6 364.3h0M1180.4 634.8h0M1347.0 364.2h0M1334.2 365.9h0M1480.3 466.9h0M1197.5 639.0h0M1329.0 368.7h0M1178.5 628.3h0M1202.2 612.0h0M1421.7 599.6h0M1418.5 601.8h0M1326.4 372.3h0M1483.9 450.4h0M1360.6 368.5h0M1356.2 366.1h0M1415.2 588.6h0M1362.1 370.0h0M1389.1 606.5h0M1332.7 366.6h0M1328.1 378.4h0M1179.9 633.4h0" stroke="#32658d" stroke-width="4.2" stroke-linecap="round" fill="none"/><path d="M1196.0 600.5h0M1179.5 632.1h0M1195.5 642.4h0M1336.3 365.4h0M1326.5 372.8h0M1380.7 605.1h0M1357.8 367.0h0M1332.6 381.3h0M1408.0 587.6h0M1326.8 371.9h0M1374.0 601.8h0M1502.8 476.1h0M1362.4 377.2h0M1180.1 612.2h0M1349.0 364.6h0M1514.8 468.5h0M1326.5 374.0h0M1424.1 595.0h0M1356.1 366.3h0M1394.3 588.4h0M1504.9 447.4h0M1197.2 638.8h0M1483.5 451.0h0M1515.5 460.1h0M1419.3 590.1h0M1190.1 642.7h0M1503.0 476.0h0M1362.1 377.4h0M1423.1 597.9h0M1194.6 600.9h0M1334.8 382.0h0M1326.6 374.2h0M1181.2 636.0h0M1352.3 365.3h0M1201.5 604.1h0M1387.3 606.3h0M1379.7 604.7h0M1349.2 383.3h0M1515.6 461.6h0M1354.2 365.8h0M1422.1 598.9h0M1344.3 383.5h0M1357.5 380.9h0M1195.6 600.8h0M1339.9 364.9h0M1417.6 589.5h0M1409.6 604.8h0M1332.5 380.9h0M1349.6 364.8h0M1504.2 475.6h0M1373.5 600.2h0M1342.2 383.3h0M1407.6 605.2h0M1183.3 607.1h0M1488.3 474.1h0M1188.2 603.3h0M1512.9 471.0h0M1423.8 594.9h0M1390.0 606.4h0M1328.2 377.3h0M1484.2 471.4h0M1327.0 373.7h0M1196.0 600.9h0M1360.9 369.8h0M1330.4 368.7h0M1347.4 364.8h0M1353.8 366.0h0M1386.9 606.1h0M1327.3 374.5h0M1355.8 381.3h0M1489.3 474.4h0M1328.3 377.1h0M1328.0 371.5h0M1190.9 642.4h0M1508.3 474.1h0M1327.4 374.6h0M1198.2 633.9h0M1178.7 619.3h0M1356.8 367.3h0M1336.3 366.1h0M1330.3 369.1h0M1199.5 602.0h0M1422.8 597.6h0M1341.6 365.1h0M1481.8 453.7h0M1327.8 372.8h0M1198.2 633.4h0M1335.4 381.6h0M1329.7 378.3h0M1328.3 371.7h0M1358.1 368.1h0M1192.9 642.1h0M1356.7 380.6h0M1192.9 601.8h0M1198.7 631.1h0M1489.9 447.5h0M1353.9 366.3h0M1196.4 639.1h0M1343.9 383.0h0M1346.1 382.9h0M1357.6 380.1h0M1354.8 381.3h0M1359.1 369.0h0M1198.8 630.7h0M1200.1 602.9h0M1420.9 591.4h0M1341.7 382.7h0M1410.2 588.2h0M1375.1 597.0h0M1360.0 378.1h0M1505.3 474.9h0M1330.3 378.5h0M1405.0 587.9h0M1513.4 455.6h0" stroke="#306c8e" stroke-width="4.2" stroke-linecap="round" fill="none"/><path d="M1361.7 372.9h0M1390.7 589.4h0M1481.4 454.7h0M1501.0 475.7h0M1195.6 640.1h0M1380.9 604.7h0M1334.2 367.3h0M1361.6 373.0h0M1511.1 452.5h0M1178.7 622.2h0M1483.2 452.2h0M1347.5 382.6h0M1359.2 369.6h0M1487.1 472.9h0M1330.7 369.6h0M1514.1 457.9h0M1357.6 379.5h0M1343.0 365.5h0M1376.4 602.6h0M1184.3 639.1h0M1201.6 608.1h0M1357.5 368.5h0M1357.8 368.7h0M1383.8 605.3h0M1480.1 458.8h0M1197.2 636.0h0M1404.2 588.0h0M1200.5 604.0h0M1332.1 379.2h0M1180.0 614.5h0M1355.8 367.6h0M1404.9 588.0h0M1340.9 382.2h0M1417.8 601.3h0M1514.9 462.5h0M1385.3 591.1h0M1360.6 376.2h0M1348.2 382.3h0M1200.8 615.4h0M1405.8 605.2h0M1383.5 605.2h0M1195.8 639.0h0M1201.2 613.0h0M1415.5 602.4h0M1411.4 588.5h0M1361.0 374.2h0M1331.3 378.3h0M1330.3 370.7h0M1351.2 381.7h0M1329.8 371.4h0M1404.2 605.5h0M1480.2 463.1h0M1182.2 609.6h0M1380.2 604.2h0M1342.1 382.2h0M1379.8 604.1h0M1374.7 599.4h0M1349.0 366.0h0M1414.3 602.8h0M1360.6 373.1h0M1329.7 372.0h0M1184.8 606.6h0M1348.8 366.0h0M1356.9 379.3h0M1334.9 380.3h0M1514.6 462.2h0M1389.9 589.8h0M1360.3 372.6h0M1360.5 374.5h0M1512.1 470.2h0M1200.9 606.0h0M1197.6 633.9h0M1356.4 368.6h0M1195.5 602.2h0M1331.4 377.9h0M1343.1 366.0h0M1393.6 606.1h0M1343.9 366.0h0M1329.7 374.6h0M1375.1 598.4h0M1197.6 633.5h0M1421.8 593.2h0M1190.4 603.5h0M1348.5 381.7h0M1360.0 373.3h0M1377.6 595.4h0M1360.1 373.9h0M1355.1 368.2h0M1505.4 474.2h0M1334.4 379.6h0" stroke="#2d728e" stroke-width="4.2" stroke-linecap="round" fill="none"/><path d="M1193.8 640.3h0M1418.7 600.5h0M1412.2 603.4h0M1352.9 380.6h0M1413.8 602.9h0M1392.9 606.0h0M1398.2 605.9h0M1334.3 379.5h0M1480.5 462.8h0M1184.8 606.9h0M1331.1 376.9h0M1198.9 627.4h0M1183.5 637.5h0M1341.6 381.6h0M1414.7 602.5h0M1200.7 613.3h0M1337.9 367.2h0M1359.2 376.1h0M1359.7 374.6h0M1375.4 598.3h0M1359.3 375.9h0M1196.1 602.5h0M1197.9 631.7h0M1391.8 605.9h0M1200.9 610.8h0M1345.7 366.4h0M1421.7 593.4h0M1345.6 366.4h0M1332.5 370.1h0M1358.4 371.1h0M1504.2 474.4h0M1333.2 369.6h0M1332.6 378.0h0M1180.5 614.1h0M1198.0 603.0h0M1330.5 374.3h0M1343.3 366.5h0M1346.4 381.5h0M1182.6 636.0h0M1332.2 377.5h0M1341.0 366.8h0M1417.5 590.5h0M1391.8 605.9h0M1497.4 447.1h0M1332.6 370.2h0M1332.2 377.4h0M1359.2 375.0h0M1483.9 469.4h0M1392.9 589.4h0M1331.7 371.2h0M1179.7 617.6h0M1348.8 366.8h0M1354.5 379.5h0M1348.4 381.2h0M1405.3 605.0h0M1355.6 369.1h0M1180.1 616.0h0M1198.8 603.7h0M1382.1 592.9h0M1419.3 591.4h0M1513.6 465.9h0M1342.7 366.7h0M1494.4 447.4h0M1335.8 368.5h0M1331.1 372.9h0M1376.2 601.0h0M1513.8 464.9h0M1508.2 472.6h0M1353.2 368.1h0M1332.2 371.0h0M1351.1 367.4h0M1415.1 602.1h0M1179.5 619.5h0M1331.1 374.6h0M1379.0 594.8h0M1351.6 367.6h0M1358.8 374.3h0M1393.3 605.8h0M1179.9 629.1h0M1353.3 368.2h0M1199.6 604.9h0M1358.4 375.6h0M1352.2 367.9h0M1337.7 380.1h0M1355.6 369.5h0M1331.7 372.3h0M1356.9 370.5h0M1513.5 459.2h0M1421.5 597.2h0M1481.7 465.5h0M1343.3 366.9h0M1502.3 474.5h0M1351.7 380.2h0M1349.9 367.4h0M1335.6 368.8h0M1485.2 451.7h0M1179.4 621.1h0M1200.1 615.7h0M1481.1 463.6h0M1343.4 367.0h0M1181.0 632.5h0M1335.6 379.1h0M1357.9 372.1h0M1332.3 371.6h0M1496.1 447.4h0M1393.6 605.8h0M1356.6 370.5h0M1341.5 367.2h0M1351.8 368.0h0M1499.4 474.8h0M1332.7 371.4h0M1379.3 603.1h0M1343.2 367.1h0M1358.1 373.4h0M1382.4 604.2h0M1358.0 372.8h0M1352.6 379.6h0M1192.5 639.9h0M1340.2 380.4h0M1376.6 597.4h0M1351.7 368.1h0M1200.1 606.6h0M1418.2 591.1h0M1421.7 595.9h0M1199.4 621.0h0M1377.2 601.6h0M1340.4 380.4h0M1481.3 463.7h0M1354.2 369.1h0" stroke="#2a788e" stroke-width="4.2" stroke-linecap="round" fill="none"/><path d="M1354.5 369.3h0M1351.8 379.8h0M1338.9 380.0h0M1182.4 635.0h0M1403.6 605.1h0M1351.9 368.3h0M1342.2 367.4h0M1332.3 375.2h0M1417.5 600.6h0M1357.6 375.2h0M1419.5 599.2h0M1187.6 605.7h0M1497.2 474.7h0M1347.7 380.5h0M1182.2 634.7h0M1351.5 368.3h0M1513.3 464.9h0M1354.1 378.6h0M1512.8 458.0h0M1200.3 610.9h0M1188.1 639.8h0M1376.4 598.6h0M1192.0 639.8h0M1350.9 368.3h0M1509.8 453.0h0M1193.8 638.8h0M1197.5 603.9h0M1200.0 607.7h0M1356.8 372.1h0M1345.6 367.5h0M1384.1 604.5h0M1180.6 630.6h0M1417.2 600.7h0M1186.9 639.3h0M1336.4 378.6h0M1354.6 370.0h0M1483.6 454.0h0M1356.8 375.8h0M1354.2 369.8h0M1503.5 473.8h0M1333.5 371.9h0M1342.2 367.8h0M1332.8 374.2h0M1348.8 380.0h0M1481.4 459.6h0M1348.3 380.1h0M1511.4 455.4h0M1503.9 473.7h0M1383.8 604.4h0M1338.0 368.9h0M1382.0 603.8h0M1377.5 596.9h0M1419.0 591.9h0M1381.6 593.7h0M1199.3 619.9h0M1377.5 596.9h0M1341.7 368.0h0M1182.5 611.1h0M1196.6 633.7h0M1200.0 612.1h0M1396.6 589.2h0M1333.2 373.2h0M1190.5 604.8h0M1347.3 380.1h0M1356.7 373.6h0M1333.3 374.8h0M1343.0 367.9h0M1505.2 473.2h0M1337.3 378.7h0M1481.7 458.2h0M1499.0 474.4h0M1354.9 370.8h0M1394.3 589.5h0M1352.9 369.5h0M1345.2 380.1h0M1338.1 378.9h0M1418.6 599.5h0M1485.1 452.5h0M1508.2 471.6h0M1355.0 377.0h0M1355.3 371.3h0M1346.5 368.0h0M1493.3 448.2h0M1498.8 447.9h0M1400.5 588.8h0M1512.8 459.2h0M1377.1 600.5h0M1343.1 368.1h0M1498.5 447.9h0M1350.0 368.6h0M1333.7 374.8h0M1197.8 604.7h0M1334.1 375.8h0M1199.9 610.8h0M1355.6 376.1h0M1398.5 605.4h0M1511.0 455.1h0M1353.5 370.2h0M1349.9 368.7h0M1509.4 453.1h0M1378.1 601.6h0M1355.0 376.6h0M1378.5 596.1h0M1336.9 378.0h0M1418.6 599.4h0M1378.4 601.8h0M1484.9 469.1h0M1356.0 374.2h0M1512.4 458.4h0M1483.6 454.5h0M1349.1 379.4h0M1493.8 473.9h0M1338.1 378.5h0M1349.1 379.3h0M1354.4 371.0h0M1484.9 453.0h0M1481.6 461.3h0" stroke="#287e8e" stroke-width="4.2" stroke-linecap="round" fill="none"/><path d="M1342.6 368.4h0M1346.7 368.4h0M1190.5 639.5h0M1416.6 590.9h0M1338.2 369.6h0M1199.7 613.1h0M1340.7 368.8h0M1498.8 474.2h0M1354.7 371.5h0M1385.3 592.1h0M1355.5 373.5h0M1499.8 474.1h0M1507.9 451.8h0M1199.6 613.2h0M1338.4 378.3h0M1185.3 637.6h0M1355.2 372.6h0M1510.2 454.2h0M1199.6 612.3h0M1180.8 629.8h0M1334.8 372.6h0M1334.5 374.2h0M1417.5 591.4h0M1334.5 374.0h0M1377.2 599.2h0M1345.3 379.5h0M1186.0 607.6h0M1486.9 470.6h0M1335.0 372.6h0M1350.4 369.4h0M1341.5 369.0h0M1483.8 454.6h0M1336.7 370.9h0M1353.6 371.2h0M1337.6 370.3h0M1197.7 605.3h0M1194.6 636.6h0M1485.8 452.3h0M1197.5 629.4h0M1353.0 377.3h0M1344.8 379.3h0M1489.8 449.7h0M1195.9 604.6h0M1190.1 639.3h0M1337.9 377.7h0M1343.3 368.8h0M1510.1 454.4h0M1335.2 375.1h0M1377.5 600.1h0M1499.2 448.3h0M1337.5 370.6h0M1349.4 369.4h0M1420.4 596.5h0M1354.3 372.3h0M1336.8 376.9h0M1197.4 629.6h0M1198.5 623.5h0M1180.1 621.3h0M1420.0 597.3h0M1335.2 373.7h0M1417.3 591.5h0M1380.0 595.2h0M1512.2 465.5h0M1398.2 605.2h0M1337.6 370.7h0M1500.8 473.7h0M1415.7 590.8h0M1354.2 375.5h0M1345.9 369.0h0M1382.5 593.6h0M1197.0 605.2h0M1342.9 369.1h0M1198.4 623.4h0M1198.0 605.9h0M1386.5 604.5h0M1482.2 463.4h0M1337.8 370.8h0M1405.9 604.2h0M1197.6 605.6h0M1194.8 636.1h0M1395.3 589.7h0M1335.9 372.6h0M1182.4 633.6h0M1341.4 369.4h0M1499.1 473.9h0M1183.8 635.7h0M1341.9 378.6h0M1338.5 370.5h0M1482.0 461.3h0M1487.5 470.8h0M1512.5 463.6h0M1335.7 374.3h0M1335.8 374.5h0M1347.7 378.6h0M1181.5 631.3h0M1510.6 468.5h0M1384.3 604.0h0M1510.1 454.8h0M1340.8 369.8h0M1414.0 601.7h0M1193.2 637.7h0M1352.7 376.4h0M1199.2 609.5h0M1353.6 372.6h0M1342.6 369.5h0M1482.5 464.0h0M1482.1 461.9h0M1336.5 375.5h0M1351.6 377.1h0M1185.7 608.2h0M1337.4 376.4h0M1338.3 377.0h0M1191.5 605.4h0M1353.4 375.3h0M1336.5 372.9h0M1485.6 453.0h0M1189.4 606.1h0M1338.5 371.0h0M1182.1 632.6h0M1382.0 594.1h0M1199.2 611.2h0M1343.4 369.6h0M1188.9 606.4h0M1336.8 375.0h0M1404.5 604.3h0M1189.9 606.0h0M1338.2 371.4h0M1338.8 371.0h0" stroke="#26848d" stroke-width="4.2" stroke-linecap="round" fill="none"/><path d="M1495.1 448.6h0M1350.6 377.2h0M1512.2 463.7h0M1403.2 589.1h0M1488.7 450.7h0M1340.3 370.5h0M1512.3 462.2h0M1195.8 633.7h0M1353.1 374.3h0M1340.6 370.4h0M1406.0 589.2h0M1345.1 369.8h0M1350.5 377.1h0M1414.9 601.1h0M1350.0 370.7h0M1351.5 376.4h0M1387.5 591.7h0M1337.4 372.7h0M1195.2 605.4h0M1495.3 473.4h0M1350.0 377.2h0M1343.7 378.1h0M1189.9 606.2h0M1403.8 589.2h0M1345.9 370.0h0M1495.6 473.5h0M1195.7 633.7h0M1187.1 607.5h0M1338.4 376.1h0M1340.4 377.2h0M1337.3 374.0h0M1483.6 456.0h0M1496.7 473.5h0M1504.2 472.5h0M1352.5 374.3h0M1485.1 468.2h0M1402.6 604.5h0M1343.3 370.2h0M1378.9 597.0h0M1350.4 376.6h0M1193.0 605.6h0M1198.5 619.6h0M1483.2 464.9h0M1350.2 376.6h0M1508.6 453.4h0M1403.4 589.2h0M1341.9 377.4h0M1340.8 370.9h0M1185.9 637.2h0M1349.3 371.0h0M1484.9 454.2h0M1344.4 370.3h0M1186.8 637.7h0M1482.7 458.9h0M1378.8 600.6h0M1416.6 591.7h0M1495.2 473.3h0M1381.7 602.7h0M1497.3 473.4h0M1183.5 634.5h0M1378.3 599.2h0M1339.3 375.8h0M1181.9 631.4h0M1196.2 606.1h0M1339.7 376.0h0M1511.5 465.1h0M1338.7 373.2h0M1195.9 632.7h0M1350.9 375.3h0M1413.3 601.7h0M1510.8 456.9h0M1348.9 376.6h0M1339.4 375.6h0M1351.3 374.0h0M1417.9 592.6h0M1511.9 462.9h0M1339.0 374.8h0M1183.5 611.5h0M1498.5 448.9h0M1346.0 370.9h0M1195.9 606.1h0M1344.8 377.1h0M1349.2 371.8h0M1482.9 463.0h0M1343.6 371.0h0M1194.9 606.0h0M1193.0 605.9h0M1342.6 376.7h0M1192.3 606.0h0M1339.6 373.0h0M1194.3 635.4h0M1349.7 375.5h0M1343.9 376.8h0M1181.8 615.3h0M1340.0 372.8h0M1491.6 449.9h0M1379.9 601.4h0M1349.3 372.5h0M1340.4 375.3h0M1340.6 372.6h0M1390.1 591.2h0M1403.0 589.4h0M1502.4 472.6h0M1401.9 589.4h0M1390.1 591.2h0M1494.6 449.2h0M1343.2 376.4h0M1418.9 597.2h0M1180.6 624.1h0M1349.8 373.7h0M1193.2 606.1h0" stroke="#238b8c" stroke-width="4.2" stroke-linecap="round" fill="none"/><path d="M1347.8 372.0h0M1406.3 603.7h0M1348.0 372.1h0M1340.7 373.1h0M1348.0 372.2h0M1483.5 464.5h0M1187.1 637.4h0M1198.4 616.8h0M1405.7 603.8h0M1410.2 589.9h0M1491.9 449.9h0M1342.2 372.2h0M1341.5 375.4h0M1342.4 375.8h0M1511.6 461.4h0M1379.3 600.4h0M1346.0 371.8h0M1349.0 374.7h0M1493.5 472.6h0M1181.1 627.5h0M1348.7 374.9h0M1340.9 373.7h0M1342.3 372.5h0M1181.2 617.7h0M1391.3 604.6h0M1344.0 375.9h0M1399.9 589.6h0M1196.9 628.4h0M1342.8 375.4h0M1198.1 610.2h0M1345.3 375.8h0M1500.0 472.9h0M1188.1 607.7h0M1379.5 597.2h0M1184.3 610.8h0M1343.1 375.3h0M1509.1 468.5h0M1348.0 373.8h0M1345.1 375.6h0M1419.0 596.2h0M1485.9 468.1h0M1419.0 594.9h0M1491.1 450.3h0M1382.7 594.4h0M1346.6 375.0h0M1194.2 606.5h0M1499.6 449.4h0M1415.2 600.3h0M1344.9 372.8h0M1343.0 374.6h0M1503.7 471.9h0M1197.7 609.2h0M1342.9 373.7h0M1344.7 375.1h0M1483.1 460.7h0M1346.5 373.5h0M1414.4 591.2h0M1344.4 373.2h0M1196.4 629.8h0M1343.4 373.8h0M1344.4 373.3h0M1344.0 374.3h0M1345.4 374.5h0M1344.2 373.7h0M1503.6 471.9h0M1405.9 603.6h0M1483.2 461.6h0M1189.2 607.4h0M1498.7 472.8h0M1509.8 467.1h0M1381.7 602.0h0M1483.6 458.6h0M1393.4 604.6h0M1380.1 597.0h0M1185.3 610.1h0M1402.9 604.1h0M1408.1 603.0h0M1490.1 451.0h0M1511.0 463.4h0M1510.8 464.5h0M1493.2 472.1h0M1484.0 464.4h0M1392.1 591.0h0M1498.2 472.7h0M1181.8 629.1h0M1510.8 464.2h0M1418.5 595.0h0M1190.4 607.3h0M1181.6 617.9h0" stroke="#21918c" stroke-width="4.2" stroke-linecap="round" fill="none"/><path d="M1395.3 590.4h0M1412.6 601.4h0M1194.1 607.1h0M1381.2 601.4h0M1410.2 602.3h0M1381.4 601.5h0M1502.2 450.5h0M1379.8 599.5h0M1197.5 610.6h0M1182.5 630.9h0M1510.7 464.0h0M1500.7 450.1h0M1485.6 467.0h0M1403.8 603.8h0M1506.8 453.2h0M1185.1 610.8h0M1510.8 462.0h0M1500.7 472.2h0M1197.8 615.7h0M1379.9 599.1h0M1197.6 612.7h0M1183.8 612.5h0M1494.4 450.0h0M1491.6 450.8h0M1490.1 470.6h0M1491.7 450.7h0M1503.3 471.4h0M1494.1 472.0h0M1418.0 596.8h0M1188.4 636.8h0M1484.0 459.0h0M1182.0 628.9h0M1380.3 597.6h0M1492.1 450.6h0M1380.1 599.1h0M1486.6 454.2h0M1412.8 591.1h0M1190.8 607.7h0M1414.8 591.9h0M1193.5 634.6h0M1194.8 608.0h0M1509.6 466.1h0M1400.6 604.1h0M1184.0 612.7h0M1195.8 629.8h0M1403.5 603.6h0M1189.1 636.6h0M1393.9 590.9h0M1487.0 468.0h0M1381.2 600.6h0M1181.7 626.6h0M1197.4 619.1h0" stroke="#21978a" stroke-width="4.2" stroke-linecap="round" fill="none"/><path d="M1382.1 595.8h0M1510.3 460.5h0M1186.0 635.2h0M1417.7 596.7h0M1193.5 608.0h0M1508.5 455.9h0M1505.6 470.0h0M1187.3 609.4h0M1181.8 627.2h0M1486.4 467.2h0M1485.8 466.3h0M1394.7 604.2h0M1410.8 590.8h0M1196.6 625.9h0M1380.8 597.8h0M1183.0 614.9h0M1494.4 471.7h0M1409.9 602.0h0M1196.6 625.7h0M1385.4 602.8h0M1510.1 460.1h0M1386.1 603.0h0M1504.5 470.4h0M1402.6 590.1h0M1490.6 470.3h0M1194.4 608.6h0M1186.0 634.9h0M1381.8 596.5h0M1486.3 466.8h0M1192.4 608.3h0M1381.2 600.0h0M1409.0 590.6h0M1494.6 471.6h0M1489.4 469.5h0M1186.9 635.5h0M1416.4 598.1h0M1182.0 627.1h0M1189.6 608.7h0M1509.9 462.6h0M1493.1 471.2h0M1395.7 604.1h0M1195.1 609.4h0M1501.4 451.1h0M1395.6 604.1h0M1504.8 470.0h0M1190.4 635.9h0M1387.2 593.2h0M1509.9 462.1h0M1405.4 590.3h0M1401.0 590.3h0M1196.9 620.9h0M1503.9 470.4h0M1381.4 599.8h0M1417.2 595.5h0M1401.7 590.3h0M1184.2 632.6h0M1501.0 451.1h0M1392.8 603.9h0M1186.9 610.3h0M1396.0 590.8h0M1498.5 471.6h0M1194.1 632.5h0M1196.0 611.0h0M1196.1 627.1h0M1194.8 631.1h0M1402.8 590.3h0M1184.8 633.2h0M1490.4 452.2h0M1394.8 604.0h0M1508.7 466.0h0" stroke="#229c88" stroke-width="4.2" stroke-linecap="round" fill="none"/><path d="M1486.0 456.4h0M1182.5 617.6h0M1401.8 603.6h0M1194.8 609.7h0M1490.7 469.9h0M1194.5 631.6h0M1185.3 612.0h0M1383.8 595.2h0M1489.7 469.3h0M1190.8 635.5h0M1487.3 467.3h0M1196.2 611.9h0M1509.5 463.6h0M1381.4 599.2h0M1508.1 456.4h0M1486.0 465.5h0M1182.7 628.7h0M1182.7 617.2h0M1509.0 458.5h0M1191.1 635.2h0M1494.0 451.1h0M1196.7 617.0h0M1182.0 624.5h0M1196.4 613.7h0M1182.0 624.3h0M1401.4 590.4h0M1486.2 465.5h0M1394.3 591.3h0M1184.9 633.1h0M1500.3 471.1h0M1502.3 470.6h0M1508.0 466.5h0M1191.5 609.1h0M1182.1 624.9h0M1404.6 590.5h0M1193.7 609.6h0M1193.9 609.7h0M1509.1 463.7h0M1189.4 635.4h0M1189.2 609.6h0M1494.3 470.9h0M1508.4 457.7h0M1410.3 591.3h0M1391.4 603.5h0M1416.2 594.6h0M1382.3 599.9h0M1183.9 631.1h0M1196.2 623.7h0M1386.0 594.2h0M1193.0 633.2h0M1195.4 628.1h0M1397.0 591.0h0M1386.8 602.5h0M1389.5 603.2h0M1184.1 614.6h0M1416.1 597.2h0M1501.0 470.7h0M1196.5 619.3h0" stroke="#22a286" stroke-width="4.2" stroke-linecap="round" fill="none"/><path d="M1492.4 451.9h0M1507.8 456.9h0M1183.9 630.9h0M1488.1 467.4h0M1386.6 602.4h0M1502.2 470.3h0M1492.4 470.1h0M1508.2 457.8h0M1183.8 630.6h0M1388.6 602.9h0M1183.3 629.2h0M1501.6 470.4h0M1406.8 602.3h0M1192.9 632.9h0M1183.7 615.7h0M1414.0 592.9h0M1485.5 461.0h0M1387.2 602.5h0M1493.6 470.4h0M1486.1 464.0h0M1187.7 634.5h0M1184.1 615.1h0M1398.9 603.4h0M1408.0 591.1h0M1394.8 603.5h0M1394.6 591.6h0M1394.5 603.5h0M1507.2 456.6h0M1491.4 452.7h0M1189.7 610.2h0M1409.4 601.3h0M1415.0 593.9h0M1491.2 469.2h0M1191.5 633.9h0M1196.2 619.8h0M1195.4 613.3h0M1404.7 590.8h0M1487.9 466.6h0M1409.2 601.4h0M1400.1 603.2h0M1400.4 590.9h0M1194.0 630.6h0M1182.6 620.8h0M1388.6 593.4h0M1182.7 620.3h0M1182.8 619.8h0M1196.0 617.3h0M1415.2 594.4h0M1390.5 592.7h0" stroke="#22a884" stroke-width="4.2" stroke-linecap="round" fill="none"/><path d="M1505.8 467.5h0M1390.1 592.9h0M1503.5 469.1h0M1395.8 591.5h0M1415.4 596.9h0M1490.9 468.8h0M1414.1 598.5h0M1507.5 465.2h0M1505.8 467.5h0M1507.6 458.1h0M1182.9 625.8h0M1189.2 610.8h0M1508.1 463.5h0M1506.4 456.1h0M1491.3 453.1h0M1486.5 463.5h0M1383.4 599.6h0M1504.5 468.4h0M1399.7 603.1h0M1188.0 611.4h0M1195.2 626.3h0M1487.9 456.0h0M1502.5 469.4h0M1184.7 630.9h0M1195.8 619.4h0M1490.0 468.1h0M1195.8 617.8h0M1192.8 632.0h0M1508.0 460.1h0M1414.5 594.1h0M1487.4 456.9h0M1386.0 601.5h0M1391.9 603.0h0M1407.6 591.4h0M1184.1 629.5h0M1183.5 617.8h0M1387.0 594.5h0M1189.3 611.1h0M1183.6 628.3h0M1405.7 591.2h0M1193.2 611.6h0M1415.0 596.4h0M1193.2 631.1h0M1391.4 592.7h0M1190.4 633.6h0M1496.4 470.1h0M1383.8 599.5h0M1487.0 458.1h0M1501.5 452.9h0M1486.4 460.7h0M1405.7 602.0h0M1505.4 455.6h0M1183.2 620.4h0M1412.3 599.4h0M1183.0 622.6h0" stroke="#2bae7f" stroke-width="4.2" stroke-linecap="round" fill="none"/><path d="M1500.6 469.6h0M1413.4 598.6h0M1492.0 468.8h0M1498.8 469.9h0M1395.1 603.1h0M1413.1 593.4h0M1501.0 452.9h0M1492.6 453.1h0M1390.9 602.6h0M1195.2 624.4h0M1414.4 597.2h0M1487.2 458.1h0M1502.2 453.4h0M1387.7 594.3h0M1190.2 611.4h0M1185.2 630.9h0M1185.8 631.6h0M1487.4 458.0h0M1411.5 592.7h0M1493.4 469.2h0M1396.0 591.8h0M1401.7 591.3h0M1188.3 633.2h0M1413.8 597.8h0M1487.9 457.2h0M1389.1 602.2h0M1413.8 594.2h0M1505.3 455.9h0M1404.3 602.1h0M1491.4 453.9h0M1194.9 624.9h0M1410.0 600.4h0M1183.9 618.1h0M1185.4 630.8h0M1499.9 469.4h0M1185.5 614.8h0M1495.8 469.6h0M1412.0 599.2h0M1194.2 614.2h0M1507.0 459.2h0M1414.4 596.1h0M1413.2 593.9h0M1414.0 597.1h0M1500.8 453.2h0M1487.6 463.7h0M1384.4 597.7h0M1487.4 463.1h0M1188.6 612.3h0M1497.0 452.6h0M1494.4 452.9h0M1389.4 602.0h0M1391.3 602.4h0M1506.6 458.6h0M1187.3 632.4h0M1389.7 593.7h0M1398.7 591.6h0M1403.8 591.5h0M1192.4 612.5h0M1402.6 602.3h0M1186.4 614.0h0" stroke="#33b47a" stroke-width="4.2" stroke-linecap="round" fill="none"/><path d="M1194.6 616.0h0M1195.0 619.0h0M1195.0 622.6h0M1489.2 466.0h0M1404.4 601.9h0M1391.6 593.1h0M1413.8 595.1h0M1192.2 631.1h0M1501.4 453.6h0M1496.6 469.4h0M1386.9 595.3h0M1185.4 630.3h0M1192.2 612.6h0M1506.5 458.6h0M1487.5 459.2h0M1184.1 627.4h0M1397.9 602.7h0M1184.1 627.3h0M1398.7 602.7h0M1189.0 612.5h0M1390.1 593.7h0M1194.0 614.8h0M1195.0 620.6h0M1505.5 457.0h0M1501.2 453.7h0M1412.6 598.4h0M1194.6 624.5h0M1394.1 602.6h0M1490.9 454.8h0M1499.8 469.0h0M1501.9 454.1h0M1393.6 602.5h0M1503.7 467.2h0M1487.9 463.4h0M1506.6 459.8h0M1488.0 463.6h0M1184.3 627.3h0M1389.8 601.9h0M1413.6 595.3h0M1190.2 632.2h0M1194.8 621.2h0M1504.6 456.2h0M1411.1 593.2h0M1506.7 462.3h0M1506.5 459.6h0M1188.8 612.9h0M1410.6 599.5h0M1385.2 599.0h0M1412.7 598.0h0M1387.0 595.5h0M1506.5 460.4h0M1506.4 462.8h0M1397.0 602.5h0M1386.2 596.3h0M1491.4 467.3h0M1193.5 614.7h0M1193.0 629.1h0M1413.4 595.5h0M1405.5 591.9h0M1389.7 594.1h0M1385.8 596.9h0" stroke="#3cb975" stroke-width="4.2" stroke-linecap="round" fill="none"/><path d="M1503.7 466.8h0M1184.0 620.7h0M1390.1 601.8h0M1194.5 618.6h0M1492.4 454.4h0M1489.4 465.1h0M1408.0 600.5h0M1488.0 462.0h0M1490.7 455.5h0M1184.9 617.7h0M1413.1 596.8h0M1193.1 614.6h0M1407.6 592.3h0M1186.3 615.4h0M1405.1 592.0h0M1506.0 463.0h0M1493.0 467.8h0M1189.5 613.3h0M1194.3 623.6h0M1488.6 463.3h0M1489.8 456.6h0M1404.9 601.4h0M1489.2 457.6h0M1194.0 624.8h0M1389.8 594.3h0M1505.2 458.0h0M1184.7 627.0h0M1497.0 468.6h0M1189.5 631.5h0M1490.9 466.3h0M1494.0 468.0h0M1410.6 599.0h0M1505.0 458.0h0M1191.8 630.0h0M1411.8 598.1h0M1491.4 455.5h0M1185.0 618.5h0M1409.7 599.5h0M1491.4 455.5h0M1390.2 601.5h0M1504.7 457.6h0M1387.2 600.1h0" stroke="#44bf70" stroke-width="4.2" stroke-linecap="round" fill="none"/><path d="M1412.5 595.7h0M1394.4 602.1h0M1388.1 600.6h0M1504.3 457.3h0M1502.1 455.3h0M1388.3 595.4h0M1186.0 616.6h0M1504.7 457.8h0M1390.5 601.4h0M1408.9 593.0h0M1191.2 630.1h0M1405.0 601.1h0M1404.6 601.2h0M1193.4 617.2h0M1489.0 459.2h0M1189.9 630.9h0M1501.0 467.4h0M1406.5 592.5h0M1193.9 621.2h0M1404.0 601.3h0M1503.0 456.1h0M1185.9 617.2h0M1392.3 593.7h0M1185.0 619.5h0M1407.5 600.3h0M1186.3 616.6h0M1388.7 600.6h0M1190.2 630.5h0M1410.6 598.5h0M1192.4 615.7h0M1501.6 455.5h0M1489.2 462.5h0M1501.5 466.9h0M1192.8 616.5h0M1387.4 599.6h0M1404.5 601.1h0M1187.5 615.5h0M1491.3 465.7h0M1498.4 467.8h0M1193.0 617.1h0M1409.8 593.7h0M1499.2 454.6h0M1189.6 630.4h0M1193.5 619.1h0M1387.0 597.5h0M1492.4 455.6h0M1186.6 629.0h0M1388.9 600.5h0M1501.4 466.8h0" stroke="#52c468" stroke-width="4.2" stroke-linecap="round" fill="none"/><path d="M1387.4 597.0h0M1505.0 460.5h0M1501.0 455.4h0M1402.5 592.4h0M1395.8 601.8h0M1409.2 599.2h0M1184.9 621.9h0M1191.5 629.0h0M1504.8 462.3h0M1496.4 467.6h0M1489.6 462.5h0M1411.4 595.2h0M1405.1 592.6h0M1406.3 600.4h0M1406.7 600.2h0M1193.2 624.5h0M1497.3 467.5h0M1410.7 594.6h0M1490.2 463.7h0M1389.0 600.3h0M1387.7 597.0h0M1189.0 615.2h0M1185.3 625.4h0M1398.9 601.7h0M1503.7 458.2h0M1410.4 598.0h0M1187.2 629.0h0M1502.0 465.9h0M1387.9 597.0h0M1185.5 625.4h0M1192.8 625.1h0M1500.5 466.6h0M1189.9 615.4h0M1401.6 601.3h0M1387.6 598.0h0M1500.0 455.4h0M1388.0 597.0h0M1409.8 594.3h0M1193.1 623.2h0M1185.6 619.9h0M1388.8 599.8h0M1504.3 460.6h0M1407.3 599.7h0M1403.3 600.9h0M1185.6 620.4h0M1496.0 467.0h0" stroke="#5fc860" stroke-width="4.2" stroke-linecap="round" fill="none"/><path d="M1192.3 617.6h0M1389.4 595.9h0M1402.2 592.7h0M1495.5 455.2h0M1504.1 461.9h0M1189.3 615.9h0M1501.9 456.8h0M1500.2 466.4h0M1186.1 619.2h0M1490.7 458.7h0M1490.4 459.4h0M1410.6 595.7h0M1398.7 592.9h0M1388.8 596.6h0M1401.0 592.8h0M1186.4 626.9h0M1392.1 600.9h0M1491.1 458.3h0M1192.4 618.9h0M1499.1 466.6h0M1403.0 592.9h0M1189.8 628.8h0M1492.6 456.8h0M1191.0 628.0h0M1502.9 458.2h0M1503.9 460.7h0M1491.4 464.0h0M1402.7 600.9h0M1388.5 597.3h0M1491.4 458.0h0M1192.5 624.5h0M1492.6 465.2h0M1502.8 464.2h0M1503.0 458.5h0M1407.6 593.7h0M1192.4 619.4h0M1409.3 594.5h0M1403.8 600.6h0M1391.6 600.6h0M1390.5 595.5h0M1503.0 458.7h0M1390.2 595.7h0M1185.8 622.7h0M1410.3 596.7h0M1192.1 618.7h0M1189.6 628.6h0M1189.1 616.6h0M1497.6 455.6h0M1408.8 594.3h0M1185.9 621.4h0M1494.8 456.0h0M1189.7 628.4h0M1403.8 600.5h0M1491.3 458.7h0M1186.0 624.4h0M1491.7 458.1h0M1187.0 618.4h0M1490.8 462.0h0M1185.9 621.9h0M1388.9 598.8h0M1192.0 618.9h0M1493.1 456.8h0M1191.8 625.9h0M1186.4 625.8h0M1187.7 617.7h0M1394.0 601.0h0M1493.1 456.9h0M1190.8 617.2h0M1390.7 595.5h0M1186.8 618.9h0M1497.4 455.8h0M1495.2 466.1h0M1191.4 626.5h0M1503.2 462.5h0M1499.2 456.1h0" stroke="#6ccc59" stroke-width="4.2" stroke-linecap="round" fill="none"/><path d="M1403.8 593.1h0M1500.3 456.6h0M1186.6 619.6h0M1490.9 461.4h0M1393.3 594.4h0M1503.2 460.4h0M1408.8 598.2h0M1495.9 455.9h0M1402.5 600.7h0M1409.8 596.9h0M1497.4 455.9h0M1191.5 626.1h0M1499.7 456.4h0M1395.5 601.1h0M1188.2 617.7h0M1499.2 465.9h0M1191.6 618.7h0M1192.1 620.5h0M1493.8 465.2h0M1496.0 456.1h0M1409.3 597.5h0M1187.1 626.5h0M1186.9 619.6h0M1493.0 457.5h0M1186.3 623.3h0M1188.6 617.7h0M1393.3 600.7h0M1502.4 459.1h0M1189.3 627.7h0M1394.0 600.8h0M1400.9 593.2h0M1494.7 465.4h0M1393.2 600.6h0M1390.1 599.3h0M1404.4 593.4h0M1186.5 621.8h0M1502.7 460.6h0M1190.9 618.6h0M1408.7 595.0h0M1389.7 598.8h0M1502.6 460.1h0M1502.6 462.0h0M1187.2 626.0h0M1188.4 627.2h0M1491.6 461.3h0M1491.7 462.2h0M1408.8 595.2h0M1499.3 465.3h0M1390.0 598.8h0M1392.3 595.2h0M1390.7 596.2h0M1187.0 620.5h0M1409.2 596.2h0" stroke="#7ad151" stroke-width="4.2" stroke-linecap="round" fill="none"/><path d="M1500.4 457.6h0M1408.5 595.1h0M1501.1 458.2h0M1391.9 600.0h0M1191.2 624.8h0M1407.5 598.5h0M1499.1 457.0h0M1491.9 461.6h0M1187.5 625.7h0M1187.0 624.4h0M1408.9 595.7h0M1498.4 456.8h0M1408.4 595.1h0M1493.1 458.3h0M1500.5 457.9h0M1495.4 465.1h0M1501.9 459.6h0M1191.2 624.3h0M1492.1 461.2h0M1191.3 620.9h0M1401.6 593.5h0M1407.7 594.8h0M1494.5 457.4h0M1402.7 600.2h0M1189.0 626.4h0M1187.1 622.7h0M1401.0 600.4h0M1190.5 625.3h0M1190.9 620.4h0M1189.2 626.2h0M1496.3 465.1h0M1187.2 622.0h0M1396.4 594.1h0M1500.9 463.6h0M1501.2 459.1h0M1499.6 457.7h0M1391.2 596.4h0M1405.0 594.0h0M1398.3 600.6h0M1499.5 464.5h0M1398.4 593.9h0M1492.5 460.6h0M1492.8 462.3h0M1495.3 464.5h0M1408.1 597.2h0M1404.4 599.6h0M1187.5 622.4h0M1500.0 458.3h0M1498.6 457.6h0M1391.6 596.2h0M1498.4 464.6h0M1189.2 620.0h0M1391.8 596.2h0M1189.7 620.1h0" stroke="#8bd446" stroke-width="4.2" stroke-linecap="round" fill="none"/><path d="M1404.4 594.0h0M1493.2 459.6h0M1498.2 464.5h0M1190.6 622.2h0M1190.5 621.9h0M1501.3 461.8h0M1188.9 625.1h0M1500.5 459.0h0M1493.0 460.2h0M1501.3 460.8h0M1187.9 623.3h0M1189.1 624.9h0M1391.3 598.8h0M1188.6 624.4h0M1494.4 458.5h0M1494.7 458.4h0M1407.9 596.3h0M1190.1 622.5h0M1493.5 459.9h0M1402.0 593.9h0M1500.7 460.0h0M1395.0 600.1h0M1496.4 457.9h0M1189.2 623.9h0M1496.3 458.0h0M1499.2 463.7h0M1493.8 462.4h0M1495.9 458.1h0M1391.7 596.7h0M1189.1 622.0h0M1497.8 458.1h0M1407.0 597.8h0M1397.0 600.2h0M1498.0 464.0h0M1392.6 599.3h0M1494.6 463.1h0M1493.7 461.3h0M1495.2 463.4h0M1407.4 596.6h0M1499.8 459.5h0M1500.2 460.2h0M1499.9 459.7h0M1494.6 459.4h0M1398.9 594.3h0M1399.5 594.2h0M1393.8 599.5h0M1499.3 459.5h0M1401.8 594.2h0" stroke="#9bd83c" stroke-width="4.2" stroke-linecap="round" fill="none"/><path d="M1495.2 459.2h0M1399.5 594.3h0M1402.0 599.6h0M1406.1 595.3h0M1405.2 598.5h0M1402.6 599.4h0M1497.1 463.1h0M1496.8 459.0h0M1395.3 599.7h0M1496.5 462.9h0M1405.3 598.3h0M1496.0 462.7h0M1405.1 598.4h0M1400.5 594.3h0M1495.0 461.1h0M1394.1 595.8h0M1392.5 598.4h0M1392.4 597.3h0M1495.1 460.8h0M1392.5 598.1h0M1495.6 462.1h0M1396.7 599.8h0M1497.3 459.6h0M1396.4 599.7h0M1497.8 462.1h0M1401.6 599.4h0M1404.7 595.0h0M1393.9 599.1h0M1402.6 599.2h0M1496.2 460.4h0M1404.8 595.2h0M1397.8 594.9h0" stroke="#acdc31" stroke-width="4.2" stroke-linecap="round" fill="none"/><path d="M1396.4 595.3h0M1405.2 595.6h0M1403.5 595.0h0M1399.2 594.8h0M1398.5 599.5h0M1395.0 596.0h0M1405.5 596.9h0M1405.5 596.8h0M1403.4 595.2h0M1393.9 598.1h0M1402.2 595.0h0M1396.1 595.7h0M1396.9 595.4h0M1394.8 596.3h0M1395.2 598.8h0M1404.7 596.0h0M1404.2 597.8h0M1394.1 597.2h0M1396.1 599.0h0M1400.9 595.1h0M1402.8 595.3h0M1402.2 595.3h0" stroke="#bddf26" stroke-width="4.2" stroke-linecap="round" fill="none"/><path d="M1404.2 597.4h0M1402.5 595.5h0M1398.4 598.9h0M1395.4 598.2h0M1397.1 595.9h0M1403.1 597.8h0M1398.9 595.6h0M1396.0 596.8h0M1397.0 596.3h0M1399.8 595.7h0M1399.3 598.4h0M1397.5 596.3h0M1397.4 598.2h0M1397.3 598.1h0" stroke="#cde126" stroke-width="4.2" stroke-linecap="round" fill="none"/><path d="M1402.3 596.7h0M1399.0 598.2h0M1396.7 597.2h0M1402.2 597.0h0M1401.9 596.6h0M1397.7 596.8h0M1397.7 597.2h0M1398.1 597.7h0M1399.7 596.6h0M1400.0 597.0h0" stroke="#dde326" stroke-width="4.2" stroke-linecap="round" fill="none"/></g><rect x="1274.5" y="334.2" width="138" height="84" fill="none" stroke="#f5b946" stroke-width="3.2"/><rect x="1450.8" y="418.8" width="99.2" height="84.5" fill="none" stroke="#5bbfaa" stroke-width="3.2"/><rect x="1166.2" y="569.2" width="70" height="141.2" fill="none" stroke="#7b2483" stroke-width="3.2"/><rect x="1343" y="569.2" width="118.2" height="75.8" fill="none" stroke="#d8443c" stroke-width="3.2"/><rect x="1431" y="296" width="151" height="121" fill="#fff"/><path d="M1450 317.5H1476" stroke="#7b2483" stroke-width="5.6" stroke-linecap="round"/><text x="1488" y="324.8" font-size="25" text-anchor="start" fill="#1e1e1e">size 1</text><path d="M1450 342.5H1476" stroke="#f5b946" stroke-width="5.6" stroke-linecap="round"/><text x="1488" y="349.8" font-size="25" text-anchor="start" fill="#1e1e1e">size 2</text><path d="M1450 367.5H1476" stroke="#d8443c" stroke-width="5.6" stroke-linecap="round"/><text x="1488" y="374.8" font-size="25" text-anchor="start" fill="#1e1e1e">size 3</text><path d="M1450 392.5H1476" stroke="#5bbfaa" stroke-width="5.6" stroke-linecap="round"/><text x="1488" y="399.8" font-size="25" text-anchor="start" fill="#1e1e1e">size 4</text><path d="M1215.8 757.5v-5.5M1215.8 286.8v5.5M1313.9 757.5v-5.5M1313.9 286.8v5.5M1411.9 757.5v-5.5M1411.9 286.8v5.5M1510 757.5v-5.5M1510 286.8v5.5M1117.8 710.5h5.5M1589.5 710.5h-5.5M1117.8 616.3h5.5M1589.5 616.3h-5.5M1117.8 522.1h5.5M1589.5 522.1h-5.5M1117.8 427.9h5.5M1589.5 427.9h-5.5M1117.8 333.8h5.5M1589.5 333.8h-5.5" stroke="#1c1c1c" stroke-width="1.8" fill="none"/><rect x="1117.8" y="286.8" width="471.8" height="470.8" fill="none" stroke="#1c1c1c" stroke-width="2"/><text x="1099" y="718.8" font-size="25" text-anchor="end" fill="#1e1e1e">70</text><text x="1099" y="624.6" font-size="25" text-anchor="end" fill="#1e1e1e">80</text><text x="1099" y="530.4" font-size="25" text-anchor="end" fill="#1e1e1e">90</text><text x="1099" y="436.2" font-size="25" text-anchor="end" fill="#1e1e1e">100</text><text x="1099" y="342.1" font-size="25" text-anchor="end" fill="#1e1e1e">110</text><text x="1115.8" y="796.3" font-size="25" text-anchor="middle" fill="#1e1e1e">50</text><text x="1213.8" y="796.3" font-size="25" text-anchor="middle" fill="#1e1e1e">100</text><text x="1311.9" y="796.3" font-size="25" text-anchor="middle" fill="#1e1e1e">150</text><text x="1409.9" y="796.3" font-size="25" text-anchor="middle" fill="#1e1e1e">200</text><text x="1508" y="796.3" font-size="25" text-anchor="middle" fill="#1e1e1e">250</text><text x="0" y="0" font-size="38" text-anchor="middle" fill="#1e1e1e" transform="translate(1038.8 523.5) rotate(-90)">brightness (a.u.)</text><text x="1362" y="845.2" font-size="38" text-anchor="middle" fill="#1e1e1e">size (µm²)</text><path d="M1741.2 286.8V757.5M1607.5 710.5H1795M1607.5 616.3H1795M1607.5 522.1H1795M1607.5 427.9H1795M1607.5 333.8H1795" stroke="#d2d2d2" stroke-width="1.0" fill="none"/><path d="M1607.5 346.5H1633.4V352.7H1607.5M1607.5 352.7H1650.2V359H1607.5M1607.5 359H1647.5V365.2H1607.5M1607.5 365.2H1638.8V371.5H1607.5M1607.5 371.5H1671.4V377.7H1607.5M1607.5 377.7H1684.4V383.9H1607.5M1607.5 383.9H1637.5V390.2H1607.5M1607.5 390.2H1615.8V396.4H1607.5M1607.5 396.4H1610.3V402.7H1607.5" fill="#e6e6e6" stroke="#707070" stroke-width="1"/><path d="M1607.5 436H1615.8V442.2H1607.5M1607.5 442.2H1637.5V448.5H1607.5M1607.5 448.5H1659.2V454.7H1607.5M1607.5 454.7H1671.4V461H1607.5M1607.5 461H1702.6V467.2H1607.5M1607.5 467.2H1663.2V473.4H1607.5M1607.5 473.4H1619.3V479.7H1607.5M1607.5 479.7H1610.3V485.9H1607.5" fill="#e6e6e6" stroke="#707070" stroke-width="1"/><path d="M1607.5 582.5H1640.1V588.7H1607.5M1607.5 588.7H1704V595H1607.5M1607.5 595H1757.5V601.2H1607.5M1607.5 601.2H1692.5V607.5H1607.5M1607.5 607.5H1640.1V613.7H1607.5M1607.5 613.7H1631.9V619.9H1607.5M1607.5 619.9H1654.5V626.2H1607.5M1607.5 626.2H1666.7V632.4H1607.5M1607.5 632.4H1654.5V638.7H1607.5M1607.5 638.7H1630V644.9H1607.5M1607.5 644.9H1618.4V651.1H1607.5M1607.5 651.1H1615.8V657.4H1607.5M1607.5 657.4H1613.1V663.6H1607.5M1607.5 663.6H1611.8V669.9H1607.5M1607.5 669.9H1610.3V676.1H1607.5M1607.5 676.1H1608.9V682.3H1607.5M1607.5 682.3H1609.5V688.6H1607.5M1607.5 688.6H1613.8V694.8H1607.5M1607.5 694.8H1611.8V701.1H1607.5M1607.5 701.1H1609.5V707.3H1607.5" fill="#e6e6e6" stroke="#707070" stroke-width="1"/><path d="M1607.8 330 1607.8 330.8 1607.9 331.5 1608 332.3 1608.1 333 1608.2 333.8 1608.3 334.5 1608.5 335.3 1608.6 336.1 1608.8 336.8 1609.1 337.6 1609.3 338.3 1609.6 339.1 1610 339.8 1610.3 340.6 1610.8 341.3 1611.2 342.1 1611.8 342.9 1612.4 343.6 1613 344.4 1613.8 345.1 1614.6 345.9 1615.5 346.6 1616.5 347.4 1617.6 348.2 1618.7 348.9 1620 349.7 1621.4 350.4 1622.9 351.2 1624.4 351.9 1626.1 352.7 1627.9 353.4 1629.8 354.2 1631.8 355 1633.9 355.7 1636.1 356.5 1638.4 357.2 1640.8 358 1643.3 358.7 1645.8 359.5 1648.4 360.3 1651 361 1653.6 361.8 1656.3 362.5 1658.9 363.3 1661.6 364 1664.2 364.8 1666.7 365.5 1669.2 366.3 1671.6 367.1 1673.9 367.8 1676 368.6 1678 369.3 1679.9 370.1 1681.6 370.8 1683.1 371.6 1684.4 372.4 1685.5 373.1 1686.3 373.9 1686.9 374.6 1687.3 375.4 1687.5 376.1 1687.4 376.9 1687.1 377.6 1686.5 378.4 1685.7 379.2 1684.7 379.9 1683.5 380.7 1682.1 381.4 1680.4 382.2 1678.6 382.9 1676.7 383.7 1674.5 384.5 1672.3 385.2 1669.9 386 1667.5 386.7 1665 387.5 1662.4 388.2 1659.7 389 1657.1 389.7 1654.4 390.5 1651.8 391.3 1649.2 392 1646.6 392.8 1644 393.5 1641.6 394.3 1639.2 395 1636.8 395.8 1634.6 396.6 1632.5 397.3 1630.4 398.1 1628.5 398.8 1626.7 399.6 1624.9 400.3 1623.3 401.1 1621.8 401.8 1620.4 402.6 1619.1 403.4 1617.9 404.1 1616.8 404.9 1615.8 405.6 1614.9 406.4 1614 407.1 1613.3 407.9 1612.6 408.7 1612 409.4 1611.4 410.2 1610.9 410.9 1610.5 411.7 1610.1 412.4 1609.7 413.2 1609.4 413.9 1609.1 414.7 1608.9 415.5 1608.7 416.2 1608.5 417 1608.4 417.7 1608.2 418.5 1608.1 419.2 1608 420" stroke="#f5b946" stroke-width="4.2" fill="none" stroke-linejoin="round" stroke-linecap="round" clip-path="url(#cb3)"/><path d="M1607.8 428 1607.8 428.6 1607.9 429.3 1608 429.9 1608.1 430.5 1608.3 431.2 1608.4 431.8 1608.7 432.4 1608.9 433 1609.2 433.7 1609.5 434.3 1610 434.9 1610.4 435.6 1611 436.2 1611.6 436.8 1612.4 437.5 1613.2 438.1 1614.2 438.7 1615.3 439.3 1616.5 440 1617.9 440.6 1619.4 441.2 1621.2 441.9 1623.1 442.5 1625.2 443.1 1627.5 443.8 1629.9 444.4 1632.6 445 1635.5 445.6 1638.6 446.3 1641.9 446.9 1645.4 447.5 1649 448.2 1652.8 448.8 1656.7 449.4 1660.7 450.1 1664.8 450.7 1669 451.3 1673.2 451.9 1677.3 452.6 1681.4 453.2 1685.5 453.8 1689.3 454.5 1693 455.1 1696.5 455.7 1699.7 456.4 1702.7 457 1705.3 457.6 1707.5 458.3 1709.4 458.9 1710.8 459.5 1711.8 460.1 1712.4 460.8 1712.5 461.4 1712.2 462 1711.4 462.7 1710.1 463.3 1708.5 463.9 1706.5 464.6 1704 465.2 1701.3 465.8 1698.2 466.4 1694.8 467.1 1691.3 467.7 1687.5 468.3 1683.5 469 1679.5 469.6 1675.3 470.2 1671.1 470.9 1667 471.5 1662.8 472.1 1658.8 472.7 1654.8 473.4 1650.9 474 1647.2 474.6 1643.7 475.3 1640.3 475.9 1637.1 476.5 1634.1 477.2 1631.3 477.8 1628.7 478.4 1626.3 479.1 1624.1 479.7 1622.1 480.3 1620.3 480.9 1618.7 481.6 1617.2 482.2 1615.9 482.8 1614.7 483.5 1613.7 484.1 1612.8 484.7 1612 485.4 1611.3 486 1610.7 486.6 1610.2 487.2 1609.7 487.9 1609.4 488.5 1609 489.1 1608.8 489.8 1608.5 490.4 1608.4 491 1608.2 491.7 1608.1 492.3 1608 492.9 1607.9 493.5 1607.8 494.2 1607.7 494.8 1607.7 495.4 1607.6 496.1 1607.6 496.7 1607.6 497.3 1607.6 498 1607.6 498.6 1607.5 499.2 1607.5 499.8 1607.5 500.5 1607.5 501.1 1607.5 501.7 1607.5 502.4 1607.5 503" stroke="#5bbfaa" stroke-width="4.2" fill="none" stroke-linejoin="round" stroke-linecap="round" clip-path="url(#cb3)"/><path d="M1607.9 555 1607.9 556.3 1608 557.6 1608.1 558.9 1608.2 560.1 1608.3 561.4 1608.4 562.7 1608.6 564 1608.7 565.3 1608.9 566.6 1609.1 567.9 1609.3 569.1 1609.6 570.4 1609.8 571.7 1610.1 573 1610.5 574.3 1610.8 575.6 1611.2 576.9 1611.7 578.1 1612.1 579.4 1612.6 580.7 1613.2 582 1613.8 583.3 1614.4 584.6 1615.1 585.9 1615.9 587.1 1616.6 588.4 1617.5 589.7 1618.3 591 1619.3 592.3 1620.2 593.6 1621.2 594.9 1622.3 596.1 1623.4 597.4 1624.5 598.7 1625.6 600 1626.8 601.3 1628 602.6 1629.2 603.9 1630.4 605.1 1631.7 606.4 1632.9 607.7 1634.1 609 1635.3 610.3 1636.5 611.6 1637.7 612.9 1638.8 614.1 1639.9 615.4 1640.9 616.7 1641.9 618 1642.8 619.3 1643.6 620.6 1644.3 621.9 1645 623.1 1645.6 624.4 1646.1 625.7 1646.4 627 1646.7 628.3 1646.9 629.6 1647 630.9 1647 632.1 1646.8 633.4 1646.6 634.7 1646.3 636 1645.8 637.3 1645.3 638.6 1644.7 639.9 1644 641.1 1643.2 642.4 1642.3 643.7 1641.4 645 1640.4 646.3 1639.4 647.6 1638.3 648.9 1637.1 650.1 1636 651.4 1634.8 652.7 1633.6 654 1632.3 655.3 1631.1 656.6 1629.9 657.9 1628.7 659.1 1627.4 660.4 1626.3 661.7 1625.1 663 1624 664.3 1622.9 665.6 1621.8 666.9 1620.8 668.1 1619.8 669.4 1618.8 670.7 1617.9 672 1617.1 673.3 1616.3 674.6 1615.5 675.9 1614.8 677.1 1614.1 678.4 1613.5 679.7 1612.9 681 1612.4 682.3 1611.9 683.6 1611.4 684.9 1611 686.1 1610.6 687.4 1610.3 688.7 1610 690 1609.7 691.3 1609.4 692.6 1609.2 693.9 1609 695.1 1608.8 696.4 1608.6 697.7 1608.5 699 1608.4 700.3 1608.3 701.6 1608.1 702.9 1608.1 704.1 1608 705.4 1607.9 706.7 1607.9 708" stroke="#7b2483" stroke-width="4.2" fill="none" stroke-linejoin="round" stroke-linecap="round" clip-path="url(#cb3)"/><path d="M1607.5 572 1607.6 572.4 1607.6 572.8 1607.6 573.2 1607.6 573.5 1607.7 573.9 1607.7 574.3 1607.8 574.7 1607.8 575.1 1607.9 575.5 1608 575.9 1608.1 576.3 1608.3 576.6 1608.4 577 1608.6 577.4 1608.9 577.8 1609.2 578.2 1609.5 578.6 1609.9 579 1610.4 579.3 1611 579.7 1611.6 580.1 1612.4 580.5 1613.3 580.9 1614.3 581.3 1615.5 581.7 1616.8 582.1 1618.3 582.4 1619.9 582.8 1621.8 583.2 1624 583.6 1626.3 584 1628.9 584.4 1631.8 584.8 1635 585.1 1638.4 585.5 1642.2 585.9 1646.2 586.3 1650.6 586.7 1655.2 587.1 1660.2 587.5 1665.4 587.8 1671 588.2 1676.8 588.6 1682.8 589 1689 589.4 1695.4 589.8 1701.9 590.2 1708.5 590.6 1715.2 590.9 1721.9 591.3 1728.5 591.7 1734.9 592.1 1741.3 592.5 1747.3 592.9 1753.1 593.3 1758.6 593.6 1763.6 594 1768.2 594.4 1772.2 594.8 1775.8 595.2 1778.7 595.6 1781 596 1782.6 596.4 1783.6 596.7 1783.9 597.1 1783.5 597.5 1782.4 597.9 1780.7 598.3 1778.3 598.7 1775.3 599.1 1771.7 599.4 1767.6 599.8 1762.9 600.2 1757.8 600.6 1752.4 601 1746.5 601.4 1740.4 601.8 1734.1 602.2 1727.6 602.5 1721 602.9 1714.3 603.3 1707.6 603.7 1701 604.1 1694.5 604.5 1688.1 604.9 1681.9 605.2 1676 605.6 1670.2 606 1664.7 606.4 1659.5 606.8 1654.6 607.2 1650 607.6 1645.7 607.9 1641.6 608.3 1637.9 608.7 1634.5 609.1 1631.4 609.5 1628.6 609.9 1626 610.3 1623.7 610.7 1621.6 611 1619.7 611.4 1618.1 611.8 1616.6 612.2 1615.3 612.6 1614.2 613 1613.2 613.4 1612.3 613.7 1611.5 614.1 1610.9 614.5 1610.4 614.9 1609.9 615.3 1609.5 615.7 1609.1 616.1 1608.9 616.5 1608.6 616.8 1608.4 617.2 1608.2 617.6 1608.1 618" stroke="#d8443c" stroke-width="4.2" fill="none" stroke-linejoin="round" stroke-linecap="round" clip-path="url(#cb3)"/><path d="M1741.2 757.5v-5.5M1741.2 286.8v5.5M1607.5 710.5h5.5M1795 710.5h-5.5M1607.5 616.3h5.5M1795 616.3h-5.5M1607.5 522.1h5.5M1795 522.1h-5.5M1607.5 427.9h5.5M1795 427.9h-5.5M1607.5 333.8h5.5M1795 333.8h-5.5" stroke="#1c1c1c" stroke-width="1.8" fill="none"/><rect x="1607.5" y="286.8" width="187.5" height="470.8" fill="none" stroke="#1c1c1c" stroke-width="2"/><text x="1606.5" y="796.3" font-size="25" text-anchor="middle" fill="#1e1e1e">0</text><text x="1739.5" y="796.3" font-size="25" text-anchor="middle" fill="#1e1e1e">0.1</text><text x="1706" y="845.2" font-size="38" text-anchor="middle" fill="#1e1e1e">counts</text><text x="0" y="0" font-size="92" font-weight="bold" fill="#1a1a1a" transform="translate(-2.6 1018) scale(0.93 1)">c</text><text x="405" y="1010.8" font-size="52" text-anchor="middle" fill="#1e1e1e" letter-spacing="2.5">FC</text><path d="M291.2 1030V1218.5M416 1030V1218.5M540.8 1030V1218.5M166.5 1153.5H640.5M166.5 1088.5H640.5" stroke="#d2d2d2" stroke-width="1.0" fill="none"/><path d="M253 1218.5V1215.5H258V1218.5M258 1218.5V1177.5H262.5V1218.5M262.5 1218.5V1098.5H267.5V1218.5M267.5 1218.5V1208.5H272.5V1218.5M320.6 1218.5V1214.5H326.4V1218.5M326.4 1218.5V1200.5H332.2V1218.5M332.2 1218.5V1170H338V1218.5M338 1218.5V1151H343.8V1218.5M343.8 1218.5V1201H349.6V1218.5M349.6 1218.5V1215.5H355.4V1218.5" fill="#e6e6e6" stroke="#707070" stroke-width="1"/><path d="M470.3 1218.5V1215.5H475.9V1218.5M475.9 1218.5V1212.5H481.5V1218.5M481.5 1218.5V1197.2H487.1V1218.5M487.1 1218.5V1169.8H492.7V1218.5M492.7 1218.5V1156.5H498.3V1218.5M498.3 1218.5V1173.9H503.9V1218.5M503.9 1218.5V1199H509.5V1218.5M509.5 1218.5V1199.8H515.1V1218.5M515.1 1218.5V1200.2H520.7V1218.5M520.7 1218.5V1201.7H526.3V1218.5M526.3 1218.5V1200.9H531.9V1218.5M531.9 1218.5V1205.5H537.5V1218.5M537.5 1218.5V1207.7H543.1V1218.5M543.1 1218.5V1207.8H548.7V1218.5M548.7 1218.5V1209H554.3V1218.5M554.3 1218.5V1212.8H559.9V1218.5M559.9 1218.5V1212.8H565.5V1218.5M565.5 1218.5V1214.4H571.1V1218.5M571.1 1218.5V1216H576.7V1218.5M576.7 1218.5V1216.6H582.3V1218.5M582.3 1218.5V1217.3H587.9V1218.5" fill="#e6e6e6" stroke="#707070" stroke-width="1"/><path d="M255 1218.3 255.2 1218.2 255.3 1218.2 255.5 1218.1 255.7 1218 255.8 1217.8 256 1217.7 256.2 1217.5 256.3 1217.3 256.5 1217 256.7 1216.7 256.8 1216.3 257 1215.9 257.2 1215.4 257.4 1214.8 257.5 1214.1 257.7 1213.3 257.9 1212.4 258 1211.3 258.2 1210.1 258.4 1208.7 258.5 1207.1 258.7 1205.4 258.9 1203.4 259 1201.1 259.2 1198.7 259.4 1195.9 259.5 1192.9 259.7 1189.6 259.9 1186 260 1182 260.2 1177.8 260.4 1173.2 260.5 1168.4 260.7 1163.2 260.9 1157.7 261.1 1151.9 261.2 1145.9 261.4 1139.6 261.6 1133.1 261.7 1126.4 261.9 1119.6 262.1 1112.7 262.2 1105.8 262.4 1098.9 262.6 1092 262.7 1085.2 262.9 1078.7 263.1 1072.4 263.2 1066.4 263.4 1060.7 263.6 1055.5 263.7 1050.7 263.9 1046.5 264.1 1042.9 264.2 1039.9 264.4 1037.5 264.6 1035.8 264.7 1034.8 264.9 1034.5 265.1 1034.9 265.3 1036.1 265.4 1037.9 265.6 1040.4 265.8 1043.5 265.9 1047.3 266.1 1051.6 266.3 1056.4 266.4 1061.7 266.6 1067.5 266.8 1073.5 266.9 1079.9 267.1 1086.5 267.3 1093.3 267.4 1100.2 267.6 1107.1 267.8 1114 267.9 1120.9 268.1 1127.7 268.3 1134.3 268.4 1140.8 268.6 1147 268.8 1153 268.9 1158.8 269.1 1164.2 269.3 1169.3 269.5 1174.1 269.6 1178.6 269.8 1182.8 270 1186.7 270.1 1190.2 270.3 1193.5 270.5 1196.5 270.6 1199.1 270.8 1201.6 271 1203.8 271.1 1205.7 271.3 1207.4 271.5 1209 271.6 1210.3 271.8 1211.5 272 1212.6 272.1 1213.5 272.3 1214.2 272.5 1214.9 272.6 1215.5 272.8 1216 273 1216.4 273.2 1216.8 273.3 1217.1 273.5 1217.3 273.7 1217.5 273.8 1217.7 274 1217.9 274.2 1218 274.3 1218.1 274.5 1218.2 274.7 1218.2 274.8 1218.3 275 1218.3" stroke="#7b2483" stroke-width="4.2" fill="none" stroke-linejoin="round" stroke-linecap="round" clip-path="url(#cc1)"/><path d="M315 1217.7 315.4 1217.5 315.8 1217.4 316.2 1217.2 316.5 1217 316.9 1216.7 317.3 1216.5 317.7 1216.2 318.1 1215.8 318.5 1215.5 318.9 1215 319.3 1214.6 319.6 1214 320 1213.5 320.4 1212.8 320.8 1212.1 321.2 1211.4 321.6 1210.5 322 1209.6 322.3 1208.6 322.7 1207.6 323.1 1206.4 323.5 1205.2 323.9 1203.9 324.3 1202.4 324.7 1200.9 325.1 1199.3 325.4 1197.7 325.8 1195.9 326.2 1194 326.6 1192.1 327 1190.1 327.4 1188 327.8 1185.8 328.1 1183.6 328.5 1181.3 328.9 1179 329.3 1176.7 329.7 1174.3 330.1 1171.9 330.5 1169.6 330.8 1167.2 331.2 1164.9 331.6 1162.6 332 1160.4 332.4 1158.2 332.8 1156.1 333.2 1154.2 333.6 1152.3 333.9 1150.6 334.3 1149 334.7 1147.6 335.1 1146.3 335.5 1145.2 335.9 1144.3 336.3 1143.5 336.6 1143 337 1142.6 337.4 1142.5 337.8 1142.6 338.2 1142.8 338.6 1143.3 339 1143.9 339.4 1144.8 339.7 1145.8 340.1 1147 340.5 1148.4 340.9 1149.9 341.3 1151.6 341.7 1153.4 342.1 1155.3 342.4 1157.3 342.8 1159.5 343.2 1161.7 343.6 1163.9 344 1166.2 344.4 1168.6 344.8 1171 345.2 1173.3 345.5 1175.7 345.9 1178.1 346.3 1180.4 346.7 1182.7 347.1 1184.9 347.5 1187.1 347.9 1189.2 348.2 1191.3 348.6 1193.2 349 1195.1 349.4 1196.9 349.8 1198.7 350.2 1200.3 350.6 1201.8 350.9 1203.3 351.3 1204.6 351.7 1205.9 352.1 1207.1 352.5 1208.2 352.9 1209.2 353.3 1210.2 353.7 1211 354 1211.8 354.4 1212.6 354.8 1213.2 355.2 1213.8 355.6 1214.4 356 1214.8 356.4 1215.3 356.7 1215.7 357.1 1216 357.5 1216.3 357.9 1216.6 358.3 1216.9 358.7 1217.1 359.1 1217.3 359.5 1217.5 359.8 1217.6 360.2 1217.7 360.6 1217.8 361 1217.9" stroke="#d8443c" stroke-width="4.2" fill="none" stroke-linejoin="round" stroke-linecap="round" clip-path="url(#cc1)"/><path d="M432 1218.2 433.4 1218.2 434.9 1218.1 436.3 1218.1 437.7 1218 439.1 1217.9 440.6 1217.9 442 1217.8 443.4 1217.7 444.9 1217.6 446.3 1217.5 447.7 1217.3 449.1 1217.2 450.6 1217 452 1216.9 453.4 1216.7 454.9 1216.5 456.3 1216.3 457.7 1216 459.1 1215.8 460.6 1215.5 462 1215.2 463.4 1214.9 464.9 1214.5 466.3 1214.2 467.7 1213.8 469.1 1213.4 470.6 1213 472 1212.5 473.4 1212.1 474.9 1211.6 476.3 1211.1 477.7 1210.6 479.1 1210 480.6 1209.5 482 1208.9 483.4 1208.4 484.9 1207.8 486.3 1207.2 487.7 1206.6 489.1 1206 490.6 1205.4 492 1204.8 493.4 1204.3 494.9 1203.7 496.3 1203.1 497.7 1202.6 499.1 1202.1 500.6 1201.6 502 1201.1 503.4 1200.7 504.9 1200.3 506.3 1199.9 507.7 1199.6 509.1 1199.3 510.6 1199.1 512 1198.9 513.4 1198.7 514.9 1198.6 516.3 1198.5 517.7 1198.5 519.1 1198.5 520.6 1198.6 522 1198.7 523.4 1198.9 524.9 1199.1 526.3 1199.4 527.7 1199.7 529.1 1200 530.6 1200.4 532 1200.8 533.4 1201.2 534.9 1201.7 536.3 1202.2 537.7 1202.7 539.1 1203.2 540.6 1203.8 542 1204.4 543.4 1204.9 544.9 1205.5 546.3 1206.1 547.7 1206.7 549.1 1207.3 550.6 1207.9 552 1208.5 553.4 1209 554.9 1209.6 556.3 1210.1 557.7 1210.7 559.1 1211.2 560.6 1211.7 562 1212.2 563.4 1212.6 564.9 1213.1 566.3 1213.5 567.7 1213.9 569.1 1214.2 570.6 1214.6 572 1214.9 573.4 1215.2 574.9 1215.5 576.3 1215.8 577.7 1216.1 579.1 1216.3 580.6 1216.5 582 1216.7 583.4 1216.9 584.9 1217.1 586.3 1217.2 587.7 1217.4 589.1 1217.5 590.6 1217.6 592 1217.7 593.4 1217.8 594.9 1217.9 596.3 1218 597.7 1218 599.1 1218.1 600.6 1218.1 602 1218.2" stroke="#f5b946" stroke-width="4.2" fill="none" stroke-linejoin="round" stroke-linecap="round" clip-path="url(#cc1)"/><path d="M471 1218.1 471.4 1218 471.8 1218 472.2 1217.9 472.6 1217.7 473 1217.6 473.4 1217.4 473.8 1217.3 474.2 1217.1 474.6 1216.8 474.9 1216.6 475.3 1216.3 475.7 1215.9 476.1 1215.5 476.5 1215.1 476.9 1214.6 477.3 1214.1 477.7 1213.5 478.1 1212.8 478.5 1212 478.9 1211.2 479.3 1210.3 479.7 1209.4 480.1 1208.3 480.5 1207.2 480.9 1205.9 481.3 1204.6 481.7 1203.2 482.1 1201.6 482.5 1200 482.8 1198.3 483.2 1196.4 483.6 1194.5 484 1192.5 484.4 1190.4 484.8 1188.2 485.2 1186 485.6 1183.7 486 1181.3 486.4 1178.9 486.8 1176.4 487.2 1173.9 487.6 1171.5 488 1169 488.4 1166.5 488.8 1164.1 489.2 1161.8 489.6 1159.5 490 1157.3 490.4 1155.2 490.7 1153.2 491.1 1151.4 491.5 1149.7 491.9 1148.1 492.3 1146.8 492.7 1145.6 493.1 1144.7 493.5 1143.9 493.9 1143.3 494.3 1143 494.7 1142.9 495.1 1143 495.5 1143.3 495.9 1143.9 496.3 1144.6 496.7 1145.6 497.1 1146.8 497.5 1148.1 497.9 1149.6 498.3 1151.3 498.6 1153.2 499 1155.2 499.4 1157.3 499.8 1159.5 500.2 1161.7 500.6 1164.1 501 1166.5 501.4 1169 501.8 1171.4 502.2 1173.9 502.6 1176.4 503 1178.8 503.4 1181.3 503.8 1183.6 504.2 1185.9 504.6 1188.2 505 1190.4 505.4 1192.5 505.8 1194.5 506.2 1196.4 506.5 1198.2 506.9 1200 507.3 1201.6 507.7 1203.1 508.1 1204.6 508.5 1205.9 508.9 1207.1 509.3 1208.3 509.7 1209.4 510.1 1210.3 510.5 1211.2 510.9 1212 511.3 1212.8 511.7 1213.4 512.1 1214.1 512.5 1214.6 512.9 1215.1 513.3 1215.5 513.7 1215.9 514.1 1216.2 514.4 1216.6 514.8 1216.8 515.2 1217.1 515.6 1217.3 516 1217.4 516.4 1217.6 516.8 1217.7 517.2 1217.8 517.6 1217.9 518 1218" stroke="#5bbfaa" stroke-width="4.2" fill="none" stroke-linejoin="round" stroke-linecap="round" clip-path="url(#cc1)"/><path d="M291.2 1218.5v-5.5M291.2 1030v5.5M416 1218.5v-5.5M416 1030v5.5M540.8 1218.5v-5.5M540.8 1030v5.5M166.5 1153.5h5.5M640.5 1153.5h-5.5M166.5 1088.5h5.5M640.5 1088.5h-5.5" stroke="#1c1c1c" stroke-width="1.8" fill="none"/><rect x="166.5" y="1030" width="474" height="188.5" fill="none" stroke="#1c1c1c" stroke-width="2"/><text x="156" y="1097.5" font-size="25" text-anchor="end" fill="#1e1e1e">0.2</text><text x="156" y="1162.5" font-size="25" text-anchor="end" fill="#1e1e1e">0.1</text><text x="153" y="1227.5" font-size="25" text-anchor="end" fill="#1e1e1e">0</text><text x="0" y="0" font-size="38" text-anchor="middle" fill="#1e1e1e" transform="translate(100 1124.4) rotate(-90)">counts</text><path d="M294.9 1241V1715M419.3 1241V1715M543.8 1241V1715M170.8 1641.8H643M170.8 1498.6H643M170.8 1355.5H643" stroke="#d2d2d2" stroke-width="1.0" fill="none"/><path d="M172 1712.4H642" stroke="#a8a8a8" stroke-width="1.3"/><g clip-path="url(#cc2)"><path d="M307.5 1474.4h0M426.4 1654.2h0M310.8 1475.8h0M276.8 1493.8h0M312.6 1478.3h0M265.4 1489.7h0M424.5 1659.9h0M421.3 1664.2h0M273.3 1486.8h0M313.0 1428.8h0M317.1 1382.3h0M313.0 1471.9h0M491.7 1438.9h0M481.8 1672.1h0M448.5 1645.4h0M539.6 1650.4h0M516.8 1471.4h0M484.1 1450.6h0M314.2 1473.6h0M350.7 1472.0h0M315.4 1475.6h0M430.1 1659.2h0M428.7 1661.0h0M335.9 1295.5h0M312.5 1458.8h0M434.3 1655.9h0M319.1 1378.8h0M456.1 1667.5h0M312.6 1461.7h0M448.2 1646.8h0M493.3 1441.2h0M432.4 1658.7h0M457.1 1641.8h0M314.2 1468.9h0M437.5 1654.8h0M333.0 1320.2h0M447.9 1666.6h0M433.7 1659.8h0M435.0 1658.2h0M494.0 1442.8h0M532.9 1586.7h0M321.1 1374.2h0M499.2 1665.8h0M440.9 1666.0h0M545.3 1582.8h0M494.6 1443.7h0M443.5 1665.9h0M334.2 1312.8h0M510.7 1661.8h0M452.2 1665.2h0M447.3 1649.7h0M435.3 1663.6h0M354.1 1455.9h0M318.6 1475.0h0" stroke="#440154" stroke-width="4.2" stroke-linecap="round" fill="none"/><path d="M524.5 1591.1h0M257.8 1563.2h0M474.0 1667.3h0M566.3 1626.4h0M511.4 1465.5h0M493.8 1444.3h0M449.7 1649.0h0M316.0 1448.3h0M526.7 1590.5h0M533.3 1587.7h0M277.8 1531.0h0M526.8 1653.9h0M352.9 1292.2h0M519.7 1502.6h0M340.5 1290.1h0M441.4 1663.5h0M275.5 1500.9h0M489.4 1613.9h0M324.9 1479.8h0M446.7 1651.8h0M532.0 1588.7h0M327.3 1355.0h0M275.5 1501.6h0M336.0 1305.6h0M266.6 1495.8h0M269.0 1491.0h0M478.1 1666.2h0M352.4 1292.5h0M282.0 1586.4h0M567.7 1623.5h0M446.3 1663.0h0M317.5 1414.3h0M270.2 1490.5h0M442.8 1662.3h0M473.5 1665.4h0M510.3 1660.3h0M319.0 1471.7h0M552.5 1636.8h0M529.3 1651.7h0M264.6 1505.6h0M478.4 1624.7h0M255.4 1592.8h0M491.9 1445.9h0M281.0 1574.0h0M510.7 1467.2h0M514.9 1547.7h0M316.5 1456.9h0M486.3 1455.1h0M519.3 1511.9h0M445.5 1661.7h0M518.2 1495.1h0M466.3 1662.9h0M498.8 1452.7h0M187.5 1362.5h0M195.0 1497.0h0M191.0 1553.8h0M200.0 1552.0h0M195.8 1558.8h0M195.0 1584.5h0M215.0 1577.5h0M208.0 1590.0h0M226.2 1597.5h0M223.0 1628.8h0M249.5 1627.5h0M288.0 1508.0h0M290.0 1554.5h0M300.0 1559.5h0M301.5 1578.0h0M304.0 1540.0h0M301.0 1485.5h0M312.5 1510.8h0M322.0 1523.8h0M327.5 1590.8h0M340.0 1601.2h0M356.2 1610.5h0M333.8 1630.5h0M342.0 1627.0h0M336.2 1488.0h0M372.0 1491.2h0M310.0 1691.2h0M328.0 1697.0h0M343.8 1692.5h0M349.2 1698.8h0M345.8 1688.8h0M350.0 1680.0h0M355.0 1683.8h0M358.8 1689.5h0M403.8 1706.2h0M405.5 1662.0h0M389.5 1569.5h0M392.5 1546.2h0M408.2 1564.5h0M423.0 1547.0h0M436.8 1475.8h0M448.2 1557.0h0M452.0 1517.5h0M458.0 1536.2h0M476.2 1423.2h0M482.5 1698.0h0M492.5 1569.5h0M530.0 1483.8h0M537.0 1572.5h0M538.2 1465.5h0M542.0 1475.0h0M547.5 1472.0h0M551.2 1490.0h0M555.5 1484.5h0M550.0 1516.2h0M552.0 1527.5h0M562.0 1429.5h0M565.0 1507.0h0M571.2 1487.5h0M571.2 1582.5h0M580.5 1438.8h0M580.8 1449.2h0M587.5 1446.2h0M593.2 1449.2h0M582.5 1482.5h0M595.0 1376.2h0M610.0 1471.2h0M617.5 1489.5h0M588.8 1570.0h0M592.5 1586.2h0M603.8 1596.2h0M608.8 1572.0h0M613.8 1563.8h0M629.2 1562.0h0M631.2 1579.2h0M627.5 1597.5h0M631.2 1603.8h0M635.0 1607.5h0M632.5 1611.2h0M623.2 1613.2h0M587.5 1608.0h0M581.8 1621.8h0M578.0 1630.5h0M572.5 1635.8h0M558.8 1645.0h0M413.8 1279.2h0M417.0 1301.2h0M366.5 1339.2h0M594.5 1377.0h0M316.0 1385.0h0M318.0 1410.0h0M320.0 1452.0h0M315.0 1470.0h0M322.0 1462.0h0M318.0 1478.0h0M330.0 1480.0h0M326.0 1470.0h0M465.2 1639.9h0M490.5 1447.3h0M352.0 1455.9h0M509.8 1466.5h0M502.8 1605.3h0M479.9 1545.7h0M565.7 1582.9h0M267.3 1495.1h0M318.8 1405.1h0M451.4 1661.3h0M487.9 1451.6h0M323.0 1376.4h0M476.8 1498.4h0M465.5 1662.0h0M549.9 1584.5h0M464.7 1661.8h0M541.5 1643.6h0M455.6 1648.0h0M569.1 1583.7h0M464.0 1661.6h0M354.1 1300.0h0M324.6 1475.7h0M450.1 1660.6h0M265.6 1502.4h0M329.8 1478.1h0M470.0 1662.2h0M320.0 1469.0h0M327.8 1359.1h0M484.9 1620.4h0M332.8 1344.8h0M350.5 1457.1h0M451.1 1658.9h0M463.0 1660.0h0M322.0 1470.9h0M321.1 1469.5h0M452.1 1658.5h0M318.4 1458.6h0M268.8 1493.9h0M453.8 1658.8h0M485.7 1557.7h0M318.6 1460.1h0M477.1 1503.9h0M318.7 1460.5h0M468.0 1660.4h0M491.5 1449.5h0M458.7 1658.9h0M340.5 1472.8h0M508.6 1558.5h0M469.1 1660.5h0M319.0 1452.0h0M478.4 1662.8h0M549.7 1636.5h0M467.0 1660.0h0M459.7 1647.4h0M492.9 1449.8h0M460.5 1658.7h0M479.9 1626.4h0M347.6 1461.6h0M497.0 1454.0h0M514.9 1599.6h0M276.1 1516.7h0M257.0 1573.9h0M499.8 1566.1h0M319.2 1459.5h0M320.9 1466.9h0M503.2 1606.9h0M490.5 1451.0h0M478.0 1498.5h0M550.6 1586.2h0M327.6 1473.9h0M456.6 1650.7h0M486.1 1620.5h0M455.2 1652.2h0M346.7 1462.8h0M280.8 1580.8h0M320.1 1463.6h0M456.7 1651.0h0M459.8 1657.7h0M279.4 1601.3h0M488.1 1456.3h0M503.4 1462.3h0M478.4 1529.5h0M342.2 1469.3h0M326.0 1472.0h0M561.9 1625.1h0M550.7 1586.6h0M321.4 1466.0h0M456.9 1656.1h0M335.2 1474.1h0M259.0 1566.4h0M342.2 1294.3h0M320.5 1405.7h0M477.9 1503.9h0M267.3 1498.9h0M488.1 1457.6h0M496.1 1454.6h0M329.7 1473.2h0M321.8 1465.7h0M482.2 1479.7h0M458.1 1655.4h0M510.8 1602.9h0M271.7 1495.2h0M475.4 1633.3h0M497.3 1456.9h0M463.7 1646.2h0" stroke="#450a5c" stroke-width="4.2" stroke-linecap="round" fill="none"/><path d="M495.4 1454.2h0M480.7 1539.7h0M469.5 1658.3h0M506.8 1467.5h0M347.9 1458.0h0M468.1 1642.0h0M320.2 1416.0h0M460.6 1649.8h0M487.1 1463.7h0M492.4 1452.4h0M529.1 1593.9h0M506.5 1558.7h0M511.9 1478.2h0M353.8 1441.4h0M518.9 1598.7h0M263.5 1531.0h0M322.6 1391.7h0M277.4 1544.0h0M470.6 1639.7h0M354.6 1310.7h0M341.3 1297.3h0M342.3 1295.8h0M488.7 1558.6h0M536.7 1643.7h0M460.1 1652.3h0M491.6 1453.1h0M465.3 1656.4h0M322.8 1464.8h0M515.9 1496.7h0M321.6 1461.0h0M466.6 1656.6h0M327.5 1368.0h0M274.5 1506.7h0M488.6 1458.6h0M478.9 1527.0h0M516.4 1523.1h0M461.2 1651.8h0M274.7 1508.9h0M515.4 1494.1h0M259.9 1609.3h0M503.7 1560.9h0M267.0 1502.0h0M329.6 1361.6h0M462.2 1653.8h0M497.2 1458.5h0M321.7 1401.6h0M468.1 1643.3h0M273.9 1502.9h0M536.8 1591.6h0M323.1 1463.4h0M494.3 1454.9h0M277.3 1544.7h0M334.8 1347.2h0M464.4 1648.0h0M348.3 1455.0h0M568.7 1614.7h0M271.5 1496.4h0M465.3 1647.1h0M266.2 1619.0h0M351.5 1300.4h0M484.9 1624.3h0M464.2 1648.9h0M482.6 1659.9h0M562.4 1622.4h0M488.5 1461.6h0M322.1 1400.8h0M267.0 1502.5h0M514.6 1491.4h0M466.2 1654.6h0M280.2 1586.9h0M479.9 1659.2h0M464.4 1649.5h0M489.5 1458.5h0M263.3 1535.2h0M354.0 1310.6h0M267.4 1501.5h0M494.8 1456.5h0M515.9 1502.8h0M337.1 1329.5h0M467.3 1654.7h0M490.1 1457.5h0M337.1 1326.6h0M516.2 1519.1h0M263.9 1530.3h0M469.9 1642.7h0M565.1 1589.1h0M567.2 1616.0h0M489.0 1461.0h0M522.5 1650.4h0M486.7 1553.3h0M506.8 1470.4h0M268.1 1499.5h0M485.6 1474.3h0M558.4 1588.5h0M509.8 1655.4h0M353.8 1436.7h0M506.5 1607.4h0M268.7 1498.6h0M273.3 1616.4h0M277.3 1554.1h0M337.3 1331.2h0M337.3 1335.9h0M494.4 1658.9h0M540.8 1591.4h0M561.6 1622.0h0M273.8 1505.1h0M516.0 1513.0h0M354.7 1320.3h0M571.0 1608.4h0M504.8 1468.6h0M338.1 1314.1h0M324.8 1461.5h0M515.1 1498.7h0M513.5 1489.3h0M323.4 1455.3h0M326.3 1463.8h0M485.9 1474.6h0M274.3 1509.9h0M560.6 1589.3h0M545.5 1590.5h0M270.1 1497.6h0M472.6 1640.9h0M491.1 1458.6h0M268.6 1499.5h0M468.0 1648.0h0M352.0 1304.9h0M469.7 1653.3h0M323.9 1456.3h0M541.5 1591.6h0M480.5 1657.7h0M274.0 1507.9h0M473.2 1655.1h0M503.3 1656.7h0M335.2 1350.4h0M494.8 1658.2h0M487.5 1658.6h0M468.6 1651.8h0M335.6 1466.9h0M333.4 1355.5h0M354.7 1329.3h0M346.2 1455.4h0M276.2 1609.6h0M569.4 1610.1h0M272.2 1500.1h0M491.2 1459.6h0M490.5 1460.9h0M266.2 1509.9h0M563.3 1590.5h0M473.8 1640.4h0M494.7 1460.2h0M545.2 1591.1h0" stroke="#461264" stroke-width="4.2" stroke-linecap="round" fill="none"/><path d="M322.2 1413.7h0M331.5 1465.9h0M341.6 1301.8h0M351.8 1440.7h0M338.4 1316.0h0M346.0 1455.0h0M542.5 1591.8h0M485.7 1625.8h0M322.1 1422.6h0M354.7 1429.5h0M469.8 1651.2h0M470.6 1652.2h0M520.8 1650.0h0M494.1 1460.2h0M479.3 1633.5h0M489.8 1464.7h0M571.3 1602.3h0M338.1 1321.5h0M322.3 1430.5h0M322.6 1410.3h0M469.6 1649.6h0M510.7 1544.5h0M493.9 1460.4h0M473.8 1641.2h0M326.7 1460.9h0M477.3 1636.3h0M497.5 1464.0h0M499.4 1465.7h0M272.3 1501.2h0M516.8 1602.4h0M555.8 1590.3h0M483.4 1657.2h0M563.5 1618.0h0M492.5 1460.5h0M544.7 1635.7h0M327.8 1461.9h0M274.9 1519.5h0M338.2 1323.8h0M488.8 1469.2h0M257.9 1593.3h0M566.5 1593.0h0M501.0 1656.3h0M355.0 1344.7h0M337.8 1344.0h0M483.4 1540.6h0M501.7 1612.2h0M507.1 1474.1h0M271.1 1499.5h0M471.6 1651.4h0M345.4 1298.5h0M354.0 1323.6h0M338.4 1335.9h0M354.7 1343.3h0M344.3 1299.2h0M504.0 1610.6h0M569.6 1597.0h0M557.2 1624.6h0M275.5 1536.6h0M471.1 1648.1h0M490.6 1464.6h0M472.6 1651.8h0M517.3 1602.5h0M498.8 1614.6h0M275.2 1532.1h0M354.1 1336.3h0M488.2 1551.7h0M493.3 1462.3h0M329.5 1462.1h0M353.7 1431.0h0M335.6 1463.9h0M271.8 1501.1h0M512.6 1605.4h0M491.1 1464.4h0M323.0 1411.0h0M276.7 1551.6h0M341.8 1303.5h0M472.5 1650.6h0M485.5 1479.7h0M492.9 1619.8h0M513.1 1533.0h0M493.2 1462.9h0M472.5 1646.0h0M517.4 1602.7h0M499.2 1656.1h0M472.1 1648.3h0M474.0 1651.9h0M265.2 1522.6h0M480.5 1505.3h0M354.5 1345.7h0M477.3 1653.9h0M561.3 1619.5h0M327.7 1458.8h0M494.4 1557.5h0M354.3 1345.1h0M350.5 1304.5h0M513.9 1498.9h0M507.3 1475.7h0M481.2 1527.5h0M340.9 1459.9h0M544.2 1635.1h0M354.9 1349.6h0M348.9 1445.4h0M353.3 1319.7h0M344.0 1300.8h0M267.4 1507.4h0M324.6 1444.8h0M323.5 1435.2h0M505.9 1654.3h0M262.8 1545.0h0M473.1 1647.5h0M480.5 1510.1h0M329.3 1459.9h0M493.2 1556.3h0M323.4 1432.8h0M492.5 1464.9h0M551.9 1591.8h0M330.1 1460.5h0M276.5 1555.0h0M332.2 1363.5h0M353.5 1326.7h0M514.4 1509.1h0M475.0 1642.9h0M337.6 1349.6h0M325.3 1393.2h0M347.4 1300.7h0M334.9 1356.6h0M523.4 1600.2h0M265.3 1523.0h0M339.4 1315.5h0M265.8 1517.9h0M353.4 1330.8h0M550.9 1629.4h0M551.5 1628.8h0M348.6 1302.1h0M526.3 1599.0h0M478.5 1653.1h0M335.4 1461.8h0M475.9 1642.0h0M339.7 1313.9h0M500.2 1556.6h0M495.0 1466.0h0M339.8 1313.7h0M346.5 1449.8h0M504.3 1553.4h0M323.4 1418.4h0M338.9 1345.8h0M513.7 1525.0h0M481.6 1499.3h0M345.2 1452.2h0M323.4 1422.2h0M554.1 1592.2h0M353.0 1430.6h0M344.0 1302.0h0M352.4 1314.5h0M323.5 1422.1h0M271.3 1502.3h0" stroke="#471b6d" stroke-width="4.2" stroke-linecap="round" fill="none"/><path d="M266.7 1512.3h0M353.2 1330.9h0M265.2 1529.7h0M336.2 1460.8h0M568.0 1602.6h0M499.2 1468.9h0M347.3 1447.2h0M259.9 1571.3h0M482.5 1531.6h0M497.7 1468.2h0M489.5 1473.0h0M327.7 1454.2h0M479.0 1638.0h0M490.0 1624.1h0M332.3 1460.0h0M327.4 1453.1h0M275.5 1609.0h0M347.1 1301.9h0M262.6 1558.1h0M352.4 1316.2h0M352.8 1336.6h0M531.2 1597.5h0M327.3 1384.7h0M339.7 1317.1h0M512.7 1529.7h0M543.6 1634.5h0M353.4 1348.2h0M325.6 1444.2h0M262.7 1557.8h0M341.0 1457.0h0M563.9 1595.5h0M330.6 1458.1h0M277.0 1602.0h0M353.6 1349.5h0M351.5 1311.4h0M331.5 1458.7h0M476.3 1644.0h0M559.6 1619.4h0M274.2 1520.7h0M339.9 1339.9h0M476.2 1644.5h0M347.1 1302.5h0M498.5 1616.8h0M339.9 1316.9h0M476.5 1649.1h0M324.6 1405.5h0M352.9 1345.8h0M504.9 1653.4h0M499.7 1615.8h0M339.0 1458.3h0M481.3 1518.5h0M262.7 1555.5h0M496.5 1468.6h0M349.6 1306.0h0M274.4 1528.2h0M269.6 1503.6h0M324.7 1435.3h0M352.5 1340.1h0M504.2 1551.9h0M501.7 1554.3h0M325.8 1395.4h0M564.5 1611.5h0M565.8 1608.7h0M270.5 1503.2h0M339.6 1326.9h0M339.6 1325.2h0M325.9 1444.0h0M274.0 1519.5h0M337.3 1458.9h0M499.7 1654.3h0M478.7 1640.0h0M330.4 1456.7h0M497.0 1654.6h0M479.8 1638.1h0M340.2 1316.0h0M506.5 1477.6h0M265.5 1530.1h0M487.0 1480.5h0M330.2 1456.0h0M516.8 1649.1h0M271.0 1504.0h0M344.1 1451.5h0M516.8 1604.8h0M482.7 1530.0h0M561.4 1616.2h0M341.6 1455.0h0M561.8 1595.3h0M337.1 1458.4h0M352.5 1330.1h0M346.1 1303.1h0M505.1 1475.7h0M513.0 1607.0h0M339.4 1349.3h0M342.2 1307.6h0M340.3 1343.6h0M328.8 1453.1h0M483.5 1633.1h0M477.3 1644.2h0M263.6 1543.8h0M512.2 1530.0h0M517.3 1648.8h0M351.1 1434.0h0M326.0 1442.6h0M352.5 1428.5h0M342.6 1307.1h0M499.5 1616.6h0M352.0 1339.3h0M330.2 1455.0h0M345.1 1303.8h0M340.4 1315.9h0M564.1 1597.8h0M352.3 1324.6h0M324.5 1418.1h0M345.8 1447.5h0M494.5 1469.9h0M269.8 1504.7h0M348.5 1305.5h0M277.4 1574.5h0M340.1 1320.4h0M343.6 1305.5h0M486.8 1543.8h0M347.3 1304.3h0M325.4 1402.6h0M272.4 1509.4h0M513.0 1503.8h0M330.8 1455.3h0M272.4 1509.4h0M351.1 1313.2h0M354.2 1357.2h0M490.4 1474.5h0M263.0 1552.8h0M330.3 1454.3h0M483.2 1530.9h0M346.2 1304.1h0M494.2 1654.0h0M265.0 1536.0h0M565.3 1606.4h0M518.4 1648.0h0M353.0 1425.1h0M496.6 1619.3h0M326.3 1396.2h0M551.1 1627.1h0M327.2 1390.3h0M519.6 1603.8h0M486.8 1653.1h0" stroke="#482475" stroke-width="4.2" stroke-linecap="round" fill="none"/><path d="M530.2 1599.0h0M509.6 1486.8h0M351.5 1339.4h0M265.9 1526.3h0M532.5 1598.2h0M351.6 1338.7h0M484.3 1652.1h0M345.6 1304.6h0M478.5 1645.8h0M332.0 1455.5h0M344.4 1305.4h0M350.9 1313.5h0M341.1 1344.5h0M339.4 1455.3h0M497.4 1554.0h0M334.6 1456.6h0M339.2 1352.7h0M487.5 1629.2h0M268.9 1507.5h0M272.3 1510.1h0M277.9 1593.3h0M272.7 1512.2h0M479.3 1642.4h0M259.4 1576.9h0M482.9 1527.6h0M496.9 1653.4h0M549.7 1627.9h0M483.3 1529.6h0M340.4 1327.8h0M505.0 1477.2h0M258.7 1587.9h0M351.1 1342.1h0M479.0 1645.8h0M351.4 1347.3h0M348.8 1307.5h0M266.2 1523.3h0M347.2 1442.9h0M341.2 1345.2h0M494.4 1621.9h0M552.2 1594.6h0M511.3 1494.5h0M347.4 1305.7h0M494.9 1621.5h0M327.8 1445.9h0M336.1 1456.1h0M502.1 1551.8h0M541.5 1596.0h0M271.9 1508.9h0M353.6 1420.4h0M552.3 1625.2h0M487.1 1652.4h0M275.7 1552.9h0M354.9 1363.6h0M351.6 1322.6h0M489.7 1627.0h0M345.5 1305.6h0M351.4 1319.3h0M342.6 1309.7h0M550.1 1627.2h0M514.2 1649.0h0M331.8 1453.7h0M273.6 1521.1h0M342.4 1310.3h0M558.5 1617.9h0M485.9 1486.5h0M559.9 1596.8h0M494.1 1552.2h0M326.4 1399.5h0M484.8 1490.7h0M528.0 1642.7h0M482.0 1649.4h0M549.0 1628.0h0M350.3 1433.1h0M511.9 1499.6h0M507.4 1543.5h0M556.6 1595.7h0M325.9 1405.2h0M269.7 1507.3h0M341.9 1343.9h0M496.9 1472.2h0M325.5 1427.3h0M534.1 1639.1h0M264.4 1541.3h0M330.1 1450.6h0M334.1 1454.8h0M350.5 1345.6h0M352.5 1355.4h0M350.4 1345.5h0M275.2 1607.0h0M480.5 1646.7h0M512.2 1523.7h0M491.2 1625.9h0M332.5 1453.6h0M487.2 1542.2h0M498.3 1472.8h0M547.3 1595.5h0M499.7 1473.4h0M497.7 1619.5h0M330.9 1376.2h0M344.9 1446.2h0M340.9 1328.5h0M267.6 1514.4h0M275.6 1604.8h0M511.0 1530.9h0M529.0 1641.9h0M481.6 1639.9h0M261.7 1568.8h0M494.5 1652.7h0M492.9 1473.8h0M341.2 1318.2h0M326.0 1405.9h0M483.5 1649.8h0M273.4 1521.8h0M337.7 1454.2h0M343.2 1309.4h0M337.2 1359.4h0M486.5 1540.3h0M350.9 1334.4h0M484.9 1634.2h0M329.2 1447.6h0M481.9 1648.2h0M486.7 1651.3h0M274.8 1542.6h0M326.0 1406.3h0M326.4 1402.4h0M559.8 1597.7h0M559.9 1614.9h0M273.5 1522.8h0M342.4 1344.2h0M486.9 1631.5h0M331.3 1375.7h0M341.1 1329.3h0M325.6 1422.0h0M536.6 1597.9h0M501.7 1651.9h0M351.1 1329.3h0M510.0 1534.8h0M341.6 1350.1h0M501.1 1474.7h0M557.5 1596.7h0M266.4 1526.0h0M350.0 1345.8h0M332.4 1452.5h0M545.9 1630.1h0M333.6 1368.6h0M490.6 1477.4h0M562.8 1608.3h0M327.7 1441.7h0M349.1 1435.4h0M342.0 1349.1h0M501.4 1475.1h0M563.1 1603.6h0M338.5 1357.6h0M341.8 1335.1h0M491.9 1625.8h0M325.9 1410.8h0M327.4 1440.0h0M350.2 1431.6h0M509.5 1536.2h0M351.0 1329.0h0" stroke="#462c7a" stroke-width="4.2" stroke-linecap="round" fill="none"/><path d="M349.6 1312.6h0M331.6 1375.3h0M508.1 1650.2h0M342.7 1345.9h0M335.3 1453.6h0M519.1 1646.3h0M267.5 1515.7h0M277.5 1593.1h0M336.5 1362.0h0M271.9 1512.2h0M499.3 1618.7h0M497.8 1652.0h0M268.6 1511.5h0M328.2 1390.9h0M273.5 1527.3h0M326.1 1427.8h0M273.4 1523.8h0M268.3 1512.6h0M500.8 1651.7h0M510.3 1610.7h0M331.6 1450.6h0M510.3 1493.6h0M552.4 1596.2h0M350.1 1315.5h0M272.9 1518.9h0M345.7 1443.3h0M499.7 1618.5h0M488.3 1630.4h0M273.3 1524.6h0M518.9 1605.7h0M326.6 1404.0h0M489.4 1545.4h0M342.0 1449.2h0M542.2 1597.0h0M355.0 1406.2h0M532.1 1599.8h0M486.7 1632.7h0M341.7 1331.3h0M502.7 1549.2h0M350.0 1336.4h0M536.5 1598.5h0M336.4 1362.9h0M482.5 1646.3h0M533.1 1599.6h0M346.9 1308.8h0M331.1 1378.0h0M272.2 1514.5h0M343.8 1310.5h0M350.4 1331.9h0M265.4 1538.3h0M273.5 1533.0h0M343.4 1347.5h0M562.2 1604.8h0M517.3 1606.7h0M332.4 1450.6h0M535.9 1636.9h0M557.8 1598.1h0M340.0 1450.6h0M259.7 1592.9h0M341.9 1318.2h0M505.4 1545.2h0M327.1 1401.0h0M353.4 1363.9h0M484.0 1498.7h0M267.9 1515.5h0M349.8 1352.8h0M259.4 1589.4h0M490.6 1628.2h0M350.5 1325.4h0M511.2 1500.7h0M496.3 1651.4h0M512.0 1513.1h0M344.1 1345.8h0M329.3 1444.0h0M328.5 1441.4h0M548.9 1626.6h0M350.3 1330.6h0M342.6 1315.1h0M348.4 1343.3h0M337.1 1362.3h0M352.7 1418.9h0M276.4 1598.3h0M344.0 1348.0h0M343.2 1312.9h0M344.2 1344.8h0M326.3 1419.9h0M491.4 1547.4h0M326.4 1424.2h0M329.0 1389.2h0M532.7 1600.1h0M492.6 1651.0h0M270.4 1510.9h0M335.9 1451.7h0M348.0 1343.9h0M337.0 1362.8h0M335.4 1366.3h0M344.4 1343.6h0M344.6 1344.5h0M504.4 1479.9h0M269.8 1511.1h0M560.8 1610.0h0M343.9 1340.5h0M345.9 1309.8h0M343.9 1340.5h0M348.3 1435.0h0M483.1 1642.8h0M349.4 1353.3h0M277.6 1588.1h0M333.4 1450.3h0M490.6 1650.4h0M260.0 1594.1h0M349.0 1432.7h0M510.7 1611.1h0M502.5 1548.2h0M521.8 1644.3h0M483.4 1642.0h0M265.6 1538.4h0M490.9 1479.2h0M484.8 1647.3h0M343.5 1338.0h0M483.4 1519.0h0M490.8 1650.4h0M265.3 1540.1h0M348.2 1340.3h0M348.4 1434.2h0M353.7 1367.2h0M549.0 1597.1h0M346.9 1310.6h0M505.1 1650.0h0M348.7 1338.2h0M330.1 1384.7h0M267.1 1523.2h0M345.9 1345.1h0M339.0 1359.6h0M269.6 1512.0h0M485.3 1636.9h0M487.2 1538.8h0M351.6 1422.4h0M270.6 1511.8h0M345.3 1348.9h0M335.9 1365.9h0M335.1 1367.8h0M532.2 1600.6h0M344.8 1341.4h0M326.9 1427.8h0M346.9 1342.7h0M347.7 1351.2h0M489.1 1543.0h0M487.2 1633.8h0M352.6 1417.3h0" stroke="#44347e" stroke-width="4.2" stroke-linecap="round" fill="none"/><path d="M352.7 1363.8h0M350.0 1324.7h0M346.8 1350.1h0M349.0 1315.2h0M560.5 1603.0h0M344.0 1338.4h0M343.1 1334.5h0M488.4 1632.2h0M559.3 1601.0h0M345.9 1349.9h0M268.7 1514.3h0M335.6 1450.5h0M346.0 1342.2h0M345.7 1342.0h0M532.2 1638.5h0M337.7 1450.3h0M342.3 1446.4h0M334.8 1369.1h0M490.0 1481.3h0M503.7 1546.3h0M483.4 1512.4h0M327.5 1402.9h0M489.0 1483.3h0M333.4 1449.2h0M349.4 1332.4h0M546.8 1627.8h0M349.4 1355.4h0M510.3 1497.4h0M337.8 1450.1h0M260.9 1599.0h0M495.8 1475.8h0M328.5 1394.8h0M528.7 1602.1h0M560.3 1603.4h0M351.7 1361.5h0M267.6 1519.7h0M510.7 1526.0h0M271.2 1513.8h0M271.3 1514.1h0M488.8 1649.1h0M500.1 1619.6h0M483.6 1518.5h0M343.2 1353.9h0M558.7 1613.0h0M268.6 1515.1h0M347.2 1312.0h0M346.6 1340.7h0M348.3 1313.9h0M535.5 1636.3h0M524.5 1642.6h0M554.1 1620.1h0M350.0 1357.3h0M489.9 1630.4h0M553.2 1621.1h0M484.3 1525.1h0M333.4 1373.6h0M349.7 1323.3h0M508.8 1491.4h0M560.4 1605.1h0M346.2 1339.9h0M261.2 1600.1h0M483.5 1513.7h0M267.4 1614.4h0M536.9 1599.5h0M344.0 1336.1h0M560.4 1606.4h0M511.4 1510.3h0M353.5 1410.2h0M354.0 1372.2h0M273.0 1533.9h0M336.3 1366.2h0M485.9 1646.6h0M330.9 1383.0h0M499.3 1620.5h0M346.5 1339.4h0M484.9 1645.0h0M347.0 1312.5h0M274.7 1557.8h0M510.8 1648.0h0M340.6 1358.4h0M343.0 1317.9h0M489.6 1649.0h0M493.6 1477.4h0M347.1 1338.5h0M547.0 1597.9h0M343.1 1355.2h0M538.5 1599.2h0M269.6 1513.7h0M331.2 1444.8h0M345.2 1353.3h0M351.0 1422.9h0M342.8 1327.6h0M349.1 1331.0h0M347.7 1313.8h0M349.2 1429.7h0M501.9 1618.4h0M344.8 1337.0h0M560.0 1605.6h0M343.0 1319.5h0M272.8 1531.5h0M338.9 1361.7h0M349.4 1326.9h0M493.5 1547.7h0M267.9 1519.4h0M548.6 1625.5h0M489.7 1631.4h0M349.2 1320.1h0M505.1 1649.1h0M486.3 1646.2h0M349.2 1320.3h0M343.9 1333.5h0M545.6 1628.2h0M349.2 1429.2h0M486.3 1492.0h0M266.9 1533.4h0M348.9 1318.6h0M272.8 1532.7h0M267.3 1527.4h0M510.4 1525.6h0M334.6 1371.4h0M540.5 1599.0h0M348.3 1333.5h0M493.9 1477.8h0M504.2 1649.2h0M335.7 1368.6h0M340.0 1360.4h0M487.0 1536.2h0M514.9 1646.3h0M538.5 1633.7h0M523.5 1642.6h0M265.6 1540.7h0M546.4 1598.4h0M485.9 1644.8h0M274.3 1566.6h0M334.4 1447.8h0M485.7 1639.8h0M349.1 1322.5h0M510.3 1612.4h0M260.4 1594.3h0M540.7 1632.0h0M343.1 1326.7h0M353.5 1372.4h0M348.9 1320.9h0M524.4 1642.1h0M354.7 1389.0h0M327.4 1422.8h0M274.7 1553.6h0M348.0 1356.5h0M509.4 1647.8h0M518.0 1644.9h0M488.2 1539.0h0M510.6 1522.4h0M491.8 1648.8h0M346.3 1335.8h0M485.9 1640.1h0M273.6 1608.8h0M332.6 1378.3h0M354.6 1386.5h0M354.1 1400.3h0M558.7 1603.8h0M549.6 1598.7h0M508.4 1613.9h0M327.8 1427.0h0M493.1 1546.6h0M505.5 1616.0h0M330.3 1388.4h0M274.2 1566.5h0M348.7 1320.6h0M336.2 1368.3h0M346.4 1335.3h0" stroke="#433c82" stroke-width="4.2" stroke-linecap="round" fill="none"/><path d="M559.1 1606.6h0M506.5 1486.6h0M344.2 1331.9h0M348.6 1320.3h0M509.0 1647.8h0M486.0 1640.5h0M349.2 1359.1h0M511.7 1611.8h0M327.5 1419.0h0M484.7 1502.1h0M514.8 1609.9h0M494.3 1547.4h0M348.4 1319.1h0M545.0 1628.2h0M347.1 1315.5h0M512.0 1646.9h0M496.1 1548.1h0M507.9 1614.5h0M504.8 1542.6h0M546.2 1627.0h0M270.7 1515.9h0M484.2 1508.5h0M525.2 1604.5h0M487.5 1645.7h0M329.2 1435.4h0M516.1 1645.4h0M501.5 1479.4h0M348.6 1323.6h0M345.9 1437.0h0M538.9 1632.9h0M530.4 1638.5h0M558.6 1605.6h0M553.3 1599.9h0M343.9 1328.2h0M260.2 1580.5h0M484.9 1501.3h0M521.0 1643.2h0M330.9 1440.9h0M349.8 1361.4h0M276.9 1589.8h0M344.7 1317.3h0M494.8 1626.2h0M274.6 1552.9h0M491.4 1647.9h0M353.9 1379.2h0M558.2 1604.8h0M496.1 1547.7h0M557.6 1603.4h0M521.3 1606.5h0M348.1 1320.2h0M522.6 1605.9h0M267.4 1532.4h0M343.8 1322.7h0M498.2 1478.0h0M546.2 1626.8h0M513.9 1610.7h0M329.6 1436.2h0M344.6 1317.8h0M264.6 1611.0h0M327.8 1415.6h0M354.1 1394.5h0M352.5 1370.4h0M351.6 1366.7h0M540.7 1631.3h0M500.0 1547.1h0M509.1 1613.9h0M348.0 1320.5h0M515.0 1645.5h0M349.8 1362.0h0M265.2 1543.9h0M496.5 1547.6h0M526.2 1604.4h0M260.4 1579.7h0M346.7 1331.8h0M344.8 1318.2h0M555.5 1601.5h0M347.8 1320.0h0M542.8 1599.6h0M554.0 1617.8h0M347.6 1329.4h0M266.3 1539.0h0M348.0 1321.2h0M343.7 1358.6h0M354.1 1389.6h0M345.5 1317.4h0M267.7 1528.8h0M353.9 1381.7h0M353.7 1399.2h0M348.1 1323.7h0M338.7 1364.9h0M502.5 1619.1h0M484.4 1511.9h0M347.5 1319.5h0M352.8 1372.9h0M346.8 1330.6h0M534.6 1635.5h0M507.2 1536.1h0M506.9 1647.7h0M267.7 1530.0h0M264.5 1555.2h0M487.4 1639.3h0M329.3 1397.9h0M267.5 1613.6h0M344.5 1327.1h0M274.0 1559.8h0M345.3 1329.9h0M270.6 1517.7h0M345.3 1318.5h0M332.8 1380.0h0M344.8 1320.0h0M490.9 1632.0h0M344.7 1327.7h0M487.3 1641.8h0M274.4 1555.2h0M550.0 1599.8h0M508.9 1496.6h0M491.3 1482.8h0M345.3 1319.0h0M487.6 1642.8h0M344.5 1323.3h0M261.5 1598.6h0M496.1 1625.6h0M345.7 1329.5h0M328.8 1429.1h0M504.8 1647.9h0M353.8 1384.6h0M489.9 1540.7h0M492.1 1481.8h0M507.2 1615.7h0M345.0 1359.2h0M265.4 1544.1h0M350.6 1419.3h0M346.6 1328.4h0M484.6 1510.3h0M273.2 1540.8h0M344.8 1323.0h0M274.3 1548.8h0M509.0 1497.5h0M508.6 1495.7h0" stroke="#414487" stroke-width="4.2" stroke-linecap="round" fill="none"/><path d="M488.6 1488.5h0M347.3 1324.1h0M509.3 1646.8h0M328.3 1419.5h0M346.0 1320.1h0M516.9 1609.5h0M353.7 1393.1h0M492.4 1630.4h0M345.1 1322.9h0M498.4 1546.7h0M508.4 1495.0h0M347.1 1323.4h0M543.9 1600.0h0M524.8 1605.5h0M347.0 1325.2h0M330.8 1437.8h0M348.9 1362.7h0M346.6 1326.7h0M511.2 1646.2h0M510.0 1505.0h0M537.0 1601.2h0M270.1 1518.5h0M504.8 1540.7h0M346.6 1322.1h0M488.1 1536.0h0M342.1 1361.5h0M271.2 1521.1h0M346.5 1322.0h0M264.9 1562.3h0M345.6 1322.2h0M346.4 1325.7h0M345.7 1325.7h0M351.0 1367.8h0M506.5 1489.1h0M330.6 1436.6h0M488.3 1536.3h0M345.8 1360.1h0M345.8 1324.8h0M347.2 1430.8h0M276.3 1592.7h0M335.4 1373.3h0M338.4 1444.5h0M344.4 1360.3h0M274.1 1556.5h0M528.5 1638.7h0M529.7 1638.0h0M269.7 1519.1h0M487.4 1533.4h0M504.8 1647.5h0M335.7 1444.3h0M490.9 1633.2h0M510.5 1646.2h0M263.4 1569.1h0M506.4 1647.2h0M267.5 1535.3h0M270.3 1519.3h0M526.1 1639.9h0M271.6 1525.5h0M506.1 1537.6h0M492.8 1646.7h0M339.1 1366.0h0M345.1 1435.8h0M329.7 1397.8h0M331.9 1385.7h0M267.3 1536.3h0M488.8 1638.4h0M329.0 1426.6h0M336.4 1444.2h0M328.9 1424.7h0M514.1 1645.0h0M347.8 1428.5h0M555.6 1604.1h0M345.9 1360.8h0M337.4 1369.4h0M330.2 1433.7h0M500.1 1647.7h0M273.7 1560.3h0M270.0 1519.8h0M489.3 1637.0h0M338.0 1444.0h0M340.0 1442.8h0M548.4 1623.2h0M502.8 1543.0h0M330.2 1395.2h0M498.2 1624.2h0M521.4 1607.5h0M273.5 1566.1h0M493.5 1646.6h0M348.8 1364.1h0M343.6 1361.7h0M271.3 1524.7h0M264.8 1553.4h0M485.2 1506.2h0M343.5 1361.8h0M507.1 1616.5h0M352.7 1402.4h0M506.0 1537.2h0M353.3 1390.7h0M501.9 1620.8h0M554.8 1603.8h0M488.9 1640.3h0M343.5 1438.0h0M269.0 1522.9h0M268.2 1532.8h0M350.2 1418.5h0M490.3 1644.2h0M504.4 1485.6h0M330.0 1431.5h0M501.9 1647.3h0M497.1 1480.1h0M537.8 1601.6h0M527.8 1604.8h0M545.4 1600.7h0M337.2 1370.5h0M507.7 1494.2h0M332.6 1384.2h0M352.9 1398.6h0M505.2 1618.1h0M551.6 1619.0h0M328.9 1411.7h0M333.2 1382.0h0M496.2 1545.5h0M331.2 1390.7h0M269.5 1521.8h0M502.1 1543.3h0M328.9 1417.6h0M342.6 1363.0h0M494.1 1544.3h0M271.3 1611.4h0M329.0 1409.7h0M497.1 1545.5h0M328.9 1415.0h0M498.3 1624.6h0M271.3 1529.5h0M490.7 1635.1h0M335.1 1376.1h0M336.5 1372.5h0M507.5 1494.0h0M352.8 1399.4h0M551.9 1602.1h0M553.8 1615.1h0M268.6 1530.1h0M511.1 1613.9h0M505.4 1646.7h0M269.2 1523.4h0M491.2 1644.4h0" stroke="#3e4b88" stroke-width="4.2" stroke-linecap="round" fill="none"/><path d="M346.4 1431.1h0M487.5 1494.2h0M506.9 1533.8h0M510.0 1614.7h0M330.7 1394.7h0M330.9 1393.6h0M350.7 1415.0h0M270.2 1522.4h0M329.1 1418.8h0M504.0 1540.4h0M494.1 1481.8h0M344.4 1435.3h0M335.3 1442.0h0M336.6 1442.5h0M271.1 1530.6h0M497.6 1646.7h0M507.5 1494.7h0M270.9 1527.1h0M329.8 1427.1h0M492.9 1483.1h0M334.4 1378.9h0M265.0 1565.5h0M273.7 1569.0h0M335.8 1442.0h0M519.4 1642.3h0M348.8 1422.8h0M532.8 1635.2h0M487.9 1533.0h0M271.1 1531.8h0M269.0 1528.6h0M485.6 1505.3h0M271.2 1532.8h0M485.7 1521.4h0M263.8 1607.2h0M496.2 1481.1h0M501.8 1483.0h0M508.4 1527.3h0M498.6 1624.7h0M350.7 1414.1h0M261.1 1593.5h0M491.9 1541.4h0M512.3 1644.8h0M273.6 1546.7h0M505.1 1488.0h0M273.8 1555.9h0M337.3 1442.0h0M270.4 1524.5h0M270.0 1524.0h0M273.1 1562.5h0M262.8 1602.5h0M528.5 1605.0h0M495.7 1544.5h0M271.8 1537.3h0M341.1 1439.8h0M543.7 1626.8h0M341.0 1365.9h0M272.4 1609.4h0M264.7 1609.4h0M554.9 1606.8h0M552.7 1603.5h0M269.5 1526.3h0M330.7 1396.1h0M270.3 1525.6h0M350.4 1414.9h0M332.4 1437.1h0M553.0 1603.9h0M500.4 1646.5h0M331.4 1434.2h0M544.4 1626.0h0M490.8 1637.1h0M509.2 1520.4h0M546.0 1601.6h0M345.3 1364.0h0M346.5 1364.5h0M554.2 1612.5h0M509.3 1518.8h0M268.5 1534.7h0M330.5 1429.9h0M329.4 1412.3h0M331.3 1433.3h0M269.2 1531.9h0M270.2 1528.0h0M506.0 1490.7h0M509.0 1521.9h0M523.3 1607.5h0M269.7 1528.5h0M486.0 1521.6h0M498.2 1481.6h0M352.5 1395.5h0M270.0 1528.4h0M490.8 1641.1h0M333.6 1438.6h0M339.7 1440.4h0M270.5 1531.5h0M489.0 1535.0h0M274.4 1601.0h0M344.8 1364.2h0M270.7 1533.1h0M501.0 1483.0h0M269.1 1533.0h0M270.7 1533.5h0M511.6 1644.6h0M499.1 1481.9h0M344.3 1364.4h0M509.3 1516.6h0M496.9 1627.2h0M350.1 1371.0h0M350.7 1411.8h0M492.7 1633.4h0M534.5 1603.4h0M260.8 1589.3h0M269.6 1531.3h0M270.2 1531.3h0M352.1 1382.8h0M331.8 1391.0h0M507.5 1529.7h0M546.3 1623.8h0M508.4 1525.3h0M329.9 1405.8h0M330.2 1402.9h0M487.9 1494.7h0M508.6 1501.9h0M352.4 1394.2h0M508.9 1616.3h0M507.6 1529.2h0M352.0 1400.3h0M273.0 1544.0h0M497.6 1645.8h0M494.7 1543.2h0M265.3 1555.6h0M535.7 1632.7h0M338.1 1371.4h0M535.1 1603.3h0M509.3 1513.8h0M506.0 1491.3h0M339.4 1369.2h0M494.2 1483.1h0" stroke="#3b528a" stroke-width="4.2" stroke-linecap="round" fill="none"/><path d="M337.2 1373.5h0M351.9 1401.6h0M485.8 1516.7h0M337.8 1372.2h0M551.1 1617.7h0M527.0 1638.1h0M491.6 1641.7h0M526.0 1638.6h0M498.6 1543.8h0M351.7 1380.1h0M488.3 1532.3h0M493.1 1484.3h0M495.1 1630.0h0M329.8 1410.4h0M486.1 1505.2h0M507.9 1527.3h0M553.2 1605.6h0M554.0 1610.4h0M272.8 1562.9h0M507.0 1495.0h0M501.6 1541.9h0M499.2 1482.5h0M345.0 1431.6h0M340.5 1368.1h0M352.1 1385.0h0M504.4 1645.7h0M507.5 1617.6h0M268.3 1537.0h0M270.6 1535.0h0M335.0 1439.1h0M352.2 1388.9h0M502.6 1621.8h0M350.0 1414.4h0M269.1 1534.9h0M524.0 1639.4h0M489.7 1490.2h0M329.9 1411.3h0M337.1 1440.0h0M553.1 1606.0h0M329.9 1410.9h0M534.3 1633.4h0M332.9 1387.5h0M342.6 1435.9h0M273.5 1548.3h0M511.0 1644.4h0M334.3 1382.0h0M329.9 1414.5h0M504.7 1488.9h0M486.5 1502.7h0M331.3 1396.0h0M271.5 1610.3h0M492.9 1634.3h0M546.6 1622.9h0M352.1 1394.0h0M520.4 1641.0h0M349.7 1415.3h0M505.8 1534.5h0M338.9 1370.9h0M551.6 1604.6h0M330.0 1419.2h0M346.8 1426.5h0M271.5 1538.4h0M487.8 1496.3h0M260.9 1584.2h0M553.6 1610.4h0M265.6 1547.9h0M349.9 1372.8h0M331.0 1428.0h0M330.4 1424.1h0M525.0 1638.8h0M351.8 1399.3h0M504.4 1488.5h0M491.4 1538.8h0M493.5 1643.0h0M504.5 1488.9h0M498.8 1625.9h0M260.9 1587.5h0M350.5 1375.5h0M499.3 1483.0h0M495.4 1483.1h0M273.0 1559.8h0M351.8 1397.2h0M262.4 1598.2h0M497.6 1543.3h0M271.6 1539.3h0M270.5 1611.2h0M537.4 1603.4h0M501.3 1623.4h0M344.0 1432.8h0M486.0 1513.7h0M351.9 1393.0h0M266.2 1544.7h0M496.7 1644.6h0M493.0 1540.7h0M507.2 1497.0h0M486.2 1508.1h0M331.1 1399.0h0M345.1 1430.2h0M336.4 1438.8h0M527.2 1637.4h0M350.6 1376.9h0M331.3 1428.7h0M553.2 1609.0h0M351.8 1395.1h0M486.1 1515.6h0M486.1 1515.2h0M501.7 1485.1h0M332.8 1389.6h0M486.4 1506.1h0M342.0 1367.8h0M334.1 1436.6h0M490.6 1536.9h0M502.1 1540.5h0M503.4 1487.4h0M351.8 1389.9h0M553.1 1610.0h0M509.1 1616.9h0M273.6 1570.9h0M542.4 1602.9h0M347.0 1368.1h0M544.9 1603.0h0M332.1 1431.6h0M351.5 1398.8h0M338.7 1438.5h0M261.0 1586.3h0M345.2 1367.1h0M338.7 1438.4h0M514.1 1613.5h0M262.5 1598.7h0M351.7 1392.4h0M333.7 1385.8h0M552.3 1613.3h0M532.9 1633.8h0M351.3 1401.0h0M345.6 1428.5h0M342.6 1367.9h0M351.7 1388.9h0M518.4 1641.4h0M331.6 1397.0h0M511.5 1615.3h0M522.0 1609.1h0M486.2 1515.9h0M343.2 1367.6h0M336.2 1378.2h0M549.6 1604.3h0" stroke="#38588c" stroke-width="4.2" stroke-linecap="round" fill="none"/><path d="M487.1 1524.6h0M550.3 1617.1h0M498.6 1483.5h0M349.6 1413.7h0M537.8 1603.6h0M340.1 1437.2h0M515.6 1642.4h0M534.8 1604.3h0M343.8 1367.6h0M275.6 1591.7h0M345.0 1429.5h0M332.7 1432.6h0M551.2 1605.8h0M494.5 1642.5h0M350.5 1378.2h0M502.9 1644.9h0M499.1 1644.6h0M342.4 1434.3h0M508.3 1504.6h0M347.6 1369.9h0M268.6 1611.7h0M336.9 1437.8h0M528.9 1606.3h0M337.1 1437.9h0M331.9 1429.2h0M512.3 1614.9h0M486.6 1506.7h0M341.5 1435.5h0M502.1 1623.2h0M540.2 1603.4h0M548.2 1619.9h0M272.6 1568.1h0M333.1 1433.2h0M486.4 1516.6h0M332.2 1430.4h0M545.0 1623.6h0M342.6 1433.9h0M346.8 1369.2h0M507.1 1498.1h0M495.4 1541.8h0M334.9 1436.1h0M331.6 1427.3h0M351.5 1394.2h0M498.7 1644.3h0M270.4 1537.7h0M552.1 1612.1h0M486.6 1519.2h0M545.8 1603.6h0M546.5 1621.8h0M544.6 1623.9h0M345.1 1368.2h0M493.2 1540.0h0M275.0 1577.2h0M507.6 1500.6h0M273.0 1557.5h0M551.8 1613.0h0M343.8 1431.5h0M538.1 1603.9h0M266.0 1558.3h0M542.7 1625.7h0M539.5 1603.7h0M271.6 1540.7h0M497.9 1628.1h0M549.9 1605.3h0M335.3 1436.2h0M486.8 1520.2h0M330.9 1406.7h0M264.8 1569.2h0M351.3 1395.5h0M345.5 1427.5h0M494.2 1641.1h0M350.8 1402.4h0M490.1 1491.6h0M546.5 1604.0h0M545.6 1603.8h0M351.1 1386.3h0M336.3 1436.6h0M494.8 1641.7h0M331.8 1398.7h0M539.6 1603.9h0M504.6 1621.3h0M332.1 1428.2h0M486.5 1513.0h0M551.1 1614.0h0M331.1 1421.5h0M274.4 1574.9h0M537.0 1604.3h0M330.9 1418.4h0M340.2 1435.8h0M349.4 1412.5h0M351.0 1386.2h0M350.7 1382.8h0M486.8 1507.5h0M534.6 1632.0h0M331.3 1403.1h0M502.2 1487.1h0M332.4 1395.2h0M531.2 1605.9h0M508.2 1506.9h0M502.5 1623.4h0M502.7 1538.2h0M494.9 1641.4h0M551.7 1611.4h0M502.8 1538.1h0M488.4 1528.7h0M494.0 1639.3h0M549.0 1605.3h0M272.8 1569.7h0M551.5 1611.9h0M331.9 1398.8h0M493.9 1637.3h0M342.7 1432.5h0M331.4 1402.6h0M515.8 1641.7h0M268.4 1539.6h0M527.5 1607.3h0M269.9 1538.3h0M344.8 1369.4h0M344.9 1428.2h0M501.4 1644.1h0M332.3 1396.0h0M493.5 1539.5h0M268.2 1540.2h0M273.0 1548.5h0M265.1 1568.9h0M495.2 1641.4h0M497.8 1629.0h0M535.9 1604.8h0M342.8 1432.0h0M548.3 1605.2h0" stroke="#355f8d" stroke-width="4.2" stroke-linecap="round" fill="none"/><path d="M348.8 1374.8h0M261.9 1578.8h0M522.1 1609.8h0M514.1 1642.2h0M338.3 1436.1h0M340.5 1372.1h0M537.2 1629.9h0M524.1 1638.1h0M487.5 1502.1h0M550.0 1606.5h0M544.9 1604.3h0M507.0 1499.8h0M495.8 1641.7h0M333.9 1432.5h0M340.8 1434.5h0M331.8 1401.1h0M526.0 1608.1h0M535.9 1604.9h0M515.9 1613.3h0M345.1 1427.2h0M498.3 1628.5h0M350.9 1395.3h0M541.4 1626.3h0M528.6 1635.6h0M549.4 1606.2h0M544.8 1604.4h0M535.3 1631.2h0M529.4 1606.8h0M267.2 1543.0h0M350.4 1383.6h0M486.8 1510.0h0M345.3 1370.3h0M506.5 1528.4h0M350.8 1389.6h0M486.9 1517.3h0M349.6 1378.5h0M334.0 1432.1h0M544.5 1604.4h0M343.3 1370.4h0M269.3 1539.1h0M331.3 1418.6h0M506.6 1498.5h0M537.7 1629.3h0M350.3 1403.3h0M263.8 1572.4h0M488.5 1528.0h0M331.2 1416.5h0M271.2 1540.9h0M521.2 1610.5h0M350.5 1400.6h0M523.1 1609.6h0M331.5 1406.0h0M550.7 1608.9h0M349.4 1409.7h0M349.8 1380.3h0M533.0 1605.8h0M350.2 1403.5h0M340.1 1434.5h0M533.3 1605.7h0M543.8 1604.5h0M332.5 1427.0h0M332.3 1425.9h0M337.6 1378.0h0M495.7 1640.7h0M272.9 1549.7h0M348.1 1416.4h0M339.2 1375.0h0M502.8 1623.8h0M550.7 1610.0h0M495.4 1634.7h0M272.9 1555.0h0M494.9 1637.9h0M496.5 1632.0h0M348.0 1374.7h0M346.3 1371.8h0M271.9 1543.5h0M491.8 1536.3h0M340.1 1434.1h0M503.7 1535.4h0M499.9 1540.0h0M331.7 1404.4h0M262.2 1594.2h0M527.6 1607.8h0M489.6 1531.1h0M488.1 1525.5h0M350.6 1394.9h0M331.5 1418.1h0M348.3 1414.8h0M345.2 1425.5h0M333.4 1392.9h0M344.3 1371.1h0M271.9 1561.0h0M496.4 1485.6h0M341.9 1431.9h0M350.5 1394.6h0M270.6 1540.4h0M509.8 1617.9h0M541.3 1604.7h0M266.9 1562.9h0M502.0 1488.2h0M337.8 1434.6h0M549.7 1608.0h0M505.0 1493.8h0M331.5 1413.8h0M509.5 1618.2h0M495.3 1637.3h0M262.4 1595.3h0M520.4 1639.2h0M496.2 1540.1h0M347.1 1373.7h0M503.4 1643.2h0M340.0 1433.5h0M337.6 1434.2h0M546.6 1605.8h0M331.6 1412.8h0M496.0 1634.2h0M538.1 1605.2h0M496.3 1640.2h0M346.8 1420.3h0M348.6 1412.4h0M507.9 1510.9h0M272.0 1560.1h0M507.2 1503.4h0M261.6 1582.7h0M487.9 1502.7h0M349.9 1403.0h0" stroke="#32658d" stroke-width="4.2" stroke-linecap="round" fill="none"/><path d="M332.8 1397.1h0M507.0 1502.2h0M348.7 1378.0h0M333.2 1427.4h0M331.7 1409.8h0M337.9 1434.0h0M333.1 1395.8h0M331.7 1416.7h0M500.1 1539.3h0M497.1 1632.1h0M348.1 1376.4h0M271.6 1543.2h0M267.0 1545.2h0M263.0 1575.2h0M340.6 1374.2h0M549.4 1608.6h0M521.4 1638.6h0M548.4 1607.3h0M349.9 1384.8h0M515.4 1614.3h0M496.9 1632.7h0M510.5 1617.7h0M348.6 1411.5h0M502.2 1642.8h0M507.1 1503.6h0M505.3 1622.1h0M341.6 1431.3h0M532.8 1632.2h0M501.5 1537.7h0M502.2 1536.8h0M506.9 1502.1h0M341.3 1373.8h0M538.3 1605.4h0M262.7 1576.6h0M505.7 1529.0h0M549.7 1610.9h0M334.6 1389.0h0M341.9 1430.8h0M535.6 1630.1h0M496.0 1636.1h0M545.4 1620.8h0M350.2 1392.7h0M511.2 1617.3h0M506.6 1525.2h0M511.4 1641.9h0M503.7 1642.8h0M498.2 1539.8h0M345.9 1422.2h0M489.5 1496.3h0M505.6 1529.4h0M350.1 1392.4h0M488.5 1525.6h0M523.1 1610.3h0M344.9 1372.9h0M333.3 1395.7h0M338.0 1379.2h0M525.4 1636.4h0M348.3 1411.9h0M334.0 1392.5h0M332.7 1423.2h0M338.1 1433.0h0M502.7 1490.2h0M540.9 1625.5h0M336.6 1432.5h0M338.1 1432.9h0M342.2 1429.8h0M502.7 1625.0h0M270.1 1541.0h0M348.9 1408.5h0M267.2 1565.1h0M346.9 1418.1h0M349.6 1385.5h0M507.6 1513.1h0M343.5 1373.1h0M546.2 1606.5h0M488.9 1527.0h0M503.7 1492.2h0M337.5 1432.7h0M530.4 1633.5h0M343.4 1373.2h0M268.8 1541.5h0M332.1 1409.7h0M333.9 1393.2h0M496.5 1635.9h0M517.6 1639.8h0M334.2 1391.9h0M347.7 1377.2h0M545.8 1606.5h0M545.9 1619.6h0M489.3 1528.1h0M348.6 1409.9h0M490.2 1531.0h0M349.0 1406.8h0M347.7 1414.5h0M497.0 1634.0h0M498.0 1631.8h0M500.1 1538.4h0M342.4 1374.0h0M332.2 1408.3h0M487.5 1512.6h0M521.0 1638.3h0M548.6 1609.4h0M517.3 1613.7h0M332.2 1414.8h0M347.6 1414.4h0M541.1 1605.7h0M538.7 1627.2h0M507.3 1642.2h0M510.7 1618.1h0M492.8 1536.0h0M503.6 1642.2h0M348.1 1411.9h0M271.0 1562.7h0M506.1 1500.0h0M497.0 1634.7h0M504.2 1623.8h0M507.4 1514.9h0M267.6 1563.6h0M507.4 1510.5h0M263.7 1599.8h0M487.6 1512.0h0" stroke="#306c8e" stroke-width="4.2" stroke-linecap="round" fill="none"/><path d="M275.3 1585.4h0M267.5 1565.0h0M501.1 1537.3h0M265.3 1606.7h0M267.4 1566.0h0M271.5 1544.6h0M497.0 1635.5h0M342.5 1428.2h0M266.9 1557.7h0M518.0 1613.4h0M501.6 1626.8h0M497.1 1637.6h0M513.7 1640.8h0M345.5 1421.5h0M335.4 1388.0h0M344.7 1423.7h0M544.9 1620.5h0M344.0 1374.2h0M333.5 1397.6h0M348.3 1410.1h0M333.2 1422.9h0M544.7 1620.6h0M540.9 1624.9h0M536.3 1606.4h0M340.4 1430.7h0M332.6 1405.8h0M501.1 1489.0h0M349.6 1396.1h0M270.8 1566.4h0M335.9 1430.2h0M270.5 1609.0h0M338.8 1431.4h0M333.8 1425.4h0M344.8 1374.7h0M514.0 1616.0h0M490.1 1496.0h0M262.9 1595.6h0M497.8 1633.5h0M267.1 1546.9h0M519.2 1612.9h0M497.6 1638.4h0M487.9 1508.6h0M503.1 1625.3h0M348.5 1407.8h0M491.4 1492.8h0M545.1 1619.9h0M340.5 1376.8h0M502.1 1626.5h0M334.0 1395.0h0M497.7 1634.0h0M519.9 1638.4h0M497.0 1538.6h0M275.2 1586.8h0M335.5 1429.2h0M546.9 1608.2h0M546.4 1617.9h0M337.0 1430.8h0M546.5 1608.0h0M270.7 1566.7h0M334.0 1395.4h0M343.5 1425.7h0M539.6 1606.3h0M539.4 1606.3h0M337.0 1383.8h0M543.1 1622.3h0M342.3 1375.3h0M336.3 1386.1h0M267.2 1546.5h0M349.1 1402.0h0M332.6 1412.4h0M268.0 1564.5h0M272.6 1602.6h0M332.7 1415.8h0M267.2 1558.3h0M530.8 1632.5h0M548.1 1612.1h0M490.1 1496.6h0M346.8 1377.8h0M507.1 1641.6h0M519.7 1612.8h0M349.4 1395.7h0M521.6 1611.8h0M530.3 1632.8h0M334.5 1393.5h0M335.8 1429.1h0M349.3 1390.1h0M264.5 1572.5h0M346.5 1377.5h0M507.1 1641.6h0M518.6 1613.4h0M275.1 1584.5h0M502.6 1626.3h0M539.1 1606.5h0M274.0 1595.9h0M348.7 1404.6h0M524.1 1636.3h0M275.0 1589.2h0M270.2 1565.1h0M493.7 1489.8h0M505.0 1497.3h0M346.2 1377.2h0M519.5 1613.0h0M546.4 1608.6h0M546.9 1609.1h0M337.5 1430.2h0M530.4 1632.6h0M497.6 1538.1h0M498.3 1638.2h0M514.3 1640.1h0M333.0 1417.4h0M546.9 1616.1h0M262.7 1594.0h0M336.2 1386.9h0M335.0 1426.9h0M270.3 1562.8h0M495.9 1537.7h0M500.7 1536.6h0M348.8 1403.0h0M332.8 1413.8h0M270.8 1608.1h0M506.0 1641.4h0M498.4 1638.0h0M500.9 1640.5h0M266.3 1608.2h0M541.9 1606.8h0M492.9 1491.1h0M509.7 1641.1h0M541.2 1606.8h0M332.8 1411.7h0M500.3 1536.8h0M341.1 1377.3h0M349.1 1391.1h0M506.5 1504.6h0M268.5 1563.7h0M491.8 1493.1h0M345.9 1377.4h0M498.8 1632.7h0M268.8 1543.2h0M499.8 1630.8h0M544.6 1607.7h0M503.1 1492.9h0" stroke="#2d728e" stroke-width="4.2" stroke-linecap="round" fill="none"/><path d="M501.3 1628.4h0M505.8 1500.8h0M496.1 1488.4h0M523.9 1611.0h0M538.7 1606.8h0M348.7 1387.0h0M348.6 1386.2h0M347.8 1382.3h0M501.8 1627.7h0M342.1 1427.0h0M339.5 1379.8h0M347.7 1410.1h0M515.9 1639.4h0M262.2 1581.7h0M267.2 1547.9h0M499.1 1632.5h0M498.4 1636.5h0M333.6 1401.2h0M534.4 1607.5h0M343.4 1424.4h0M268.2 1561.4h0M347.8 1409.2h0M340.4 1378.6h0M488.3 1517.5h0M493.6 1535.4h0M341.7 1377.3h0M545.2 1618.4h0M337.0 1385.7h0M547.2 1613.3h0M491.6 1493.9h0M348.5 1402.9h0M496.1 1537.3h0M333.1 1412.6h0M522.5 1611.8h0M504.7 1497.4h0M333.8 1400.3h0M537.7 1626.8h0M493.5 1535.1h0M493.0 1491.6h0M499.2 1638.0h0M547.0 1613.8h0M502.1 1491.8h0M268.7 1566.2h0M533.2 1607.9h0M506.0 1640.9h0M348.5 1387.6h0M493.1 1534.4h0M340.7 1378.7h0M503.6 1494.5h0M503.3 1493.9h0M341.6 1377.8h0M272.1 1552.0h0M529.6 1609.0h0M506.8 1512.0h0M506.5 1622.9h0M540.1 1624.4h0M342.7 1425.0h0M267.7 1558.9h0M272.0 1550.5h0M348.8 1395.4h0M493.4 1491.2h0M269.5 1609.0h0M343.6 1423.0h0M507.2 1640.8h0M333.5 1417.0h0M345.6 1417.8h0M339.3 1428.4h0M346.9 1412.4h0M517.5 1638.5h0M347.9 1384.9h0M333.3 1409.5h0M335.6 1391.5h0M336.5 1388.1h0M347.6 1408.1h0M335.6 1425.8h0M348.1 1404.4h0M489.0 1522.1h0M268.9 1561.6h0M266.6 1608.1h0M268.6 1561.2h0M333.7 1418.1h0M500.2 1638.6h0M347.3 1382.5h0M540.3 1607.5h0M532.7 1608.3h0M502.9 1493.6h0M336.7 1427.3h0M267.5 1557.5h0M274.0 1577.9h0M341.2 1426.6h0M348.1 1403.7h0M539.5 1607.5h0M544.9 1618.0h0M499.5 1633.4h0M347.2 1382.6h0M268.0 1545.9h0M343.6 1378.0h0M342.6 1424.5h0M334.8 1396.3h0M337.8 1427.8h0M269.2 1544.0h0M263.1 1577.9h0M338.8 1427.9h0M345.5 1379.3h0M273.4 1597.3h0M505.8 1503.5h0M542.7 1608.1h0M333.7 1405.2h0M270.0 1544.1h0M501.4 1629.5h0M339.7 1381.2h0M499.7 1637.1h0M506.3 1507.7h0M539.1 1607.6h0M505.1 1500.2h0M345.2 1418.0h0M522.9 1612.0h0M498.9 1489.5h0M267.8 1609.0h0M333.7 1406.7h0" stroke="#2a788e" stroke-width="4.2" stroke-linecap="round" fill="none"/><path d="M500.1 1632.4h0M348.4 1396.9h0M270.8 1545.4h0M348.4 1393.7h0M343.4 1378.4h0M531.5 1631.1h0M491.4 1495.5h0M502.4 1532.8h0M544.2 1609.1h0M337.2 1387.1h0M501.5 1629.8h0M488.7 1508.0h0M505.6 1502.5h0M510.9 1619.6h0M343.3 1378.5h0M272.2 1602.5h0M533.3 1629.7h0M535.0 1628.4h0M272.9 1598.9h0M493.5 1534.1h0M546.0 1613.1h0M538.5 1607.8h0M342.7 1423.5h0M338.7 1383.7h0M346.6 1382.4h0M532.9 1608.6h0M334.0 1404.3h0M347.1 1408.9h0M504.9 1640.0h0M267.5 1549.0h0M273.9 1594.4h0M499.9 1634.8h0M346.0 1381.3h0M268.5 1559.6h0M533.5 1629.5h0M517.6 1638.0h0M336.8 1389.0h0M495.0 1490.6h0M347.8 1403.0h0M501.6 1630.1h0M511.7 1619.2h0M489.8 1524.6h0M510.1 1639.9h0M504.2 1528.3h0M333.9 1408.0h0M498.9 1490.0h0M333.9 1407.8h0M343.2 1379.2h0M270.5 1559.0h0M509.9 1639.8h0M346.3 1412.4h0M523.3 1612.2h0M501.1 1534.2h0M338.8 1426.6h0M270.0 1559.9h0M501.4 1638.2h0M334.8 1420.4h0M346.5 1411.5h0M344.5 1379.8h0M545.5 1614.3h0M265.0 1602.8h0M497.0 1536.1h0M528.3 1610.2h0M497.3 1489.8h0M501.5 1533.7h0M539.3 1624.2h0M271.3 1548.1h0M334.8 1399.1h0M273.1 1575.3h0M336.6 1425.0h0M342.8 1379.7h0M527.7 1633.1h0M269.7 1544.9h0M490.9 1528.3h0M263.2 1594.6h0M512.1 1619.1h0M530.4 1631.4h0M343.9 1379.8h0M346.3 1412.0h0M337.7 1425.9h0M500.9 1534.2h0M346.7 1409.6h0M273.5 1595.6h0M344.1 1419.4h0M508.5 1639.7h0M505.0 1625.7h0M335.7 1394.2h0M531.3 1630.8h0M525.4 1611.4h0M340.3 1425.5h0M542.9 1619.8h0M342.3 1380.1h0M500.5 1634.4h0M522.3 1635.8h0M501.8 1638.0h0M273.4 1595.9h0M527.4 1633.1h0M501.9 1630.3h0M265.3 1572.6h0M341.2 1424.4h0M540.5 1622.8h0M545.2 1613.2h0M269.7 1545.2h0M346.6 1384.2h0M545.2 1613.0h0M502.2 1629.7h0M347.7 1390.3h0M512.6 1618.9h0M337.0 1389.7h0M542.3 1620.4h0M341.7 1423.8h0M346.9 1407.6h0M544.1 1610.4h0M334.2 1407.7h0M502.4 1638.3h0M489.0 1508.5h0M262.5 1589.6h0M504.3 1499.0h0M503.2 1628.3h0M343.6 1380.4h0M347.1 1387.1h0M263.7 1576.5h0M489.2 1519.6h0M270.9 1547.2h0M268.8 1558.9h0M338.6 1425.5h0M268.0 1547.9h0M268.4 1568.8h0M529.2 1610.2h0" stroke="#287e8e" stroke-width="4.2" stroke-linecap="round" fill="none"/><path d="M347.8 1394.8h0M346.1 1383.6h0M271.2 1548.7h0M346.8 1407.7h0M268.6 1608.5h0M542.9 1609.7h0M334.3 1413.6h0M347.7 1397.4h0M501.5 1637.1h0M505.6 1505.4h0M496.0 1535.2h0M335.3 1420.1h0M339.3 1384.5h0M335.9 1422.1h0M516.1 1638.0h0M334.6 1403.1h0M514.8 1617.5h0M345.7 1383.0h0M345.9 1412.0h0M505.1 1639.1h0M505.6 1520.4h0M268.7 1546.3h0M500.3 1534.3h0M344.1 1381.1h0M544.8 1613.6h0M504.3 1526.8h0M274.6 1585.5h0M268.8 1558.4h0M526.5 1633.4h0M346.5 1408.9h0M510.6 1639.1h0M269.2 1545.8h0M489.9 1523.3h0M509.9 1639.2h0M262.4 1585.3h0M501.3 1633.0h0M335.6 1420.6h0M339.7 1384.0h0M500.9 1492.5h0M503.0 1530.0h0M346.2 1384.6h0M342.1 1381.5h0M347.5 1392.3h0M524.6 1612.1h0M540.9 1609.2h0M268.4 1608.3h0M347.5 1398.3h0M265.8 1604.9h0M543.3 1610.6h0M345.5 1383.4h0M520.8 1614.0h0M543.2 1610.5h0M503.2 1496.7h0M270.5 1606.6h0M342.7 1381.4h0M337.5 1389.4h0M347.5 1397.3h0M503.7 1498.1h0M489.1 1511.9h0M346.1 1410.3h0M544.3 1612.8h0M274.5 1588.0h0M344.5 1382.4h0M544.1 1612.3h0M334.6 1411.9h0M512.8 1619.2h0M489.1 1512.7h0M504.5 1525.1h0M530.3 1610.2h0M504.0 1526.9h0M335.4 1418.6h0M347.0 1389.8h0M538.9 1623.7h0M343.1 1419.6h0M499.7 1534.2h0M491.0 1499.4h0M336.8 1392.5h0M489.4 1508.1h0M334.7 1410.6h0M267.9 1608.0h0M340.9 1422.8h0M337.8 1389.4h0M334.8 1410.8h0M538.8 1609.3h0M507.1 1638.8h0M267.1 1607.2h0M345.4 1384.5h0M543.1 1617.5h0M337.9 1423.2h0M489.4 1517.4h0M501.8 1634.4h0M539.1 1623.3h0M497.7 1534.7h0M274.1 1580.9h0M501.8 1634.0h0M489.5 1518.1h0M530.1 1610.5h0M530.7 1610.3h0M490.4 1502.1h0M266.3 1571.6h0M342.6 1382.5h0M502.3 1631.9h0M521.3 1635.5h0M338.9 1423.5h0M505.2 1626.8h0M524.5 1612.6h0M541.0 1609.9h0M526.6 1611.7h0M533.6 1628.2h0M504.4 1501.0h0M263.0 1580.6h0M537.7 1624.6h0M501.4 1494.0h0M335.0 1413.2h0M347.1 1397.1h0M270.3 1606.6h0M516.8 1637.2h0M339.5 1386.1h0M340.6 1384.3h0M491.7 1497.7h0M516.7 1637.2h0M505.6 1509.2h0" stroke="#26848d" stroke-width="4.2" stroke-linecap="round" fill="none"/><path d="M540.6 1610.0h0M511.0 1621.0h0M346.5 1405.3h0M346.7 1403.7h0M335.6 1417.3h0M502.4 1632.4h0M533.8 1627.9h0M536.0 1626.0h0M336.0 1397.9h0M273.0 1576.4h0M496.8 1534.3h0M508.2 1638.5h0M345.7 1409.6h0M336.3 1419.6h0M542.6 1617.9h0M342.7 1419.2h0M263.9 1596.0h0M342.5 1383.3h0M343.1 1383.2h0M342.5 1383.3h0M527.7 1632.0h0M335.2 1404.6h0M491.6 1498.3h0M335.5 1401.3h0M502.3 1634.2h0M269.3 1607.5h0M340.2 1385.3h0M337.2 1421.4h0M490.2 1503.9h0M335.1 1411.6h0M535.0 1626.8h0M346.9 1397.2h0M500.4 1493.2h0M270.6 1554.9h0M535.3 1609.7h0M537.8 1609.7h0M524.2 1633.9h0M346.1 1388.4h0M502.4 1633.4h0M345.0 1412.4h0M335.2 1411.4h0M492.6 1496.1h0M490.8 1501.3h0M346.8 1400.3h0M270.7 1554.2h0M273.3 1594.6h0M268.1 1551.2h0M338.4 1389.4h0M501.5 1494.6h0M263.6 1594.2h0M270.0 1547.7h0M345.3 1410.7h0M489.5 1510.5h0M271.8 1601.2h0M335.3 1405.4h0M505.1 1627.6h0M505.6 1626.9h0M335.3 1412.9h0M491.7 1527.5h0M517.8 1636.6h0M268.1 1552.2h0M337.5 1392.4h0M346.3 1390.2h0M270.4 1606.0h0M270.7 1553.7h0M268.2 1552.1h0M336.1 1417.7h0M514.6 1618.6h0M337.5 1421.0h0M490.1 1520.7h0M493.7 1494.5h0M538.4 1623.4h0M497.4 1534.0h0M346.3 1403.8h0M512.3 1637.9h0M540.1 1610.4h0M518.6 1616.0h0M503.5 1526.7h0M492.0 1528.1h0M525.2 1612.7h0M268.2 1551.7h0M344.2 1384.8h0M343.4 1416.7h0M526.6 1632.4h0M338.3 1390.2h0M503.8 1525.9h0M531.7 1629.2h0M346.6 1400.4h0M503.1 1527.9h0M504.1 1501.5h0M537.6 1610.0h0M504.3 1636.8h0M501.1 1494.4h0M346.0 1389.3h0M506.4 1637.8h0M345.7 1407.7h0M262.8 1584.6h0M336.2 1398.7h0M337.1 1394.3h0M531.1 1610.8h0M542.3 1612.3h0M503.0 1633.5h0M338.3 1421.1h0M337.1 1419.7h0M344.3 1385.4h0M272.7 1597.1h0M335.5 1405.8h0M270.7 1551.3h0M518.9 1635.9h0M520.8 1635.2h0M491.6 1526.7h0M272.6 1575.6h0M503.2 1632.4h0M268.1 1607.3h0M339.9 1387.3h0M489.7 1515.6h0M503.2 1634.5h0M490.3 1521.1h0M337.4 1419.8h0M492.1 1528.0h0M346.1 1391.3h0M505.3 1509.8h0M534.5 1626.8h0M503.4 1499.5h0M337.1 1395.2h0M503.9 1525.0h0M504.3 1629.8h0M338.7 1390.0h0M490.0 1518.4h0M503.3 1632.9h0M338.9 1420.8h0M491.9 1498.8h0M342.8 1417.0h0M268.5 1552.8h0M538.3 1622.9h0M266.4 1572.2h0M343.6 1385.5h0M273.7 1592.2h0M520.7 1615.2h0M500.7 1494.4h0" stroke="#238b8c" stroke-width="4.2" stroke-linecap="round" fill="none"/><path d="M541.0 1611.6h0M344.2 1386.3h0M520.9 1615.0h0M337.9 1392.7h0M503.2 1499.1h0M346.2 1393.7h0M346.3 1398.8h0M262.9 1583.9h0M270.1 1549.6h0M336.2 1414.8h0M506.4 1637.2h0M505.2 1511.5h0M340.3 1420.1h0M515.4 1618.4h0M344.6 1387.1h0M270.1 1554.3h0M335.9 1404.0h0M542.0 1616.7h0M510.4 1637.6h0M491.3 1525.0h0M344.7 1410.8h0M345.8 1404.2h0M506.2 1637.0h0M336.3 1401.0h0M521.1 1615.0h0M503.8 1634.6h0M270.2 1550.2h0M266.0 1603.5h0M271.2 1602.6h0M271.7 1573.9h0M264.0 1577.5h0M273.1 1594.6h0M344.3 1387.2h0M496.2 1493.1h0M505.9 1636.7h0M269.9 1554.3h0M489.9 1515.0h0M502.3 1497.3h0M541.1 1612.2h0M504.7 1629.7h0M342.9 1386.1h0M516.7 1636.3h0M504.4 1630.4h0M270.2 1553.1h0M534.4 1626.5h0M535.5 1625.5h0M505.1 1511.1h0M536.6 1610.7h0M523.2 1633.7h0M346.0 1397.1h0M269.2 1554.0h0M508.2 1624.9h0M535.6 1610.7h0M345.0 1389.4h0M499.2 1532.4h0M531.5 1611.3h0M494.9 1531.7h0M526.5 1631.9h0M537.3 1610.9h0M526.3 1632.0h0M490.9 1522.7h0M504.7 1630.3h0M494.9 1531.6h0M508.0 1637.1h0M538.9 1611.3h0M526.9 1612.7h0M344.5 1388.6h0M344.9 1408.2h0M337.4 1417.1h0M270.7 1603.9h0M533.0 1627.3h0M339.8 1419.0h0M528.9 1612.1h0M509.6 1637.2h0M342.8 1387.0h0M339.5 1390.2h0M521.9 1634.1h0M269.6 1550.9h0M532.9 1627.4h0M512.9 1620.7h0M536.4 1624.3h0M538.7 1611.4h0M336.3 1405.6h0M513.5 1620.3h0M508.3 1637.0h0M490.0 1512.4h0M493.7 1529.9h0M345.8 1397.6h0M337.1 1415.6h0M337.7 1395.9h0M336.7 1413.8h0M539.2 1611.6h0M504.7 1634.6h0M344.2 1410.6h0M511.8 1637.0h0M336.4 1410.7h0M507.7 1625.9h0M501.5 1529.5h0M498.1 1532.5h0M522.0 1634.0h0M336.5 1404.3h0M498.5 1532.3h0M345.0 1391.4h0M344.0 1388.8h0M271.9 1574.6h0M345.6 1399.8h0M491.0 1522.3h0M505.0 1630.5h0M273.6 1591.1h0M527.6 1630.9h0M345.4 1402.6h0M344.6 1408.3h0M338.2 1417.4h0M506.9 1627.1h0M540.8 1617.6h0M503.0 1500.1h0M340.5 1389.3h0M509.3 1636.8h0M341.6 1388.2h0M505.3 1634.9h0M511.9 1636.8h0M343.9 1410.9h0M515.0 1619.4h0M264.1 1577.9h0" stroke="#21918c" stroke-width="4.2" stroke-linecap="round" fill="none"/><path d="M336.5 1409.6h0M270.1 1605.0h0M337.1 1400.0h0M338.6 1417.4h0M345.3 1394.4h0M340.0 1417.7h0M345.2 1403.1h0M528.4 1630.3h0M342.3 1388.4h0M492.4 1499.3h0M505.1 1631.0h0M491.5 1502.2h0M344.9 1405.6h0M269.2 1606.1h0M512.2 1636.6h0M338.0 1416.3h0M345.3 1400.5h0M520.7 1634.3h0M337.4 1398.9h0M342.6 1413.9h0M340.3 1390.2h0M342.8 1413.5h0M536.7 1623.5h0M338.2 1395.5h0M540.7 1616.7h0M506.8 1627.7h0M504.6 1510.0h0M497.4 1532.0h0M345.1 1402.5h0M490.4 1510.0h0M344.8 1393.2h0M496.5 1494.2h0M341.4 1415.8h0M534.8 1611.5h0M513.1 1621.1h0M268.6 1571.5h0M540.7 1614.9h0M340.5 1416.6h0M338.8 1416.5h0M266.4 1603.6h0M338.2 1396.2h0M533.7 1626.2h0M337.0 1410.8h0M341.9 1414.8h0M345.0 1402.6h0M536.3 1611.7h0M345.1 1399.9h0M344.1 1408.0h0M340.3 1416.3h0M343.0 1389.8h0M344.5 1406.0h0M345.0 1397.2h0M338.9 1416.0h0M341.7 1389.8h0M524.3 1632.3h0M537.6 1612.1h0M528.1 1630.2h0M343.4 1390.6h0M539.4 1619.3h0M539.6 1618.7h0M506.0 1634.3h0M538.6 1620.5h0M532.3 1612.0h0M501.8 1498.2h0M344.5 1404.4h0M337.2 1405.1h0M337.8 1413.1h0M263.2 1584.6h0M338.5 1414.7h0M505.6 1632.3h0M539.8 1617.9h0M500.2 1495.9h0M538.1 1612.6h0M343.9 1407.8h0M343.0 1390.8h0M344.6 1402.3h0M344.7 1397.7h0M344.3 1405.0h0M527.4 1613.4h0M337.4 1410.2h0M343.6 1408.5h0M494.1 1496.9h0M338.1 1398.8h0M337.3 1405.5h0M340.6 1392.0h0M343.3 1391.5h0M492.1 1501.3h0M338.3 1398.2h0M524.6 1614.6h0M538.4 1613.0h0M510.6 1623.9h0M524.3 1614.7h0M340.4 1392.6h0" stroke="#21978a" stroke-width="4.2" stroke-linecap="round" fill="none"/><path d="M511.3 1635.9h0M344.5 1400.0h0M343.2 1392.1h0M338.1 1412.1h0M507.4 1634.8h0M502.6 1500.9h0M531.3 1612.5h0M344.3 1403.3h0M343.8 1393.5h0M506.3 1633.2h0M513.5 1635.7h0M344.1 1404.4h0M503.0 1502.2h0M272.3 1595.9h0M267.4 1604.8h0M539.7 1616.6h0M269.3 1605.2h0M339.3 1414.0h0M343.0 1409.4h0M508.2 1627.1h0M527.4 1613.7h0M342.4 1411.1h0M520.7 1633.6h0M522.2 1632.9h0M508.3 1635.1h0M268.0 1605.4h0M538.2 1613.3h0M337.8 1409.4h0M490.7 1510.4h0M273.7 1587.5h0M338.2 1411.2h0M503.7 1505.4h0M500.5 1496.9h0M341.5 1392.3h0M506.9 1629.5h0M530.9 1627.7h0M494.7 1529.3h0M268.8 1605.4h0M339.9 1394.7h0M504.2 1515.8h0M507.2 1634.0h0M506.9 1633.7h0M272.8 1594.0h0M500.3 1496.8h0M515.0 1620.4h0M266.4 1602.0h0M343.5 1406.2h0M343.2 1407.7h0M517.1 1634.7h0M493.3 1526.9h0M338.9 1412.3h0M509.0 1626.4h0M343.9 1397.1h0M263.8 1591.8h0M518.0 1618.4h0M271.3 1574.6h0M267.9 1605.1h0M518.5 1618.1h0M342.4 1410.1h0M343.9 1402.6h0M491.0 1508.3h0M339.7 1395.9h0M340.0 1395.2h0M343.1 1394.0h0M338.0 1404.8h0M538.2 1619.6h0M501.3 1498.5h0M268.4 1605.3h0M492.6 1525.1h0M522.2 1616.0h0M342.6 1409.2h0M340.8 1394.0h0M269.5 1572.5h0M341.5 1393.4h0M519.0 1634.0h0M340.1 1395.3h0M529.5 1613.3h0M495.0 1529.3h0M343.1 1406.9h0M510.1 1635.1h0M538.2 1619.4h0M506.9 1631.4h0M272.2 1576.7h0M338.6 1410.0h0M342.1 1409.8h0M343.2 1395.4h0M342.7 1394.3h0M508.8 1634.7h0M340.6 1412.0h0M522.3 1616.2h0M339.4 1397.9h0M342.6 1394.4h0M340.6 1411.9h0M493.7 1527.2h0M498.8 1495.9h0M494.8 1497.1h0M338.5 1403.0h0M501.0 1527.7h0M526.1 1614.5h0M501.6 1499.4h0M343.6 1402.2h0M538.1 1619.3h0M503.2 1504.3h0M490.9 1512.2h0M507.6 1629.3h0M516.5 1634.6h0M343.3 1396.6h0M343.4 1404.1h0M518.3 1618.5h0M340.7 1411.4h0M508.0 1633.9h0M533.0 1613.0h0M492.1 1503.1h0M491.9 1504.2h0M507.6 1629.5h0M343.2 1404.7h0M503.6 1506.4h0M343.3 1404.2h0M491.1 1516.9h0M537.0 1613.7h0M507.4 1630.4h0M491.8 1504.9h0M341.5 1395.2h0M339.5 1398.8h0M491.4 1507.2h0M520.3 1633.2h0M338.9 1407.9h0M491.9 1504.5h0M498.0 1496.0h0" stroke="#229c88" stroke-width="4.2" stroke-linecap="round" fill="none"/><path d="M338.8 1403.4h0M340.5 1410.3h0M538.4 1616.9h0M269.1 1604.5h0M339.0 1402.4h0M534.5 1623.8h0M340.8 1410.0h0M342.0 1396.2h0M338.9 1405.9h0M342.6 1397.3h0M513.7 1634.7h0M508.8 1627.7h0M264.4 1594.0h0M265.8 1598.8h0M342.3 1396.8h0M507.9 1629.8h0M515.4 1620.8h0M529.3 1613.8h0M342.0 1396.6h0M341.2 1396.7h0M341.4 1396.6h0M493.7 1499.4h0M538.0 1618.2h0M341.9 1407.3h0M532.1 1613.4h0M341.4 1396.8h0M520.2 1617.7h0M340.1 1409.0h0M531.7 1613.5h0M340.6 1409.0h0M509.9 1634.2h0M509.4 1634.0h0M515.0 1621.3h0M339.3 1404.8h0M538.0 1616.6h0M534.3 1623.7h0M269.4 1603.8h0M507.9 1631.6h0M537.4 1614.9h0M339.8 1407.9h0M527.8 1629.0h0M342.4 1403.8h0M500.3 1527.9h0M341.8 1397.9h0M340.7 1408.1h0M536.3 1621.2h0M341.7 1397.9h0M499.8 1528.5h0M270.4 1601.4h0M494.4 1527.5h0M342.4 1403.4h0M522.2 1632.1h0M502.7 1522.4h0M267.0 1602.5h0M342.0 1398.8h0M340.5 1399.4h0M266.9 1602.1h0M496.5 1496.7h0M342.1 1404.3h0M493.9 1499.5h0M522.1 1616.8h0M513.6 1634.4h0M340.4 1407.3h0M270.5 1600.8h0M341.6 1398.8h0M266.4 1600.7h0M516.0 1634.1h0M272.3 1577.9h0M508.7 1632.9h0M340.2 1400.9h0M497.1 1529.4h0M341.9 1404.2h0M271.3 1598.1h0M498.9 1529.0h0M509.6 1627.2h0M508.6 1629.4h0M273.2 1589.9h0M272.6 1579.0h0M340.4 1401.6h0M508.4 1632.0h0M340.4 1405.3h0M341.1 1405.5h0M511.1 1625.3h0M536.9 1619.6h0M341.4 1401.3h0M524.6 1630.7h0M496.0 1497.3h0M493.7 1525.8h0M268.4 1604.0h0M266.8 1601.5h0M498.9 1528.8h0M525.6 1630.1h0M340.7 1402.2h0M340.7 1402.5h0M502.3 1502.7h0M500.8 1499.3h0M491.6 1517.8h0M537.0 1619.1h0M492.2 1504.9h0M500.2 1527.5h0M272.7 1592.7h0M492.5 1522.1h0M519.3 1618.6h0M525.3 1615.6h0M536.4 1620.1h0M508.7 1631.3h0M537.2 1618.0h0M535.6 1621.4h0M272.1 1595.3h0M516.3 1633.7h0M494.1 1526.3h0M268.7 1573.1h0M518.0 1633.2h0M533.3 1614.1h0M499.5 1498.0h0M498.9 1528.5h0M509.1 1629.2h0M491.5 1510.2h0" stroke="#22a286" stroke-width="4.2" stroke-linecap="round" fill="none"/><path d="M498.4 1528.6h0M496.2 1497.6h0M511.9 1624.9h0M532.1 1614.2h0M496.7 1528.6h0M267.2 1602.0h0M536.7 1616.4h0M524.6 1630.3h0M535.4 1621.1h0M511.0 1633.3h0M529.8 1626.9h0M265.2 1595.7h0M527.1 1615.3h0M266.7 1600.7h0M497.0 1528.5h0M524.1 1630.4h0M491.8 1509.3h0M524.8 1616.2h0M496.3 1528.2h0M272.9 1590.9h0M517.9 1632.9h0M525.6 1615.9h0M497.3 1497.5h0M522.5 1617.3h0M271.4 1576.1h0M534.6 1622.1h0M502.7 1505.9h0M269.8 1601.7h0M497.4 1497.6h0M517.2 1620.5h0M270.5 1574.5h0M499.4 1498.4h0M535.7 1615.7h0M511.2 1626.3h0M503.0 1508.2h0M528.4 1615.2h0M492.4 1520.0h0M510.3 1628.0h0M534.7 1615.3h0M534.3 1615.2h0M263.8 1584.4h0M531.6 1614.8h0M268.6 1602.8h0M523.7 1617.0h0M535.9 1618.6h0M535.9 1618.1h0M267.7 1602.2h0M510.2 1629.1h0M524.0 1617.0h0M267.3 1574.2h0M496.1 1498.6h0M518.1 1620.3h0M526.2 1616.2h0M522.4 1617.8h0M529.8 1615.3h0M499.6 1526.6h0M535.3 1616.8h0M502.5 1519.7h0M502.4 1520.3h0" stroke="#22a884" stroke-width="4.2" stroke-linecap="round" fill="none"/><path d="M511.6 1626.8h0M534.0 1615.7h0M514.7 1623.2h0M269.6 1601.3h0M510.5 1629.6h0M266.4 1598.7h0M498.5 1498.7h0M531.0 1615.3h0M535.3 1618.0h0M492.7 1505.6h0M535.2 1619.1h0M263.9 1583.3h0M272.1 1593.9h0M511.0 1631.1h0M502.9 1510.9h0M520.5 1631.4h0M268.5 1602.2h0M532.7 1623.2h0M517.0 1632.4h0M530.8 1615.5h0M532.8 1615.6h0M512.5 1632.2h0M514.8 1632.5h0M528.7 1626.8h0M499.0 1526.7h0M501.0 1502.2h0M272.5 1580.2h0M497.6 1527.2h0M520.6 1631.2h0M495.6 1499.7h0M492.8 1506.0h0M529.3 1615.8h0M523.2 1630.0h0M502.9 1513.0h0M525.2 1617.0h0M530.3 1615.8h0M264.9 1593.7h0M497.4 1499.0h0M496.8 1526.9h0M531.4 1624.2h0M523.4 1617.8h0M514.7 1632.2h0M269.6 1600.6h0M534.1 1620.4h0M502.8 1511.7h0M525.7 1616.9h0M534.4 1619.3h0M532.0 1616.0h0M270.8 1597.5h0M492.8 1519.5h0M517.3 1621.6h0M497.2 1526.8h0M497.2 1526.8h0M530.6 1624.8h0M272.9 1583.4h0M526.6 1627.8h0M524.5 1629.0h0M268.2 1574.2h0M493.1 1505.6h0M526.1 1628.1h0M270.1 1599.2h0M492.5 1516.1h0M511.8 1629.6h0M527.7 1626.9h0M502.7 1514.3h0M518.2 1621.1h0M266.3 1597.5h0M493.7 1503.9h0M533.0 1621.6h0M264.3 1581.6h0M264.1 1583.3h0M272.4 1592.1h0M502.2 1507.5h0M530.3 1616.4h0M513.0 1626.4h0" stroke="#2bae7f" stroke-width="4.2" stroke-linecap="round" fill="none"/><path d="M265.1 1578.5h0M264.7 1592.5h0M268.4 1601.0h0M270.5 1575.7h0M514.8 1624.2h0M524.0 1618.0h0M518.3 1621.3h0M513.6 1631.2h0M525.3 1617.5h0M502.6 1513.0h0M271.9 1578.4h0M521.3 1630.2h0M518.4 1631.1h0M501.1 1522.2h0M496.6 1526.0h0M530.7 1624.0h0M499.6 1501.1h0M272.0 1593.5h0M501.7 1505.7h0M527.1 1617.1h0M498.9 1525.6h0M492.8 1508.8h0M270.0 1598.8h0M500.5 1523.4h0M272.1 1592.7h0M502.2 1509.0h0M500.2 1523.9h0M512.8 1629.6h0M520.1 1620.4h0M272.7 1582.4h0M495.1 1501.7h0M526.8 1617.3h0M497.9 1525.8h0M495.9 1525.2h0M515.1 1624.5h0M268.3 1574.6h0M495.0 1502.0h0M529.5 1624.8h0M513.3 1627.6h0M515.7 1630.9h0M532.5 1620.7h0M518.8 1621.4h0M264.6 1580.9h0M522.5 1629.3h0M501.9 1517.7h0M496.2 1525.1h0M513.3 1629.0h0M513.4 1629.3h0M264.3 1588.9h0M501.6 1519.3h0M527.3 1617.5h0M272.3 1591.8h0M514.3 1626.0h0M518.5 1621.8h0M513.8 1629.7h0M265.2 1593.5h0M530.9 1622.9h0M267.6 1599.4h0M495.0 1523.5h0M515.5 1624.7h0M495.7 1524.3h0M521.6 1629.4h0M501.7 1518.5h0M502.1 1512.6h0M517.7 1630.4h0M527.7 1617.7h0M521.3 1629.5h0M528.5 1625.2h0M528.5 1625.2h0M526.6 1626.6h0M516.7 1623.6h0M527.3 1626.1h0M264.4 1582.5h0M271.3 1595.1h0M493.4 1507.6h0M520.6 1620.6h0M497.7 1500.9h0M525.2 1618.4h0M524.7 1618.6h0" stroke="#33b47a" stroke-width="4.2" stroke-linecap="round" fill="none"/><path d="M514.9 1625.9h0M520.9 1629.5h0M526.5 1626.6h0M514.5 1626.7h0M514.1 1628.6h0M493.1 1509.6h0M501.2 1506.0h0M531.7 1619.1h0M523.8 1619.1h0M529.3 1624.1h0M495.5 1523.8h0M272.6 1582.6h0M514.2 1627.6h0M495.3 1502.6h0M526.7 1618.2h0M517.9 1630.1h0M514.3 1628.6h0M530.6 1622.5h0M526.6 1626.3h0M268.3 1599.5h0M498.3 1524.7h0M514.8 1626.6h0M501.8 1509.7h0M498.1 1524.6h0M524.3 1627.7h0M493.8 1519.7h0M515.3 1629.4h0M528.2 1618.2h0M269.2 1599.0h0M529.1 1618.2h0M515.8 1629.6h0M516.4 1629.7h0M519.4 1629.5h0M494.7 1504.2h0M493.3 1509.7h0M265.0 1592.2h0M495.6 1502.6h0M518.8 1629.6h0M528.8 1624.1h0M515.7 1625.8h0M501.7 1516.1h0M519.6 1622.0h0M528.7 1618.6h0M522.5 1628.2h0M517.3 1624.0h0M522.9 1628.0h0M493.7 1518.3h0M500.0 1503.8h0M494.5 1505.0h0M493.4 1516.5h0M269.3 1575.4h0M493.9 1507.0h0M529.5 1622.7h0M494.2 1506.1h0M266.4 1596.1h0M520.3 1621.7h0M493.3 1513.2h0M521.7 1628.4h0M527.3 1625.0h0M501.2 1508.0h0M530.1 1621.5h0M493.4 1512.5h0M529.8 1621.7h0M271.2 1578.0h0M498.9 1502.8h0M527.5 1624.6h0M522.7 1620.6h0M493.9 1507.8h0M270.8 1577.2h0M516.9 1625.2h0M269.3 1598.2h0M526.3 1619.4h0M529.5 1621.8h0M519.0 1623.1h0M493.7 1509.3h0" stroke="#3cb975" stroke-width="4.2" stroke-linecap="round" fill="none"/><path d="M493.6 1515.8h0M264.4 1585.2h0M517.9 1624.3h0M269.9 1597.2h0M527.5 1624.3h0M501.1 1517.7h0M501.5 1513.5h0M520.3 1622.2h0M525.5 1625.9h0M500.0 1504.8h0M264.8 1581.6h0M501.2 1516.8h0M493.6 1514.6h0M493.6 1513.5h0M264.5 1583.5h0M270.4 1576.8h0M501.4 1512.8h0M501.3 1510.6h0M520.1 1622.6h0M501.4 1513.2h0M519.5 1623.2h0M528.8 1622.0h0M272.2 1590.4h0M528.5 1620.3h0M518.9 1623.7h0M272.6 1585.6h0M527.4 1620.0h0M524.4 1620.4h0M495.6 1504.1h0M527.1 1619.9h0M528.3 1622.6h0M521.3 1622.1h0M499.2 1504.1h0M519.1 1627.9h0M501.3 1514.2h0M520.3 1622.9h0M269.5 1576.0h0M518.5 1624.6h0M521.9 1627.2h0M267.5 1597.5h0M494.5 1507.0h0M528.1 1622.1h0M497.9 1522.7h0M501.0 1509.7h0M526.9 1620.7h0M523.7 1621.2h0M272.1 1590.4h0M518.4 1626.0h0M521.2 1627.0h0M499.7 1505.4h0M265.4 1592.4h0M519.0 1626.9h0M520.6 1623.2h0M521.3 1622.8h0M524.8 1625.1h0M270.2 1596.0h0M523.2 1621.8h0M494.1 1510.2h0M520.3 1626.7h0M498.8 1521.6h0M526.3 1623.1h0M496.9 1522.0h0M524.5 1621.7h0M521.2 1623.4h0M524.2 1625.0h0" stroke="#44bf70" stroke-width="4.2" stroke-linecap="round" fill="none"/><path d="M495.9 1521.0h0M520.7 1626.2h0M495.0 1519.1h0M521.9 1625.8h0M268.7 1597.5h0M523.8 1624.8h0M271.7 1580.6h0M523.0 1625.1h0M523.8 1624.5h0M495.5 1519.9h0M524.2 1624.0h0M523.8 1622.9h0M524.1 1624.1h0M521.9 1624.2h0M264.7 1585.0h0M522.5 1624.1h0M523.2 1624.1h0M523.1 1623.9h0M265.1 1581.4h0M494.7 1508.7h0M495.5 1506.3h0M268.7 1597.3h0M498.2 1504.9h0M272.0 1589.9h0M500.5 1510.1h0M499.2 1506.0h0M270.2 1577.3h0M499.8 1507.6h0M494.5 1511.1h0M494.6 1510.5h0M267.7 1576.6h0M500.2 1516.7h0M265.8 1579.3h0M494.7 1516.0h0M272.2 1588.3h0M500.5 1512.8h0M496.4 1505.8h0M272.3 1585.9h0M496.4 1520.2h0M499.3 1507.0h0M498.8 1519.9h0M268.2 1576.4h0M495.7 1519.1h0M500.4 1513.3h0M500.4 1513.6h0M499.7 1508.1h0M494.8 1510.5h0M494.7 1512.9h0M500.2 1510.6h0M267.9 1576.6h0M269.7 1596.0h0" stroke="#52c468" stroke-width="4.2" stroke-linecap="round" fill="none"/><path d="M496.8 1506.1h0M499.9 1509.8h0M498.5 1519.3h0M498.9 1518.5h0M498.2 1506.6h0M495.4 1516.6h0M499.6 1509.4h0M268.1 1596.4h0M496.4 1518.6h0M267.5 1577.2h0M270.7 1593.7h0M496.0 1517.5h0M498.7 1518.1h0M272.1 1587.2h0M271.4 1580.5h0M267.9 1595.9h0M496.1 1517.0h0M495.7 1515.5h0M265.5 1591.0h0M265.4 1590.2h0M495.6 1512.3h0M499.4 1513.4h0M496.7 1517.5h0M265.0 1584.6h0M495.7 1512.7h0" stroke="#5fc860" stroke-width="4.2" stroke-linecap="round" fill="none"/><path d="M498.3 1517.0h0M498.2 1509.2h0M265.9 1580.4h0M265.2 1582.9h0M498.9 1511.2h0M270.7 1579.2h0M497.8 1509.2h0M496.7 1510.0h0M269.8 1594.8h0M497.2 1509.7h0M498.7 1514.2h0M497.4 1509.7h0M496.5 1511.4h0M496.9 1510.7h0M271.1 1580.6h0M497.4 1511.5h0M498.0 1512.6h0M265.2 1587.5h0M265.3 1583.4h0M265.8 1591.1h0" stroke="#6ccc59" stroke-width="4.2" stroke-linecap="round" fill="none"/><path d="M271.7 1587.3h0M265.3 1588.0h0M266.5 1579.8h0M270.1 1593.4h0M271.6 1587.1h0M265.3 1585.4h0M270.2 1579.2h0M267.4 1578.7h0M271.6 1585.4h0M271.4 1583.1h0M271.4 1588.9h0M266.5 1580.2h0" stroke="#7ad151" stroke-width="4.2" stroke-linecap="round" fill="none"/><path d="M265.6 1583.4h0M265.5 1586.3h0M271.5 1584.7h0M269.6 1593.2h0M266.8 1580.1h0M269.0 1578.7h0M266.2 1590.8h0M265.6 1586.4h0M271.2 1583.7h0M270.8 1581.6h0" stroke="#8bd446" stroke-width="4.2" stroke-linecap="round" fill="none"/><path d="M265.7 1587.5h0M269.1 1593.3h0M270.5 1581.0h0M266.3 1582.0h0M267.6 1593.0h0M270.0 1592.1h0M268.4 1593.3h0M265.8 1586.4h0M268.6 1593.2h0M270.1 1591.6h0M269.4 1592.8h0M271.2 1586.8h0M265.9 1584.2h0M267.8 1592.9h0M270.7 1589.8h0M266.5 1581.7h0M266.2 1589.3h0" stroke="#9bd83c" stroke-width="4.2" stroke-linecap="round" fill="none"/><path d="M268.3 1592.9h0M266.0 1585.7h0M267.6 1592.0h0M269.6 1591.6h0M270.3 1582.0h0M268.3 1580.0h0M269.9 1590.9h0" stroke="#acdc31" stroke-width="4.2" stroke-linecap="round" fill="none"/><path d="M266.9 1590.3h0M267.4 1581.0h0M267.6 1591.5h0M268.0 1580.6h0M266.8 1582.5h0M268.6 1591.8h0M266.7 1589.2h0M268.7 1591.6h0M270.6 1586.1h0" stroke="#bddf26" stroke-width="4.2" stroke-linecap="round" fill="none"/><path d="M266.5 1587.2h0M266.9 1589.2h0M267.7 1590.8h0M269.9 1582.3h0M266.6 1587.4h0M270.3 1584.4h0M270.1 1588.5h0M266.7 1586.9h0M266.7 1585.8h0" stroke="#cde126" stroke-width="4.2" stroke-linecap="round" fill="none"/><path d="M267.5 1589.6h0M266.9 1586.4h0M267.0 1586.1h0M269.8 1584.1h0M269.6 1583.5h0" stroke="#dde326" stroke-width="4.2" stroke-linecap="round" fill="none"/><path d="M267.5 1588.4h0M269.8 1585.5h0M267.5 1588.0h0M269.7 1587.0h0M269.6 1584.8h0M268.9 1583.4h0M268.3 1588.7h0M269.6 1585.7h0M267.4 1586.5h0M269.4 1587.4h0M269.1 1588.0h0M269.3 1587.1h0M268.8 1583.8h0" stroke="#ede525" stroke-width="4.2" stroke-linecap="round" fill="none"/><path d="M268.0 1587.8h0M268.0 1584.4h0M267.8 1586.3h0M268.0 1585.4h0M268.1 1586.3h0" stroke="#fde725" stroke-width="4.2" stroke-linecap="round" fill="none"/></g><rect x="232.5" y="1456.2" width="63" height="187" fill="none" stroke="#7b2483" stroke-width="3.2"/><rect x="307" y="1270" width="51" height="229.2" fill="none" stroke="#d8443c" stroke-width="3.2"/><rect x="468.8" y="1427" width="50.8" height="139.2" fill="none" stroke="#5bbfaa" stroke-width="3.2"/><rect x="368.8" y="1576.2" width="250" height="123.8" fill="none" stroke="#f5b946" stroke-width="3.2"/><rect x="475" y="1250" width="149" height="115" fill="#fff"/><path d="M495 1270H521" stroke="#7b2483" stroke-width="5.6" stroke-linecap="round"/><text x="533" y="1277.3" font-size="25" text-anchor="start" fill="#1e1e1e">size 1</text><path d="M495 1295H521" stroke="#f5b946" stroke-width="5.6" stroke-linecap="round"/><text x="533" y="1302.3" font-size="25" text-anchor="start" fill="#1e1e1e">size 2</text><path d="M495 1320H521" stroke="#d8443c" stroke-width="5.6" stroke-linecap="round"/><text x="533" y="1327.3" font-size="25" text-anchor="start" fill="#1e1e1e">size 3</text><path d="M495 1345H521" stroke="#5bbfaa" stroke-width="5.6" stroke-linecap="round"/><text x="533" y="1352.3" font-size="25" text-anchor="start" fill="#1e1e1e">size 4</text><path d="M294.9 1715v-5.5M294.9 1241v5.5M419.3 1715v-5.5M419.3 1241v5.5M543.8 1715v-5.5M543.8 1241v5.5M170.8 1641.8h5.5M643 1641.8h-5.5M170.8 1498.6h5.5M643 1498.6h-5.5M170.8 1355.5h5.5M643 1355.5h-5.5" stroke="#1c1c1c" stroke-width="1.8" fill="none"/><rect x="170.8" y="1241" width="472.2" height="474" fill="none" stroke="#1c1c1c" stroke-width="2"/><text x="154" y="1650" font-size="25" text-anchor="end" fill="#1e1e1e">5</text><text x="154" y="1506.9" font-size="25" text-anchor="end" fill="#1e1e1e">10</text><text x="154" y="1363.8" font-size="25" text-anchor="end" fill="#1e1e1e">15</text><text x="168.5" y="1748.8" font-size="25" text-anchor="middle" fill="#1e1e1e">0</text><text x="292.9" y="1748.8" font-size="25" text-anchor="middle" fill="#1e1e1e">5</text><text x="417.3" y="1748.8" font-size="25" text-anchor="middle" fill="#1e1e1e">10</text><text x="541.8" y="1748.8" font-size="25" text-anchor="middle" fill="#1e1e1e">15</text><text x="0" y="0" font-size="38" text-anchor="middle" fill="#1e1e1e" transform="translate(100 1480) rotate(-90)">SSC-A (×10<tspan dy="-16" font-size="27">4</tspan><tspan dy="16"> a.u.)</tspan></text><text x="404.6" y="1797.5" font-size="38" text-anchor="middle" fill="#1e1e1e">FSC-A (×10<tspan dy="-16" font-size="27">4</tspan><tspan dy="16"> a.u.)</tspan></text><path d="M817 1238.5V1713M658.2 1641.8H848.5M658.2 1498.6H848.5M658.2 1355.5H848.5" stroke="#d2d2d2" stroke-width="1.0" fill="none"/><path d="M658.2 1306H660.2V1312.1H658.2M658.2 1312.1H663.8V1318.1H658.2M658.2 1318.1H667.6V1324.2H658.2M658.2 1324.2H671V1330.3H658.2M658.2 1330.3H672V1336.3H658.2M658.2 1336.3H674.2V1342.4H658.2M658.2 1342.4H676.5V1348.5H658.2M658.2 1348.5H677.6V1354.6H658.2M658.2 1354.6H681V1360.6H658.2M658.2 1360.6H683.4V1366.7H658.2M658.2 1366.7H684.9V1372.8H658.2M658.2 1372.8H687.5V1378.8H658.2M658.2 1378.8H689.9V1384.9H658.2M658.2 1384.9H690.6V1391H658.2M658.2 1391H684.5V1397H658.2M658.2 1397H687.4V1403.1H658.2M658.2 1403.1H697.5V1409.2H658.2M658.2 1409.2H703V1415.3H658.2M658.2 1415.3H704.8V1421.3H658.2M658.2 1421.3H713V1427.4H658.2M658.2 1427.4H708.6V1433.5H658.2M658.2 1433.5H705.9V1439.5H658.2M658.2 1439.5H703.2V1445.6H658.2M658.2 1445.6H696.2V1451.7H658.2M658.2 1451.7H686.2V1457.8H658.2M658.2 1457.8H677.2V1463.8H658.2M658.2 1463.8H684V1469.9H658.2" fill="#e6e6e6" stroke="#707070" stroke-width="1"/><path d="M658.2 1470H686.2V1476H658.2M658.2 1476H696.5V1482.1H658.2M658.2 1482.1H709.2V1488.2H658.2M658.2 1488.2H709.2V1494.2H658.2M658.2 1494.2H720.6V1500.2H658.2M658.2 1500.2H720.6V1506.3H658.2M658.2 1506.3H745.5V1512.3H658.2M658.2 1512.3H752V1518.4H658.2M658.2 1518.4H747.5V1524.5H658.2M658.2 1524.5H741V1530.5H658.2M658.2 1530.5H734.8V1536.5H658.2M658.2 1536.5H726.5V1542.6H658.2M658.2 1542.6H720V1548.7H658.2M658.2 1548.7H723.2V1554.7H658.2M658.2 1554.7H696.2V1560.8H658.2M658.2 1560.8H706.6V1566.8H658.2M658.2 1566.8H715V1572.8H658.2M658.2 1572.8H716.9V1578.9H658.2M658.2 1578.9H737.9V1585H658.2M658.2 1585H783.2V1591H658.2M658.2 1591H779.2V1597H658.2M658.2 1597H738.2V1603.1H658.2M658.2 1603.1H752.5V1609.2H658.2M658.2 1609.2H737.9V1615.2H658.2M658.2 1615.2H780V1621.2H658.2M658.2 1621.2H791.4V1627.3H658.2M658.2 1627.3H793.4V1633.3H658.2M658.2 1633.3H755.8V1639.4H658.2M658.2 1639.4H733.5V1645.5H658.2M658.2 1645.5H696.5V1651.5H658.2M658.2 1651.5H672.2V1657.5H658.2M658.2 1657.5H664.6V1663.6H658.2M658.2 1663.6H660.8V1669.7H658.2M658.2 1687.8H659.8V1693.8H658.2M658.2 1693.8H659.8V1699.9H658.2M658.2 1699.9H659.8V1706H658.2" fill="#e6e6e6" stroke="#707070" stroke-width="1"/><path d="M658.2 1262 658.4 1263.8 658.5 1265.6 658.6 1267.4 658.8 1269.2 658.9 1271 659.1 1272.8 659.3 1274.6 659.5 1276.4 659.7 1278.3 659.9 1280.1 660.1 1281.9 660.4 1283.7 660.6 1285.5 660.9 1287.3 661.1 1289.1 661.4 1290.9 661.7 1292.7 662 1294.5 662.3 1296.3 662.6 1298.1 663 1299.9 663.4 1301.7 663.8 1303.5 664.2 1305.3 664.6 1307.1 665 1308.9 665.4 1310.8 665.9 1312.6 666.4 1314.4 666.8 1316.2 667.3 1318 667.9 1319.8 668.4 1321.6 669 1323.4 669.6 1325.2 670.2 1327 670.8 1328.8 671.5 1330.6 672.2 1332.4 672.9 1334.2 673.7 1336 674.5 1337.8 675.4 1339.6 676.2 1341.5 677.1 1343.3 678 1345.1 679 1346.9 679.9 1348.7 680.9 1350.5 681.8 1352.3 682.8 1354.1 683.7 1355.9 684.8 1357.7 685.9 1359.5 687 1361.3 688.2 1363.1 689.4 1364.9 690.5 1366.7 691.7 1368.5 692.8 1370.3 693.8 1372.2 694.8 1374 695.7 1375.8 696.5 1377.6 697.2 1379.4 697.8 1381.2 698.3 1383 698.9 1384.8 699.4 1386.6 700 1388.4 700.6 1390.2 701.3 1392 702 1393.8 702.8 1395.6 703.7 1397.4 704.8 1399.2 706.1 1401 708 1402.8 710 1404.7 711.8 1406.5 713.2 1408.3 714.4 1410.1 715.6 1411.9 716.5 1413.7 717.1 1415.5 717.5 1417.3 717.8 1419.1 718 1420.9 718.2 1422.7 718.2 1424.5 718.2 1426.3 717.7 1428.1 717.1 1429.9 716.3 1431.7 715.5 1433.5 714.5 1435.4 713.4 1437.2 712 1439 710.4 1440.8 708.7 1442.6 706.9 1444.4 704.7 1446.2 702.3 1448 699.7 1449.8 696.9 1451.6 693.8 1453.4 690.3 1455.2 686.8 1457 683.5 1458.8 680.7 1460.6 678 1462.4 675.5 1464.2 673.2 1466.1 671.1 1467.9 669.1 1469.7 667.3 1471.5 665.8 1473.3 664.6 1475.1 663.5 1476.9 662.6 1478.7 661.8 1480.5 661.1 1482.3 660.6 1484.1 660.1 1485.9 659.7 1487.7 659.3 1489.5 659.1 1491.3 658.8 1493.1 658.6 1494.9 658.4 1496.7 658.3 1498.6 658.2 1500.4 658.2 1502.2 658.2 1504 658.2 1505.8 658.2 1507.6 658.2 1509.4 658.2 1511.2 658.2 1513" stroke="#d8443c" stroke-width="4.2" fill="none" stroke-linejoin="round" stroke-linecap="round" clip-path="url(#cc3)"/><path d="M658.2 1410 658.3 1411.2 658.3 1412.4 658.3 1413.6 658.3 1414.8 658.4 1416 658.4 1417.2 658.5 1418.4 658.5 1419.6 658.6 1420.8 658.7 1422 658.8 1423.2 658.8 1424.4 658.9 1425.6 659 1426.8 659.1 1428 659.2 1429.2 659.3 1430.4 659.4 1431.6 659.5 1432.8 659.7 1434 659.8 1435.2 660 1436.4 660.2 1437.6 660.3 1438.8 660.5 1440 660.7 1441.2 661 1442.4 661.2 1443.6 661.4 1444.8 661.6 1446 661.9 1447.2 662.2 1448.4 662.5 1449.6 662.9 1450.8 663.3 1452.1 663.7 1453.3 664.3 1454.5 665 1455.7 665.7 1456.9 666.5 1458.1 667.5 1459.3 668.6 1460.5 669.9 1461.7 671.5 1462.9 673.2 1464.1 675.1 1465.3 677.1 1466.5 679.5 1467.7 682.4 1468.9 685.4 1470.1 688.4 1471.3 691.2 1472.5 693.5 1473.7 695.7 1474.9 697.8 1476.1 699.7 1477.3 701.7 1478.5 703.7 1479.7 705.8 1480.9 708 1482.1 710.1 1483.3 712.3 1484.5 714.4 1485.7 716.5 1486.9 718.4 1488.1 720.2 1489.3 721.9 1490.5 723.6 1491.7 725.2 1492.9 726.7 1494.1 728.3 1495.3 729.9 1496.5 731.5 1497.7 733.1 1498.9 734.7 1500.1 736.2 1501.3 737.7 1502.5 739.1 1503.7 740.5 1504.9 741.9 1506.1 743.3 1507.3 744.5 1508.5 745.5 1509.7 746.2 1510.9 746.7 1512.1 747.2 1513.3 747.6 1514.5 748 1515.7 748.2 1516.9 748.2 1518.1 747.9 1519.3 747.1 1520.5 746 1521.7 744.6 1522.9 743.2 1524.1 741.9 1525.3 740.4 1526.5 738.7 1527.7 736.9 1528.9 735 1530.1 733 1531.3 731 1532.5 729 1533.7 726.8 1534.9 724.5 1536.2 722.2 1537.4 719.9 1538.6 717.7 1539.8 715.6 1541 713.6 1542.2 711.6 1543.4 709.6 1544.6 707.5 1545.8 705.3 1547 702.9 1548.2 700.1 1549.4 697 1550.6 693.8 1551.8 690.5 1553 687.3 1554.2 684.3 1555.4 681.3 1556.6 678.2 1557.8 675.1 1559 672.3 1560.2 669.8 1561.4 667.8 1562.6 666.3 1563.8 665.1 1565 663.9 1566.2 663 1567.4 662.1 1568.6 661.4 1569.8 660.7 1571 660.1 1572.2 659.5 1573.4 659 1574.6 658.6 1575.8 658.2 1577" stroke="#5bbfaa" stroke-width="4.2" fill="none" stroke-linejoin="round" stroke-linecap="round" clip-path="url(#cc3)"/><path d="M658.2 1480 658.9 1481.2 659.6 1482.3 660.3 1483.5 661 1484.6 661.7 1485.8 662.4 1486.9 663.1 1488.1 663.8 1489.2 664.5 1490.4 665.2 1491.5 666 1492.7 666.8 1493.8 667.6 1495 668.4 1496.1 669 1497.3 669.5 1498.4 669.9 1499.6 670.3 1500.7 670.6 1501.9 670.8 1503 671.1 1504.2 671.3 1505.3 671.5 1506.5 671.7 1507.6 671.9 1508.8 672.1 1509.9 672.3 1511.1 672.4 1512.2 672.6 1513.4 672.8 1514.5 672.9 1515.7 673 1516.8 673.2 1518 673.3 1519.1 673.4 1520.3 673.6 1521.4 673.8 1522.6 674 1523.7 674.2 1524.9 674.5 1526 674.9 1527.2 675.4 1528.3 675.9 1529.5 676.5 1530.6 677.1 1531.8 677.8 1532.9 678.4 1534.1 679.2 1535.3 679.9 1536.4 680.6 1537.6 681.3 1538.7 682.1 1539.9 682.9 1541 683.7 1542.2 684.6 1543.3 685.6 1544.5 686.7 1545.6 687.8 1546.8 689.1 1547.9 690.8 1549.1 693 1550.2 695.5 1551.4 698.1 1552.5 700.7 1553.7 702.9 1554.8 704.9 1556 706.7 1557.1 708.5 1558.3 710.2 1559.4 711.8 1560.6 713.4 1561.7 715.1 1562.9 716.7 1564 718.4 1565.2 720.1 1566.3 721.8 1567.5 723.4 1568.6 724.9 1569.8 726.2 1570.9 727.3 1572.1 728.1 1573.2 728.8 1574.4 729.6 1575.5 730.5 1576.7 731.6 1577.8 733.2 1579 737.3 1580.1 744.5 1581.3 753 1582.4 760.9 1583.6 767.5 1584.7 774.7 1585.9 781.7 1587.1 787.2 1588.2 790.1 1589.4 789.9 1590.5 788.6 1591.7 786.6 1592.8 783.8 1594 779.4 1595.1 774 1596.3 768.1 1597.4 760.8 1598.6 752.5 1599.7 744.2 1600.9 736.2 1602 728.1 1603.2 719.6 1604.3 710.6 1605.5 701.2 1606.6 692 1607.8 683.7 1608.9 678.1 1610.1 673.7 1611.2 670.2 1612.4 667 1613.5 664.7 1614.7 663.3 1615.8 662.1 1617 661.1 1618.1 660.3 1619.3 659.7 1620.4 659.3 1621.6 659.2 1622.7 659 1623.9 658.9 1625 658.8 1626.2 658.7 1627.3 658.6 1628.5 658.6 1629.6 658.5 1630.8 658.4 1631.9 658.4 1633.1 658.3 1634.2 658.3 1635.4 658.3 1636.5 658.3 1637.7 658.3 1638.8 658.2 1640" stroke="#7b2483" stroke-width="4.2" fill="none" stroke-linejoin="round" stroke-linecap="round" clip-path="url(#cc3)"/><path d="M658.2 1585 658.3 1585.8 658.4 1586.5 658.6 1587.3 658.9 1588 659.3 1588.8 659.7 1589.5 660.1 1590.3 660.7 1591 661.3 1591.8 661.9 1592.6 662.6 1593.3 663.3 1594.1 664.4 1594.8 665.9 1595.6 667.9 1596.3 670.3 1597.1 673 1597.8 676.1 1598.6 679.3 1599.4 682.7 1600.1 686.2 1600.9 689.8 1601.6 694.2 1602.4 699.4 1603.1 705.2 1603.9 711.5 1604.6 717.7 1605.4 723.8 1606.2 729.4 1606.9 734.2 1607.7 738.6 1608.4 742.7 1609.2 746.6 1609.9 750.4 1610.7 754.1 1611.4 757.6 1612.2 761.2 1612.9 764.7 1613.7 768.4 1614.5 772.1 1615.2 776 1616 780.1 1616.7 785 1617.5 790.5 1618.2 796.3 1619 802.1 1619.7 807.5 1620.5 812.2 1621.3 815.9 1622 818.4 1622.8 819.2 1623.5 818.6 1624.3 817 1625 814.5 1625.8 811.3 1626.5 807.7 1627.3 803.9 1628.1 800 1628.8 796.2 1629.6 792.8 1630.3 789.1 1631.1 785.1 1631.8 781 1632.6 776.7 1633.3 772.4 1634.1 768.1 1634.9 763.9 1635.6 759.9 1636.4 756.2 1637.1 752.6 1637.9 749.1 1638.6 745.8 1639.4 742.5 1640.1 739.3 1640.9 736.1 1641.7 732.8 1642.4 729.6 1643.2 726.2 1643.9 722.8 1644.7 719.2 1645.4 715.2 1646.2 711.1 1646.9 706.9 1647.7 702.6 1648.5 698.3 1649.2 694.2 1650 690.3 1650.7 686.7 1651.5 683.5 1652.2 680.8 1653 678.4 1653.7 676.1 1654.5 673.9 1655.3 671.9 1656 670.1 1656.8 668.7 1657.5 667.6 1658.3 666.9 1659 666.3 1659.8 665.7 1660.5 665.3 1661.3 664.9 1662.1 664.5 1662.8 664.2 1663.6 663.9 1664.3 663.6 1665.1 663.3 1665.8 663.1 1666.6 662.8 1667.3 662.6 1668.1 662.3 1668.8 662.1 1669.6 661.9 1670.4 661.7 1671.1 661.5 1671.9 661.3 1672.6 661.1 1673.4 661 1674.1 660.8 1674.9 660.6 1675.6 660.5 1676.4 660.3 1677.2 660.2 1677.9 660 1678.7 659.9 1679.4 659.7 1680.2 659.6 1680.9 659.5 1681.7 659.3 1682.4 659.2 1683.2 659.1 1684 659 1684.7 658.9 1685.5 658.7 1686.2 658.6 1687 658.5 1687.7 658.4 1688.5 658.3 1689.2 658.2 1690" stroke="#f5b946" stroke-width="4.2" fill="none" stroke-linejoin="round" stroke-linecap="round" clip-path="url(#cc3)"/><path d="M817 1713v-5.5M817 1238.5v5.5M658.2 1641.8h5.5M848.5 1641.8h-5.5M658.2 1498.6h5.5M848.5 1498.6h-5.5M658.2 1355.5h5.5M848.5 1355.5h-5.5" stroke="#1c1c1c" stroke-width="1.8" fill="none"/><rect x="658.2" y="1238.5" width="190.2" height="474.5" fill="none" stroke="#1c1c1c" stroke-width="2"/><text x="659.3" y="1748.8" font-size="25" text-anchor="middle" fill="#1e1e1e">0</text><text x="821" y="1748.8" font-size="25" text-anchor="middle" fill="#1e1e1e">0.05</text><text x="753.5" y="1798.5" font-size="38" text-anchor="middle" fill="#1e1e1e">counts</text><text x="0" y="0" font-size="88" font-weight="bold" fill="#1a1a1a" transform="translate(934.6 1017.3) scale(0.99 1)">d</text><rect x="1121.5" y="1065.5" width="207.5" height="95.5" fill="#862a84"/><rect x="1329" y="1065.5" width="221" height="95.5" fill="#fbbe50"/><rect x="1550" y="1065.5" width="234" height="95.5" fill="#dc453a"/><rect x="1784" y="1065.5" width="182" height="95.5" fill="#5cbfad"/><rect x="1121.5" y="1198.2" width="207.5" height="63.2" fill="#efefef"/><rect x="1329" y="1198.2" width="221" height="63.2" fill="#d9d9d9"/><rect x="1550" y="1198.2" width="234" height="63.2" fill="#bfbfbf"/><rect x="1784" y="1198.2" width="182" height="63.2" fill="#a6a6a6"/><rect x="1121.5" y="1300.5" width="207.5" height="90.5" fill="#efefef"/><rect x="1329" y="1300.5" width="221" height="90.5" fill="#d9d9d9"/><rect x="1550" y="1300.5" width="234" height="90.5" fill="#bfbfbf"/><rect x="1784" y="1300.5" width="182" height="90.5" fill="#a6a6a6"/><rect x="1121.5" y="1391" width="207.5" height="92.5" fill="#efefef"/><rect x="1329" y="1391" width="221" height="92.5" fill="#d9d9d9"/><rect x="1550" y="1391" width="234" height="92.5" fill="#bfbfbf"/><rect x="1784" y="1391" width="182" height="92.5" fill="#a6a6a6"/><rect x="1121.5" y="1520.5" width="207.5" height="93.2" fill="#efefef"/><rect x="1329" y="1520.5" width="221" height="93.2" fill="#a6a6a6"/><rect x="1550" y="1520.5" width="234" height="93.2" fill="#d9d9d9"/><rect x="1784" y="1520.5" width="182" height="93.2" fill="#bfbfbf"/><path d="M1121.5 1065.5H1966M949 1110H1966M949 1161H1966M949 1198.25H1966M949 1261.5H1966M949 1300.5H1966M949 1391H1966M949 1483.5H1966M949 1520.5H1966M949 1613.75H1966M949 1110V1613.75M1121.5 1065.5V1613.75M1966 1065.5V1613.75M1329 1065.5V1161M1329 1198.25V1261.5M1329 1300.5V1483.5M1329 1520.5V1613.75M1550 1065.5V1161M1550 1198.25V1261.5M1550 1300.5V1483.5M1550 1520.5V1613.75M1784 1065.5V1161M1784 1198.25V1261.5M1784 1300.5V1483.5M1784 1520.5V1613.75" stroke="#111" stroke-width="3" fill="none" stroke-linecap="square"/><text x="1225.2" y="1094.4" font-size="25" text-anchor="middle" font-weight="bold" fill="#fff" word-spacing="-4" letter-spacing="0">size 1</text><text x="1225.3" y="1146.3" font-size="25" text-anchor="middle" font-weight="bold" fill="#fff" letter-spacing="0.1">melamine</text><text x="1439.5" y="1094.4" font-size="25" text-anchor="middle" font-weight="bold" fill="#fff" word-spacing="-4" letter-spacing="0">size 2</text><text x="1439.5" y="1146.3" font-size="25" text-anchor="middle" font-weight="bold" fill="#fff" letter-spacing="0.1">glass</text><text x="1667" y="1094.4" font-size="25" text-anchor="middle" font-weight="bold" fill="#fff" word-spacing="-4" letter-spacing="0">size 3</text><text x="1667" y="1146.3" font-size="25" text-anchor="middle" font-weight="bold" fill="#fff" letter-spacing="0.1">polystyrene</text><text x="1875" y="1094.4" font-size="25" text-anchor="middle" font-weight="bold" fill="#fff" word-spacing="-4" letter-spacing="0">size 4</text><text x="1875" y="1146.3" font-size="25" text-anchor="middle" font-weight="bold" fill="#fff" letter-spacing="0.1">PMMA</text><text x="1033" y="1146.3" font-size="25" text-anchor="middle" fill="#1e1e1e" letter-spacing="0.2">material</text><text x="1033" y="1224.5" font-size="25" text-anchor="middle" fill="#1e1e1e" letter-spacing="0.2">supplier</text><text x="1033" y="1252.5" font-size="25" text-anchor="middle" fill="#1e1e1e" letter-spacing="0.2">specification</text><text x="1033" y="1351.5" font-size="25" text-anchor="middle" fill="#1e1e1e" letter-spacing="0.2">RT-FDC</text><text x="1033" y="1443" font-size="25" text-anchor="middle" fill="#1e1e1e" letter-spacing="0.2">soRT-FDC</text><text x="1033" y="1572.5" font-size="25" text-anchor="middle" fill="#1e1e1e" letter-spacing="0.2">FC</text><text x="1543.8" y="1188.8" font-size="25" text-anchor="middle" fill="#1e1e1e" letter-spacing="0">diameter (µm), <tspan font-style="italic">µ</tspan><tspan dx="2">±</tspan><tspan dx="2" font-style="italic">σ</tspan></text><text x="1543.8" y="1291.2" font-size="25" text-anchor="middle" fill="#1e1e1e" letter-spacing="0">diameter (µm), recalcuated from measured area, <tspan font-style="italic">µ</tspan><tspan dx="2">±</tspan><tspan dx="2" font-style="italic">σ</tspan></text><text x="1543.8" y="1510.5" font-size="25" text-anchor="middle" fill="#1e1e1e" letter-spacing="0">FSC-A × 10<tspan dy="-9" font-size="16">4</tspan><tspan dy="9"> (a.u.), </tspan><tspan font-style="italic">µ</tspan><tspan dx="2">±</tspan><tspan dx="2" font-style="italic">σ</tspan></text><text x="1225.4" y="1238.8" font-size="25" text-anchor="middle" fill="#1e1e1e" letter-spacing="0.3">9.78<tspan dx="2.2">±</tspan><tspan dx="3">0.15</tspan></text><text x="1439.7" y="1238.8" font-size="25" text-anchor="middle" fill="#1e1e1e" letter-spacing="0.3">13.79<tspan dx="2.2">±</tspan><tspan dx="3">0.59</tspan></text><text x="1667.2" y="1238.8" font-size="25" text-anchor="middle" fill="#1e1e1e" letter-spacing="0.3">15.21<tspan dx="2.2">±</tspan><tspan dx="3">0.31</tspan></text><text x="1875.2" y="1238.8" font-size="25" text-anchor="middle" fill="#1e1e1e" letter-spacing="0.3">17.23<tspan dx="2.2">±</tspan><tspan dx="3">0.24</tspan></text><text x="1225.4" y="1340" font-size="25" text-anchor="middle" fill="#1e1e1e" letter-spacing="0.3">10.68<tspan dx="2.2">±</tspan><tspan dx="3">0.17</tspan></text><text x="1225.4" y="1368" font-size="25" text-anchor="middle" fill="#1e1e1e" letter-spacing="0.3"><tspan font-style="italic">n</tspan><tspan dx="2.5">=</tspan><tspan dx="2.5">755</tspan></text><text x="1439.7" y="1340" font-size="25" text-anchor="middle" fill="#1e1e1e" letter-spacing="0.3">14.53<tspan dx="2.2">±</tspan><tspan dx="3">0.47</tspan></text><text x="1439.7" y="1368" font-size="25" text-anchor="middle" fill="#1e1e1e" letter-spacing="0.3"><tspan font-style="italic">n</tspan><tspan dx="2.5">=</tspan><tspan dx="2.5">496</tspan></text><text x="1667.2" y="1340" font-size="25" text-anchor="middle" fill="#1e1e1e" letter-spacing="0.3">16.01<tspan dx="2.2">±</tspan><tspan dx="3">0.31</tspan></text><text x="1667.2" y="1368" font-size="25" text-anchor="middle" fill="#1e1e1e" letter-spacing="0.3"><tspan font-style="italic">n</tspan><tspan dx="2.5">=</tspan><tspan dx="2.5">1089</tspan></text><text x="1875.2" y="1340" font-size="25" text-anchor="middle" fill="#1e1e1e" letter-spacing="0.3">17.82<tspan dx="2.2">±</tspan><tspan dx="3">0.21</tspan></text><text x="1875.2" y="1368" font-size="25" text-anchor="middle" fill="#1e1e1e" letter-spacing="0.3"><tspan font-style="italic">n</tspan><tspan dx="2.5">=</tspan><tspan dx="2.5">1039</tspan></text><text x="1225.4" y="1433" font-size="25" text-anchor="middle" fill="#1e1e1e" letter-spacing="0.3">10.60<tspan dx="2.2">±</tspan><tspan dx="3">0.29</tspan></text><text x="1225.4" y="1462" font-size="25" text-anchor="middle" fill="#1e1e1e" letter-spacing="0.3"><tspan font-style="italic">n</tspan><tspan dx="2.5">=</tspan><tspan dx="2.5">1165</tspan></text><text x="1439.7" y="1433" font-size="25" text-anchor="middle" fill="#1e1e1e" letter-spacing="0.3">14.54<tspan dx="2.2">±</tspan><tspan dx="3">0.54</tspan></text><text x="1439.7" y="1462" font-size="25" text-anchor="middle" fill="#1e1e1e" letter-spacing="0.3"><tspan font-style="italic">n</tspan><tspan dx="2.5">=</tspan><tspan dx="2.5">1332</tspan></text><text x="1667.2" y="1433" font-size="25" text-anchor="middle" fill="#1e1e1e" letter-spacing="0.3">15.71<tspan dx="2.2">±</tspan><tspan dx="3">0.32</tspan></text><text x="1667.2" y="1462" font-size="25" text-anchor="middle" fill="#1e1e1e" letter-spacing="0.3"><tspan font-style="italic">n</tspan><tspan dx="2.5">=</tspan><tspan dx="2.5">1371</tspan></text><text x="1875.2" y="1433" font-size="25" text-anchor="middle" fill="#1e1e1e" letter-spacing="0.3">17.63<tspan dx="2.2">±</tspan><tspan dx="3">0.26</tspan></text><text x="1875.2" y="1462" font-size="25" text-anchor="middle" fill="#1e1e1e" letter-spacing="0.3"><tspan font-style="italic">n</tspan><tspan dx="2.5">=</tspan><tspan dx="2.5">1398</tspan></text><text x="1225.4" y="1560" font-size="25" text-anchor="middle" fill="#1e1e1e" letter-spacing="0.3">3.93<tspan dx="2.2">±</tspan><tspan dx="3">0.12</tspan></text><text x="1225.4" y="1588.8" font-size="25" text-anchor="middle" fill="#1e1e1e" letter-spacing="0.3"><tspan font-style="italic">n</tspan><tspan dx="2.5">=</tspan><tspan dx="2.5">6680</tspan></text><text x="1439.7" y="1560" font-size="25" text-anchor="middle" fill="#1e1e1e" letter-spacing="0.3">14.07<tspan dx="2.2">±</tspan><tspan dx="3">1.02</tspan></text><text x="1439.7" y="1588.8" font-size="25" text-anchor="middle" fill="#1e1e1e" letter-spacing="0.3"><tspan font-style="italic">n</tspan><tspan dx="2.5">=</tspan><tspan dx="2.5">37561</tspan></text><text x="1667.2" y="1560" font-size="25" text-anchor="middle" fill="#1e1e1e" letter-spacing="0.3">6.85<tspan dx="2.2">±</tspan><tspan dx="3">0.25</tspan></text><text x="1667.2" y="1588.8" font-size="25" text-anchor="middle" fill="#1e1e1e" letter-spacing="0.3"><tspan font-style="italic">n</tspan><tspan dx="2.5">=</tspan><tspan dx="2.5">1966</tspan></text><text x="1875.2" y="1560" font-size="25" text-anchor="middle" fill="#1e1e1e" letter-spacing="0.3">13.16<tspan dx="2.2">±</tspan><tspan dx="3">0.25</tspan></text><text x="1875.2" y="1588.8" font-size="25" text-anchor="middle" fill="#1e1e1e" letter-spacing="0.3"><tspan font-style="italic">n</tspan><tspan dx="2.5">=</tspan><tspan dx="2.5">1355</tspan></text></svg>
</body></html>
